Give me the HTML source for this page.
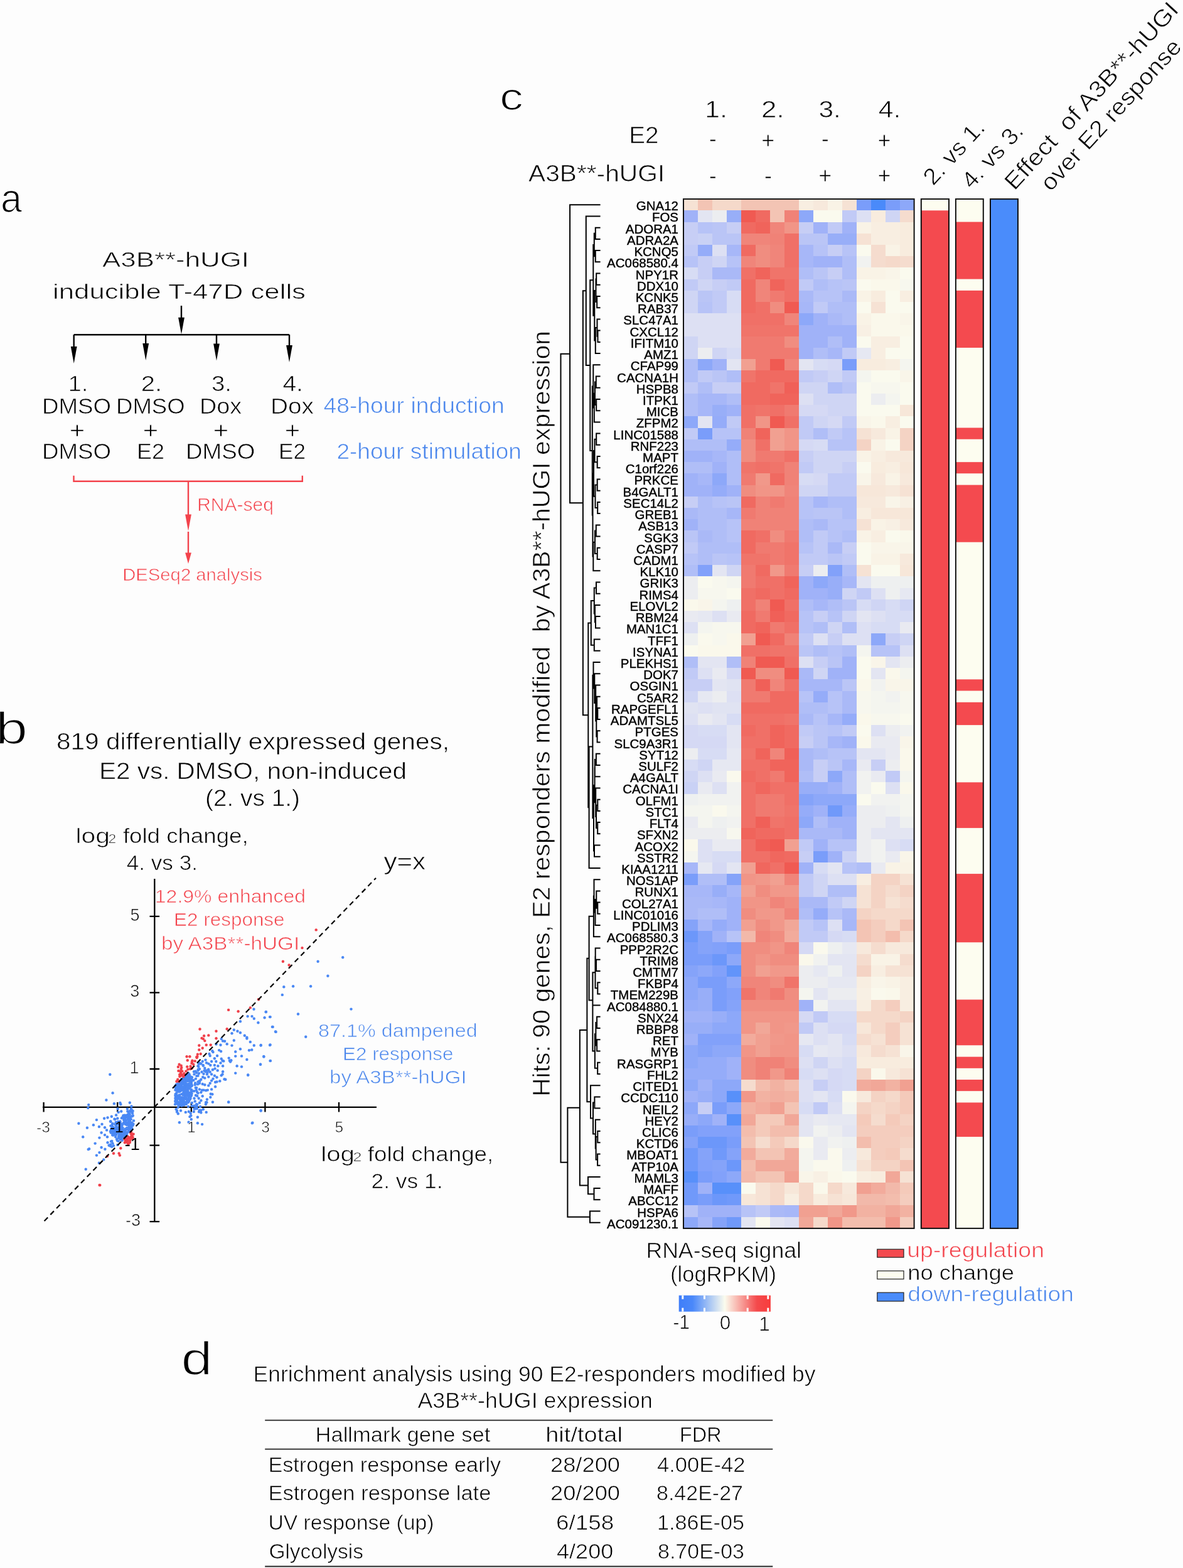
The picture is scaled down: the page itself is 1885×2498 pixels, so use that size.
<!DOCTYPE html><html><head><meta charset="utf-8"><title>Figure</title><style>html,body{margin:0;padding:0;background:#fdfdfd;}svg{display:block;}text{font-family:'Liberation Sans', Arial, sans-serif;} .th{stroke:#fdfdfd;stroke-width:0.7px;} .thp{stroke:#fdfdfd;stroke-width:1.6px;}</style></head><body>
<svg width="1885" height="2498" viewBox="0 0 1885 2498">
<rect width="1885" height="2498" fill="#fdfdfd"/>
<g stroke="#000" stroke-width="2.4" fill="none">
<path d="M289 487V510M117.7 533.3H461M117.7 533.3V555M232.2 533.3V550M345 533.3V550M461 533.3V552"/>
</g>
<path d="M284.1 505.8L293.9 505.8L289.0 532.5Z" fill="#000"/>
<path d="M112.8 551.9L122.6 551.9L117.7 578.9Z" fill="#000"/>
<path d="M227.3 547.1L237.1 547.1L232.2 574.1Z" fill="#000"/>
<path d="M340.1 547.5L349.9 547.5L345.0 574.5Z" fill="#000"/>
<path d="M456.1 550.0L465.9 550.0L461.0 577.0Z" fill="#000"/>
<path d="M117.5 757.7V766.8H481.8V757.7M300 766.8V825M300 847V882" stroke="#f3434c" stroke-width="2.4" fill="none"/>
<path d="M295.1 819.5L304.9 819.5L300.0 846.0Z" fill="#f3434c"/>
<path d="M295.1 880.6L304.9 880.6L300.0 898.0Z" fill="#f3434c"/>
<g stroke="#000" stroke-width="2.3" fill="none">
<path d="M246.3 1399.9V1946.2M68 1763.8H600"/>
<path d="M69.6 1756V1771.5M187.2 1756V1771.5M304.8 1756V1771.5M422.4 1756V1771.5M540.0 1756V1771.5M238.5 1459.8H254.1M238.5 1581.4H254.1M238.5 1703.0H254.1M238.5 1824.6H254.1M238.5 1946.2H254.1"/>
</g>
<g fill="#4a88f4"><circle cx="546.2" cy="1525.2" r="2.2"/><circle cx="506.6" cy="1531.7" r="2.2"/><circle cx="522.4" cy="1554.7" r="2.2"/><circle cx="452.3" cy="1572.3" r="2.2"/><circle cx="467.1" cy="1571.2" r="2.2"/><circle cx="495.1" cy="1571.2" r="2.2"/><circle cx="449.8" cy="1584.9" r="2.2"/><circle cx="559.5" cy="1607.6" r="2.2"/><circle cx="475.0" cy="1615.5" r="2.2"/><circle cx="487.2" cy="1651.8" r="2.2"/><circle cx="404.5" cy="1607.7" r="2.2"/><circle cx="423.7" cy="1612.2" r="2.2"/><circle cx="394.6" cy="1619.1" r="2.2"/><circle cx="401.5" cy="1619.1" r="2.2"/><circle cx="404.8" cy="1622.7" r="2.2"/><circle cx="421.6" cy="1621.3" r="2.2"/><circle cx="430.6" cy="1620.1" r="2.2"/><circle cx="411.4" cy="1629.3" r="2.2"/><circle cx="382.9" cy="1627.3" r="2.2"/><circle cx="433.9" cy="1635.9" r="2.2"/><circle cx="439.6" cy="1643.9" r="2.2"/><circle cx="372.8" cy="1640.7" r="2.2"/><circle cx="378.4" cy="1642.7" r="2.2"/><circle cx="382.9" cy="1645.3" r="2.2"/><circle cx="369.5" cy="1646.2" r="2.2"/><circle cx="389.8" cy="1649.7" r="2.2"/><circle cx="393.4" cy="1652.7" r="2.2"/><circle cx="393.4" cy="1654.5" r="2.2"/><circle cx="372.8" cy="1657.5" r="2.2"/><circle cx="352.7" cy="1655.1" r="2.2"/><circle cx="355.1" cy="1658.4" r="2.2"/><circle cx="358.1" cy="1658.7" r="2.2"/><circle cx="398.8" cy="1659.9" r="2.2"/><circle cx="361.7" cy="1663.2" r="2.2"/><circle cx="369.5" cy="1665.6" r="2.2"/><circle cx="351.5" cy="1664.7" r="2.2"/><circle cx="344.5" cy="1663.5" r="2.2"/><circle cx="404.8" cy="1665.5" r="2.2"/><circle cx="415.6" cy="1665.5" r="2.2"/><circle cx="430.6" cy="1664.4" r="2.2"/><circle cx="382.9" cy="1671.3" r="2.2"/><circle cx="397.0" cy="1673.3" r="2.2"/><circle cx="401.2" cy="1672.5" r="2.2"/><circle cx="375.2" cy="1675.5" r="2.2"/><circle cx="375.2" cy="1682.6" r="2.2"/><circle cx="349.1" cy="1673.1" r="2.2"/><circle cx="352.1" cy="1674.9" r="2.2"/><circle cx="338.3" cy="1674.3" r="2.2"/><circle cx="339.5" cy="1676.1" r="2.2"/><circle cx="346.1" cy="1682.0" r="2.2"/><circle cx="333.5" cy="1679.0" r="2.2"/><circle cx="334.7" cy="1682.0" r="2.2"/><circle cx="385.0" cy="1682.4" r="2.2"/><circle cx="420.4" cy="1683.6" r="2.2"/><circle cx="364.7" cy="1685.6" r="2.2"/><circle cx="365.9" cy="1689.8" r="2.2"/><circle cx="368.3" cy="1689.2" r="2.2"/><circle cx="367.1" cy="1691.6" r="2.2"/><circle cx="393.4" cy="1688.0" r="2.2"/><circle cx="430.6" cy="1690.1" r="2.2"/><circle cx="341.9" cy="1686.2" r="2.2"/><circle cx="352.7" cy="1686.8" r="2.2"/><circle cx="354.5" cy="1689.8" r="2.2"/><circle cx="356.3" cy="1690.4" r="2.2"/><circle cx="351.5" cy="1693.4" r="2.2"/><circle cx="347.3" cy="1698.2" r="2.2"/><circle cx="355.1" cy="1698.2" r="2.2"/><circle cx="415.0" cy="1695.8" r="2.2"/><circle cx="377.6" cy="1698.2" r="2.2"/><circle cx="385.0" cy="1699.4" r="2.2"/><circle cx="342.5" cy="1702.4" r="2.2"/><circle cx="346.7" cy="1705.4" r="2.2"/><circle cx="355.1" cy="1707.2" r="2.2"/><circle cx="352.7" cy="1713.2" r="2.2"/><circle cx="354.5" cy="1711.4" r="2.2"/><circle cx="375.2" cy="1709.6" r="2.2"/><circle cx="395.2" cy="1712.8" r="2.2"/><circle cx="345.5" cy="1716.2" r="2.2"/><circle cx="350.3" cy="1722.2" r="2.2"/><circle cx="357.5" cy="1719.2" r="2.2"/><circle cx="359.3" cy="1719.8" r="2.2"/><circle cx="337.1" cy="1721.6" r="2.2"/><circle cx="343.1" cy="1724.0" r="2.2"/><circle cx="345.5" cy="1723.4" r="2.2"/><circle cx="343.1" cy="1731.2" r="2.2"/><circle cx="337.1" cy="1735.4" r="2.2"/><circle cx="338.3" cy="1743.2" r="2.2"/><circle cx="335.3" cy="1748.0" r="2.2"/><circle cx="329.9" cy="1751.5" r="2.2"/><circle cx="322.7" cy="1746.2" r="2.2"/><circle cx="324.5" cy="1736.6" r="2.2"/><circle cx="328.1" cy="1737.2" r="2.2"/><circle cx="338.9" cy="1755.7" r="2.2"/><circle cx="364.1" cy="1755.7" r="2.2"/><circle cx="319.1" cy="1762.9" r="2.2"/><circle cx="320.3" cy="1768.9" r="2.2"/><circle cx="320.3" cy="1772.5" r="2.2"/><circle cx="328.7" cy="1771.9" r="2.2"/><circle cx="295.8" cy="1771.9" r="2.2"/><circle cx="282.0" cy="1771.3" r="2.2"/><circle cx="283.8" cy="1774.3" r="2.2"/><circle cx="304.2" cy="1777.3" r="2.2"/><circle cx="302.4" cy="1779.1" r="2.2"/><circle cx="314.9" cy="1779.7" r="2.2"/><circle cx="304.8" cy="1783.3" r="2.2"/><circle cx="314.9" cy="1789.3" r="2.2"/><circle cx="322.1" cy="1791.1" r="2.2"/><circle cx="415.6" cy="1769.5" r="2.2"/><circle cx="401.8" cy="1789.3" r="2.2"/><circle cx="309.5" cy="1766.5" r="2.2"/><circle cx="312.5" cy="1764.1" r="2.2"/><circle cx="309.5" cy="1761.7" r="2.2"/><circle cx="305.9" cy="1761.7" r="2.2"/><circle cx="300.0" cy="1762.9" r="2.2"/><circle cx="283.8" cy="1764.1" r="2.2"/><circle cx="282.0" cy="1769.5" r="2.2"/><circle cx="332.3" cy="1694.6" r="2.2"/><circle cx="335.3" cy="1697.0" r="2.2"/><circle cx="326.3" cy="1701.8" r="2.2"/><circle cx="328.7" cy="1705.4" r="2.2"/><circle cx="321.5" cy="1707.8" r="2.2"/><circle cx="324.5" cy="1710.8" r="2.2"/><circle cx="329.9" cy="1711.4" r="2.2"/><circle cx="332.3" cy="1715.6" r="2.2"/><circle cx="326.3" cy="1717.4" r="2.2"/><circle cx="320.3" cy="1719.8" r="2.2"/><circle cx="315.5" cy="1723.4" r="2.2"/><circle cx="317.9" cy="1725.8" r="2.2"/><circle cx="322.7" cy="1727.0" r="2.2"/><circle cx="326.3" cy="1728.2" r="2.2"/><circle cx="332.3" cy="1729.4" r="2.2"/><circle cx="334.7" cy="1725.8" r="2.2"/><circle cx="339.5" cy="1718.6" r="2.2"/><circle cx="341.9" cy="1713.8" r="2.2"/><circle cx="337.1" cy="1711.4" r="2.2"/><circle cx="334.7" cy="1707.8" r="2.2"/><circle cx="338.9" cy="1704.2" r="2.2"/><circle cx="341.9" cy="1697.0" r="2.2"/><circle cx="344.3" cy="1691.0" r="2.2"/><circle cx="337.1" cy="1691.0" r="2.2"/><circle cx="327.5" cy="1688.6" r="2.2"/><circle cx="322.7" cy="1691.0" r="2.2"/><circle cx="320.3" cy="1694.6" r="2.2"/><circle cx="315.5" cy="1698.2" r="2.2"/><circle cx="317.9" cy="1703.0" r="2.2"/><circle cx="313.1" cy="1709.0" r="2.2"/><circle cx="315.5" cy="1713.8" r="2.2"/><circle cx="311.9" cy="1718.6" r="2.2"/><circle cx="309.5" cy="1711.4" r="2.2"/><circle cx="305.9" cy="1716.2" r="2.2"/><circle cx="308.3" cy="1721.0" r="2.2"/><circle cx="310.7" cy="1728.2" r="2.2"/><circle cx="305.9" cy="1729.4" r="2.2"/><circle cx="313.1" cy="1733.0" r="2.2"/><circle cx="317.9" cy="1735.4" r="2.2"/><circle cx="320.3" cy="1740.2" r="2.2"/><circle cx="315.5" cy="1741.4" r="2.2"/><circle cx="311.9" cy="1745.0" r="2.2"/><circle cx="316.7" cy="1749.7" r="2.2"/><circle cx="320.3" cy="1753.3" r="2.2"/><circle cx="309.5" cy="1749.7" r="2.2"/><circle cx="310.7" cy="1754.5" r="2.2"/><circle cx="305.9" cy="1756.9" r="2.2"/><circle cx="313.1" cy="1759.3" r="2.2"/><circle cx="317.9" cy="1756.9" r="2.2"/><circle cx="175.3" cy="1711.8" r="2.2"/><circle cx="179.6" cy="1741.2" r="2.2"/><circle cx="169.4" cy="1752.5" r="2.2"/><circle cx="181.9" cy="1758.3" r="2.2"/><circle cx="141.2" cy="1760.1" r="2.2"/><circle cx="140.3" cy="1765.1" r="2.2"/><circle cx="191.4" cy="1757.0" r="2.2"/><circle cx="192.3" cy="1759.2" r="2.2"/><circle cx="206.8" cy="1756.8" r="2.2"/><circle cx="209.5" cy="1762.4" r="2.2"/><circle cx="187.6" cy="1766.5" r="2.2"/><circle cx="193.2" cy="1770.5" r="2.2"/><circle cx="188.7" cy="1771.9" r="2.2"/><circle cx="185.1" cy="1776.4" r="2.2"/><circle cx="177.8" cy="1778.7" r="2.2"/><circle cx="171.5" cy="1780.5" r="2.2"/><circle cx="166.1" cy="1781.8" r="2.2"/><circle cx="153.9" cy="1784.1" r="2.2"/><circle cx="125.4" cy="1789.7" r="2.2"/><circle cx="176.0" cy="1786.4" r="2.2"/><circle cx="182.4" cy="1782.8" r="2.2"/><circle cx="187.3" cy="1781.8" r="2.2"/><circle cx="162.5" cy="1790.9" r="2.2"/><circle cx="148.9" cy="1792.2" r="2.2"/><circle cx="157.9" cy="1795.0" r="2.2"/><circle cx="138.9" cy="1796.8" r="2.2"/><circle cx="167.0" cy="1796.3" r="2.2"/><circle cx="170.1" cy="1800.4" r="2.2"/><circle cx="161.6" cy="1804.5" r="2.2"/><circle cx="167.0" cy="1808.1" r="2.2"/><circle cx="171.0" cy="1811.2" r="2.2"/><circle cx="132.2" cy="1811.2" r="2.2"/><circle cx="158.4" cy="1812.6" r="2.2"/><circle cx="178.7" cy="1804.9" r="2.2"/><circle cx="181.4" cy="1803.1" r="2.2"/><circle cx="151.6" cy="1821.6" r="2.2"/><circle cx="171.5" cy="1820.3" r="2.2"/><circle cx="178.3" cy="1818.0" r="2.2"/><circle cx="179.6" cy="1821.6" r="2.2"/><circle cx="176.0" cy="1825.7" r="2.2"/><circle cx="187.3" cy="1823.9" r="2.2"/><circle cx="186.9" cy="1817.1" r="2.2"/><circle cx="161.6" cy="1828.0" r="2.2"/><circle cx="167.4" cy="1830.7" r="2.2"/><circle cx="140.7" cy="1831.1" r="2.2"/><circle cx="142.1" cy="1830.2" r="2.2"/><circle cx="158.4" cy="1836.1" r="2.2"/><circle cx="153.9" cy="1840.6" r="2.2"/><circle cx="165.2" cy="1847.4" r="2.2"/><circle cx="157.9" cy="1852.8" r="2.2"/><circle cx="136.7" cy="1862.8" r="2.2"/><circle cx="176.9" cy="1800.4" r="2.2"/><circle cx="178.7" cy="1792.2" r="2.2"/><circle cx="184.2" cy="1790.4" r="2.2"/><circle cx="176.5" cy="1786.8" r="2.2"/><circle cx="183.3" cy="1783.2" r="2.2"/><circle cx="178.7" cy="1799.5" r="2.2"/><circle cx="180.5" cy="1808.5" r="2.2"/><circle cx="184.2" cy="1811.2" r="2.2"/><circle cx="186.0" cy="1814.9" r="2.2"/><circle cx="188.7" cy="1813.1" r="2.2"/><circle cx="423.9" cy="1611.9" r="2.2"/><circle cx="430.0" cy="1620.1" r="2.2"/><circle cx="434.7" cy="1636.0" r="2.2"/><circle cx="439.0" cy="1643.5" r="2.2"/><circle cx="415.7" cy="1665.0" r="2.2"/><circle cx="430.0" cy="1665.0" r="2.2"/><circle cx="420.3" cy="1683.0" r="2.2"/><circle cx="430.8" cy="1689.9" r="2.2"/><circle cx="415.0" cy="1695.6" r="2.2"/><circle cx="364.3" cy="1755.7" r="2.2"/><circle cx="395.2" cy="1712.5" r="2.2"/><circle cx="402.4" cy="1788.7" r="2.2"/><circle cx="415.7" cy="1769.3" r="2.2"/><circle cx="293.2" cy="1725.8" r="2.2"/><circle cx="280.1" cy="1733.9" r="2.2"/><circle cx="279.5" cy="1729.7" r="2.2"/><circle cx="290.2" cy="1752.1" r="2.2"/><circle cx="295.8" cy="1759.0" r="2.2"/><circle cx="294.4" cy="1727.6" r="2.2"/><circle cx="302.1" cy="1721.5" r="2.2"/><circle cx="287.0" cy="1751.5" r="2.2"/><circle cx="283.5" cy="1738.2" r="2.2"/><circle cx="296.1" cy="1726.2" r="2.2"/><circle cx="297.2" cy="1729.4" r="2.2"/><circle cx="287.1" cy="1738.4" r="2.2"/><circle cx="291.0" cy="1722.1" r="2.2"/><circle cx="300.3" cy="1744.8" r="2.2"/><circle cx="285.2" cy="1737.7" r="2.2"/><circle cx="292.9" cy="1754.9" r="2.2"/><circle cx="298.6" cy="1721.4" r="2.2"/><circle cx="290.0" cy="1748.2" r="2.2"/><circle cx="282.7" cy="1732.9" r="2.2"/><circle cx="279.6" cy="1743.1" r="2.2"/><circle cx="299.5" cy="1737.7" r="2.2"/><circle cx="302.6" cy="1722.9" r="2.2"/><circle cx="297.6" cy="1738.9" r="2.2"/><circle cx="294.4" cy="1731.0" r="2.2"/><circle cx="291.5" cy="1742.9" r="2.2"/><circle cx="280.2" cy="1745.0" r="2.2"/><circle cx="301.1" cy="1721.2" r="2.2"/><circle cx="289.1" cy="1743.1" r="2.2"/><circle cx="279.1" cy="1731.3" r="2.2"/><circle cx="280.1" cy="1748.8" r="2.2"/><circle cx="289.3" cy="1754.7" r="2.2"/><circle cx="280.7" cy="1730.6" r="2.2"/><circle cx="293.6" cy="1755.4" r="2.2"/><circle cx="301.0" cy="1754.2" r="2.2"/><circle cx="286.2" cy="1728.7" r="2.2"/><circle cx="288.4" cy="1755.4" r="2.2"/><circle cx="284.9" cy="1732.6" r="2.2"/><circle cx="294.7" cy="1720.0" r="2.2"/><circle cx="288.7" cy="1737.3" r="2.2"/><circle cx="304.7" cy="1744.4" r="2.2"/><circle cx="292.7" cy="1740.2" r="2.2"/><circle cx="303.2" cy="1749.5" r="2.2"/><circle cx="302.5" cy="1750.5" r="2.2"/><circle cx="289.3" cy="1727.7" r="2.2"/><circle cx="281.3" cy="1741.2" r="2.2"/><circle cx="279.2" cy="1754.8" r="2.2"/><circle cx="295.4" cy="1713.5" r="2.2"/><circle cx="285.4" cy="1724.8" r="2.2"/><circle cx="291.3" cy="1732.6" r="2.2"/><circle cx="301.3" cy="1714.2" r="2.2"/><circle cx="279.1" cy="1759.2" r="2.2"/><circle cx="293.0" cy="1760.8" r="2.2"/><circle cx="302.2" cy="1744.7" r="2.2"/><circle cx="285.7" cy="1725.9" r="2.2"/><circle cx="283.1" cy="1749.0" r="2.2"/><circle cx="293.1" cy="1749.4" r="2.2"/><circle cx="301.9" cy="1750.9" r="2.2"/><circle cx="301.0" cy="1747.2" r="2.2"/><circle cx="284.7" cy="1734.5" r="2.2"/><circle cx="285.6" cy="1744.5" r="2.2"/><circle cx="304.8" cy="1730.5" r="2.2"/><circle cx="304.8" cy="1725.8" r="2.2"/><circle cx="295.7" cy="1756.3" r="2.2"/><circle cx="301.6" cy="1732.3" r="2.2"/><circle cx="296.5" cy="1750.6" r="2.2"/><circle cx="280.8" cy="1742.7" r="2.2"/><circle cx="303.5" cy="1749.6" r="2.2"/><circle cx="299.1" cy="1732.2" r="2.2"/><circle cx="283.4" cy="1750.0" r="2.2"/><circle cx="287.6" cy="1750.6" r="2.2"/><circle cx="305.2" cy="1727.6" r="2.2"/><circle cx="289.5" cy="1759.0" r="2.2"/><circle cx="298.4" cy="1714.7" r="2.2"/><circle cx="282.5" cy="1752.1" r="2.2"/><circle cx="305.5" cy="1742.5" r="2.2"/><circle cx="288.1" cy="1736.3" r="2.2"/><circle cx="305.2" cy="1742.0" r="2.2"/><circle cx="293.0" cy="1758.2" r="2.2"/><circle cx="290.4" cy="1754.7" r="2.2"/><circle cx="301.2" cy="1717.0" r="2.2"/><circle cx="285.1" cy="1738.4" r="2.2"/><circle cx="285.6" cy="1728.9" r="2.2"/><circle cx="282.1" cy="1756.9" r="2.2"/><circle cx="288.2" cy="1731.1" r="2.2"/><circle cx="294.5" cy="1756.5" r="2.2"/><circle cx="290.1" cy="1757.3" r="2.2"/><circle cx="292.3" cy="1735.3" r="2.2"/><circle cx="283.2" cy="1732.0" r="2.2"/><circle cx="298.4" cy="1736.7" r="2.2"/><circle cx="287.5" cy="1734.5" r="2.2"/><circle cx="293.8" cy="1749.7" r="2.2"/><circle cx="281.4" cy="1736.9" r="2.2"/><circle cx="299.7" cy="1733.9" r="2.2"/><circle cx="293.9" cy="1748.3" r="2.2"/><circle cx="303.6" cy="1730.3" r="2.2"/><circle cx="295.3" cy="1733.8" r="2.2"/><circle cx="292.6" cy="1744.5" r="2.2"/><circle cx="290.9" cy="1735.4" r="2.2"/><circle cx="291.6" cy="1758.7" r="2.2"/><circle cx="297.7" cy="1755.0" r="2.2"/><circle cx="304.4" cy="1719.8" r="2.2"/><circle cx="293.9" cy="1758.8" r="2.2"/><circle cx="301.6" cy="1712.8" r="2.2"/><circle cx="281.8" cy="1730.2" r="2.2"/><circle cx="280.5" cy="1743.2" r="2.2"/><circle cx="300.1" cy="1756.1" r="2.2"/><circle cx="282.7" cy="1745.8" r="2.2"/><circle cx="296.7" cy="1713.1" r="2.2"/><circle cx="284.5" cy="1759.3" r="2.2"/><circle cx="289.5" cy="1732.8" r="2.2"/><circle cx="282.9" cy="1729.6" r="2.2"/><circle cx="292.7" cy="1724.3" r="2.2"/><circle cx="293.7" cy="1730.1" r="2.2"/><circle cx="295.7" cy="1734.2" r="2.2"/><circle cx="279.6" cy="1749.4" r="2.2"/><circle cx="290.1" cy="1757.0" r="2.2"/><circle cx="301.0" cy="1719.7" r="2.2"/><circle cx="282.6" cy="1757.4" r="2.2"/><circle cx="294.2" cy="1744.9" r="2.2"/><circle cx="297.4" cy="1729.2" r="2.2"/><circle cx="280.5" cy="1758.5" r="2.2"/><circle cx="295.9" cy="1750.7" r="2.2"/><circle cx="280.8" cy="1753.8" r="2.2"/><circle cx="280.3" cy="1754.2" r="2.2"/><circle cx="291.0" cy="1724.3" r="2.2"/><circle cx="293.7" cy="1757.8" r="2.2"/><circle cx="293.0" cy="1718.6" r="2.2"/><circle cx="287.1" cy="1722.4" r="2.2"/><circle cx="299.4" cy="1721.5" r="2.2"/><circle cx="298.7" cy="1736.4" r="2.2"/><circle cx="283.7" cy="1732.1" r="2.2"/><circle cx="301.0" cy="1729.6" r="2.2"/><circle cx="292.1" cy="1752.6" r="2.2"/><circle cx="289.3" cy="1733.9" r="2.2"/><circle cx="287.9" cy="1752.4" r="2.2"/><circle cx="297.9" cy="1741.3" r="2.2"/><circle cx="289.6" cy="1724.8" r="2.2"/><circle cx="280.4" cy="1747.2" r="2.2"/><circle cx="280.8" cy="1753.0" r="2.2"/><circle cx="302.4" cy="1743.2" r="2.2"/><circle cx="286.6" cy="1731.2" r="2.2"/><circle cx="282.8" cy="1730.4" r="2.2"/><circle cx="285.7" cy="1759.8" r="2.2"/><circle cx="305.2" cy="1736.2" r="2.2"/><circle cx="285.2" cy="1760.0" r="2.2"/><circle cx="287.0" cy="1725.3" r="2.2"/><circle cx="291.6" cy="1733.7" r="2.2"/><circle cx="284.0" cy="1733.8" r="2.2"/><circle cx="281.0" cy="1727.8" r="2.2"/><circle cx="294.6" cy="1735.2" r="2.2"/><circle cx="299.1" cy="1742.5" r="2.2"/><circle cx="298.2" cy="1755.1" r="2.2"/><circle cx="289.2" cy="1723.6" r="2.2"/><circle cx="298.4" cy="1741.7" r="2.2"/><circle cx="279.7" cy="1752.6" r="2.2"/><circle cx="303.0" cy="1740.8" r="2.2"/><circle cx="298.7" cy="1751.3" r="2.2"/><circle cx="282.3" cy="1734.9" r="2.2"/><circle cx="292.4" cy="1752.6" r="2.2"/><circle cx="300.6" cy="1752.1" r="2.2"/><circle cx="294.6" cy="1755.9" r="2.2"/><circle cx="297.3" cy="1744.5" r="2.2"/><circle cx="281.4" cy="1752.6" r="2.2"/><circle cx="293.9" cy="1740.8" r="2.2"/><circle cx="295.7" cy="1743.8" r="2.2"/><circle cx="300.4" cy="1747.7" r="2.2"/><circle cx="292.3" cy="1735.5" r="2.2"/><circle cx="298.8" cy="1719.4" r="2.2"/><circle cx="298.6" cy="1716.7" r="2.2"/><circle cx="292.1" cy="1726.8" r="2.2"/><circle cx="291.7" cy="1744.0" r="2.2"/><circle cx="299.6" cy="1740.2" r="2.2"/><circle cx="298.9" cy="1722.4" r="2.2"/><circle cx="297.0" cy="1744.5" r="2.2"/><circle cx="297.1" cy="1721.6" r="2.2"/><circle cx="292.7" cy="1731.5" r="2.2"/><circle cx="303.1" cy="1716.4" r="2.2"/><circle cx="279.0" cy="1731.2" r="2.2"/><circle cx="290.9" cy="1720.3" r="2.2"/><circle cx="284.3" cy="1758.9" r="2.2"/><circle cx="284.3" cy="1738.1" r="2.2"/><circle cx="282.4" cy="1734.9" r="2.2"/><circle cx="301.1" cy="1734.0" r="2.2"/><circle cx="302.9" cy="1745.1" r="2.2"/><circle cx="284.9" cy="1756.2" r="2.2"/><circle cx="290.9" cy="1722.2" r="2.2"/><circle cx="287.2" cy="1752.9" r="2.2"/><circle cx="301.6" cy="1711.8" r="2.2"/><circle cx="304.0" cy="1745.6" r="2.2"/><circle cx="303.3" cy="1721.5" r="2.2"/><circle cx="288.7" cy="1727.4" r="2.2"/><circle cx="306.0" cy="1738.6" r="2.2"/><circle cx="288.4" cy="1729.4" r="2.2"/><circle cx="281.3" cy="1752.6" r="2.2"/><circle cx="286.4" cy="1758.3" r="2.2"/><circle cx="292.6" cy="1715.8" r="2.2"/><circle cx="288.8" cy="1759.5" r="2.2"/><circle cx="302.8" cy="1751.3" r="2.2"/><circle cx="295.8" cy="1757.1" r="2.2"/><circle cx="304.4" cy="1736.3" r="2.2"/><circle cx="298.6" cy="1730.7" r="2.2"/><circle cx="299.2" cy="1741.7" r="2.2"/><circle cx="291.5" cy="1724.6" r="2.2"/><circle cx="286.7" cy="1747.1" r="2.2"/><circle cx="305.3" cy="1719.8" r="2.2"/><circle cx="296.5" cy="1722.1" r="2.2"/><circle cx="293.8" cy="1727.5" r="2.2"/><circle cx="284.2" cy="1756.6" r="2.2"/><circle cx="292.2" cy="1717.5" r="2.2"/><circle cx="294.2" cy="1755.6" r="2.2"/><circle cx="299.1" cy="1728.5" r="2.2"/><circle cx="289.9" cy="1734.9" r="2.2"/><circle cx="288.9" cy="1724.3" r="2.2"/><circle cx="292.3" cy="1740.9" r="2.2"/><circle cx="302.2" cy="1717.3" r="2.2"/><circle cx="289.5" cy="1730.4" r="2.2"/><circle cx="279.4" cy="1745.4" r="2.2"/><circle cx="303.1" cy="1732.0" r="2.2"/><circle cx="289.3" cy="1757.8" r="2.2"/><circle cx="301.2" cy="1753.8" r="2.2"/><circle cx="305.2" cy="1719.2" r="2.2"/><circle cx="292.9" cy="1743.9" r="2.2"/><circle cx="304.4" cy="1746.1" r="2.2"/><circle cx="296.3" cy="1748.6" r="2.2"/><circle cx="291.1" cy="1736.4" r="2.2"/><circle cx="279.6" cy="1749.6" r="2.2"/><circle cx="284.9" cy="1757.4" r="2.2"/><circle cx="296.3" cy="1722.3" r="2.2"/><circle cx="296.0" cy="1744.8" r="2.2"/><circle cx="292.9" cy="1738.2" r="2.2"/><circle cx="286.8" cy="1731.3" r="2.2"/><circle cx="304.9" cy="1741.7" r="2.2"/><circle cx="302.8" cy="1732.1" r="2.2"/><circle cx="304.9" cy="1745.2" r="2.2"/><circle cx="292.2" cy="1743.4" r="2.2"/><circle cx="290.1" cy="1719.7" r="2.2"/><circle cx="296.9" cy="1757.7" r="2.2"/><circle cx="287.8" cy="1729.0" r="2.2"/><circle cx="297.3" cy="1716.3" r="2.2"/><circle cx="300.4" cy="1747.1" r="2.2"/><circle cx="292.4" cy="1716.7" r="2.2"/><circle cx="305.2" cy="1722.8" r="2.2"/><circle cx="301.1" cy="1718.2" r="2.2"/><circle cx="284.6" cy="1748.3" r="2.2"/><circle cx="286.6" cy="1759.3" r="2.2"/><circle cx="284.6" cy="1728.8" r="2.2"/><circle cx="296.8" cy="1759.1" r="2.2"/><circle cx="282.5" cy="1727.4" r="2.2"/><circle cx="284.4" cy="1760.5" r="2.2"/><circle cx="304.1" cy="1723.8" r="2.2"/><circle cx="283.6" cy="1758.3" r="2.2"/><circle cx="296.8" cy="1726.6" r="2.2"/><circle cx="288.8" cy="1723.9" r="2.2"/><circle cx="286.2" cy="1725.0" r="2.2"/><circle cx="288.3" cy="1751.8" r="2.2"/><circle cx="301.1" cy="1729.6" r="2.2"/><circle cx="279.9" cy="1732.0" r="2.2"/><circle cx="288.7" cy="1757.4" r="2.2"/><circle cx="283.8" cy="1725.8" r="2.2"/><circle cx="289.8" cy="1751.3" r="2.2"/><circle cx="303.8" cy="1719.6" r="2.2"/><circle cx="299.1" cy="1756.2" r="2.2"/><circle cx="304.8" cy="1740.2" r="2.2"/><circle cx="285.7" cy="1745.8" r="2.2"/><circle cx="303.7" cy="1741.1" r="2.2"/><circle cx="284.9" cy="1732.1" r="2.2"/><circle cx="289.1" cy="1719.3" r="2.2"/><circle cx="290.3" cy="1733.1" r="2.2"/><circle cx="304.0" cy="1715.4" r="2.2"/><circle cx="300.6" cy="1747.1" r="2.2"/><circle cx="301.1" cy="1749.1" r="2.2"/><circle cx="295.2" cy="1723.7" r="2.2"/><circle cx="287.3" cy="1725.6" r="2.2"/><circle cx="300.0" cy="1709.5" r="2.2"/><circle cx="283.9" cy="1747.9" r="2.2"/><circle cx="279.4" cy="1736.5" r="2.2"/><circle cx="287.5" cy="1760.9" r="2.2"/><circle cx="281.2" cy="1733.4" r="2.2"/><circle cx="298.0" cy="1730.5" r="2.2"/><circle cx="284.9" cy="1728.8" r="2.2"/><circle cx="295.6" cy="1743.4" r="2.2"/><circle cx="299.1" cy="1753.3" r="2.2"/><circle cx="296.8" cy="1711.9" r="2.2"/><circle cx="301.6" cy="1721.7" r="2.2"/><circle cx="294.1" cy="1726.3" r="2.2"/><circle cx="298.8" cy="1716.4" r="2.2"/><circle cx="282.7" cy="1755.4" r="2.2"/><circle cx="294.4" cy="1723.6" r="2.2"/><circle cx="289.4" cy="1761.6" r="2.2"/><circle cx="292.5" cy="1718.2" r="2.2"/><circle cx="300.7" cy="1742.2" r="2.2"/><circle cx="291.6" cy="1751.7" r="2.2"/><circle cx="305.3" cy="1738.2" r="2.2"/><circle cx="304.1" cy="1726.2" r="2.2"/><circle cx="302.3" cy="1730.6" r="2.2"/><circle cx="285.6" cy="1749.3" r="2.2"/><circle cx="294.9" cy="1740.3" r="2.2"/><circle cx="284.5" cy="1726.0" r="2.2"/><circle cx="285.5" cy="1739.2" r="2.2"/><circle cx="296.4" cy="1716.6" r="2.2"/><circle cx="295.5" cy="1717.8" r="2.2"/><circle cx="325.5" cy="1705.7" r="2.2"/><circle cx="309.0" cy="1707.3" r="2.2"/><circle cx="330.8" cy="1736.6" r="2.2"/><circle cx="312.8" cy="1736.8" r="2.2"/><circle cx="323.8" cy="1697.7" r="2.2"/><circle cx="302.4" cy="1749.1" r="2.2"/><circle cx="313.4" cy="1714.1" r="2.2"/><circle cx="308.8" cy="1771.0" r="2.2"/><circle cx="309.1" cy="1738.2" r="2.2"/><circle cx="311.1" cy="1725.4" r="2.2"/><circle cx="311.4" cy="1706.8" r="2.2"/><circle cx="327.8" cy="1707.3" r="2.2"/><circle cx="314.1" cy="1759.7" r="2.2"/><circle cx="313.3" cy="1765.0" r="2.2"/><circle cx="315.7" cy="1703.8" r="2.2"/><circle cx="295.7" cy="1736.9" r="2.2"/><circle cx="323.8" cy="1767.3" r="2.2"/><circle cx="299.0" cy="1742.9" r="2.2"/><circle cx="311.7" cy="1732.9" r="2.2"/><circle cx="301.6" cy="1714.1" r="2.2"/><circle cx="318.5" cy="1768.7" r="2.2"/><circle cx="299.9" cy="1731.7" r="2.2"/><circle cx="316.7" cy="1694.5" r="2.2"/><circle cx="335.7" cy="1742.7" r="2.2"/><circle cx="332.1" cy="1703.6" r="2.2"/><circle cx="330.4" cy="1708.9" r="2.2"/><circle cx="313.2" cy="1761.9" r="2.2"/><circle cx="332.3" cy="1705.6" r="2.2"/><circle cx="304.8" cy="1724.0" r="2.2"/><circle cx="318.3" cy="1722.6" r="2.2"/><circle cx="300.5" cy="1711.0" r="2.2"/><circle cx="296.8" cy="1737.8" r="2.2"/><circle cx="329.1" cy="1693.2" r="2.2"/><circle cx="322.0" cy="1736.8" r="2.2"/><circle cx="323.2" cy="1716.0" r="2.2"/><circle cx="313.9" cy="1739.5" r="2.2"/><circle cx="314.2" cy="1746.0" r="2.2"/><circle cx="315.1" cy="1727.3" r="2.2"/><circle cx="296.1" cy="1742.6" r="2.2"/><circle cx="317.0" cy="1710.0" r="2.2"/><circle cx="329.4" cy="1756.3" r="2.2"/><circle cx="315.6" cy="1705.3" r="2.2"/><circle cx="316.3" cy="1699.1" r="2.2"/><circle cx="300.8" cy="1726.6" r="2.2"/><circle cx="299.1" cy="1727.6" r="2.2"/><circle cx="318.0" cy="1693.5" r="2.2"/><circle cx="323.6" cy="1697.0" r="2.2"/><circle cx="328.0" cy="1756.1" r="2.2"/><circle cx="318.0" cy="1694.6" r="2.2"/><circle cx="317.7" cy="1722.1" r="2.2"/><circle cx="327.9" cy="1759.3" r="2.2"/><circle cx="303.7" cy="1773.4" r="2.2"/><circle cx="317.1" cy="1771.3" r="2.2"/><circle cx="297.9" cy="1719.8" r="2.2"/><circle cx="311.5" cy="1766.4" r="2.2"/><circle cx="317.6" cy="1769.7" r="2.2"/><circle cx="314.1" cy="1766.0" r="2.2"/><circle cx="300.6" cy="1787.8" r="2.2"/><circle cx="288.0" cy="1769.4" r="2.2"/><circle cx="300.8" cy="1770.9" r="2.2"/><circle cx="280.6" cy="1767.1" r="2.2"/><circle cx="285.9" cy="1788.2" r="2.2"/><circle cx="198.3" cy="1776.6" r="2.2"/><circle cx="199.5" cy="1790.7" r="2.2"/><circle cx="180.5" cy="1799.2" r="2.2"/><circle cx="177.4" cy="1799.5" r="2.2"/><circle cx="197.3" cy="1784.2" r="2.2"/><circle cx="200.3" cy="1789.1" r="2.2"/><circle cx="211.0" cy="1773.4" r="2.2"/><circle cx="184.2" cy="1797.6" r="2.2"/><circle cx="195.3" cy="1799.4" r="2.2"/><circle cx="206.4" cy="1775.1" r="2.2"/><circle cx="205.3" cy="1803.2" r="2.2"/><circle cx="203.9" cy="1790.2" r="2.2"/><circle cx="203.8" cy="1789.5" r="2.2"/><circle cx="189.1" cy="1805.0" r="2.2"/><circle cx="202.7" cy="1779.8" r="2.2"/><circle cx="197.0" cy="1788.7" r="2.2"/><circle cx="205.5" cy="1793.2" r="2.2"/><circle cx="186.6" cy="1799.4" r="2.2"/><circle cx="211.8" cy="1777.3" r="2.2"/><circle cx="208.8" cy="1766.8" r="2.2"/><circle cx="203.9" cy="1783.0" r="2.2"/><circle cx="208.8" cy="1783.1" r="2.2"/><circle cx="199.8" cy="1802.0" r="2.2"/><circle cx="193.9" cy="1809.7" r="2.2"/><circle cx="192.8" cy="1803.7" r="2.2"/><circle cx="197.6" cy="1782.0" r="2.2"/><circle cx="184.7" cy="1798.4" r="2.2"/><circle cx="202.0" cy="1799.0" r="2.2"/><circle cx="202.2" cy="1804.3" r="2.2"/><circle cx="179.4" cy="1796.7" r="2.2"/><circle cx="190.1" cy="1808.5" r="2.2"/><circle cx="199.9" cy="1808.9" r="2.2"/><circle cx="199.8" cy="1780.9" r="2.2"/><circle cx="204.3" cy="1776.7" r="2.2"/><circle cx="188.5" cy="1788.0" r="2.2"/><circle cx="187.2" cy="1803.2" r="2.2"/><circle cx="211.8" cy="1792.2" r="2.2"/><circle cx="207.7" cy="1798.2" r="2.2"/><circle cx="192.8" cy="1806.2" r="2.2"/><circle cx="189.5" cy="1802.6" r="2.2"/><circle cx="196.4" cy="1777.3" r="2.2"/><circle cx="208.1" cy="1770.7" r="2.2"/><circle cx="206.6" cy="1774.9" r="2.2"/><circle cx="194.7" cy="1807.4" r="2.2"/><circle cx="183.7" cy="1791.7" r="2.2"/><circle cx="189.5" cy="1809.3" r="2.2"/><circle cx="202.3" cy="1791.9" r="2.2"/><circle cx="181.0" cy="1799.1" r="2.2"/><circle cx="202.2" cy="1806.9" r="2.2"/><circle cx="199.7" cy="1784.5" r="2.2"/><circle cx="191.5" cy="1786.5" r="2.2"/><circle cx="209.1" cy="1770.5" r="2.2"/><circle cx="209.1" cy="1767.3" r="2.2"/><circle cx="209.5" cy="1792.1" r="2.2"/><circle cx="190.7" cy="1812.0" r="2.2"/><circle cx="185.4" cy="1790.0" r="2.2"/><circle cx="196.2" cy="1805.2" r="2.2"/><circle cx="204.2" cy="1799.6" r="2.2"/><circle cx="200.9" cy="1804.6" r="2.2"/><circle cx="204.9" cy="1796.1" r="2.2"/><circle cx="209.0" cy="1778.4" r="2.2"/><circle cx="203.5" cy="1788.6" r="2.2"/><circle cx="184.1" cy="1799.2" r="2.2"/><circle cx="191.4" cy="1807.1" r="2.2"/><circle cx="202.0" cy="1792.0" r="2.2"/><circle cx="199.8" cy="1790.1" r="2.2"/><circle cx="182.1" cy="1797.4" r="2.2"/><circle cx="191.6" cy="1804.5" r="2.2"/><circle cx="209.8" cy="1788.4" r="2.2"/><circle cx="197.7" cy="1805.0" r="2.2"/><circle cx="204.9" cy="1802.4" r="2.2"/><circle cx="207.8" cy="1801.3" r="2.2"/><circle cx="200.2" cy="1789.6" r="2.2"/><circle cx="188.3" cy="1798.7" r="2.2"/><circle cx="205.2" cy="1803.1" r="2.2"/><circle cx="199.7" cy="1779.0" r="2.2"/><circle cx="192.3" cy="1789.7" r="2.2"/><circle cx="199.4" cy="1787.3" r="2.2"/><circle cx="183.6" cy="1800.0" r="2.2"/><circle cx="205.1" cy="1786.2" r="2.2"/><circle cx="194.7" cy="1816.7" r="2.2"/><circle cx="182.8" cy="1806.7" r="2.2"/><circle cx="211.0" cy="1793.0" r="2.2"/><circle cx="180.6" cy="1795.9" r="2.2"/><circle cx="196.5" cy="1803.3" r="2.2"/><circle cx="195.5" cy="1799.2" r="2.2"/><circle cx="206.9" cy="1793.1" r="2.2"/><circle cx="191.8" cy="1815.3" r="2.2"/><circle cx="184.6" cy="1801.6" r="2.2"/><circle cx="191.2" cy="1805.7" r="2.2"/><circle cx="192.2" cy="1802.3" r="2.2"/><circle cx="185.1" cy="1804.6" r="2.2"/><circle cx="210.9" cy="1793.4" r="2.2"/><circle cx="184.9" cy="1807.7" r="2.2"/><circle cx="181.7" cy="1806.4" r="2.2"/><circle cx="206.2" cy="1799.0" r="2.2"/><circle cx="193.9" cy="1795.2" r="2.2"/><circle cx="189.7" cy="1799.2" r="2.2"/><circle cx="193.9" cy="1781.3" r="2.2"/><circle cx="207.1" cy="1784.4" r="2.2"/><circle cx="207.7" cy="1779.9" r="2.2"/><circle cx="187.9" cy="1790.9" r="2.2"/><circle cx="192.5" cy="1799.1" r="2.2"/><circle cx="200.8" cy="1784.8" r="2.2"/><circle cx="200.7" cy="1779.0" r="2.2"/><circle cx="185.4" cy="1806.4" r="2.2"/><circle cx="199.0" cy="1806.6" r="2.2"/><circle cx="184.1" cy="1802.0" r="2.2"/><circle cx="196.2" cy="1804.6" r="2.2"/><circle cx="192.8" cy="1811.9" r="2.2"/><circle cx="197.0" cy="1779.8" r="2.2"/><circle cx="194.7" cy="1791.9" r="2.2"/><circle cx="196.5" cy="1810.9" r="2.2"/><circle cx="193.9" cy="1795.3" r="2.2"/><circle cx="201.0" cy="1809.7" r="2.2"/><circle cx="190.5" cy="1787.8" r="2.2"/><circle cx="211.7" cy="1769.9" r="2.2"/><circle cx="200.0" cy="1799.1" r="2.2"/><circle cx="178.0" cy="1797.7" r="2.2"/><circle cx="195.4" cy="1791.2" r="2.2"/><circle cx="209.4" cy="1767.8" r="2.2"/><circle cx="202.9" cy="1798.5" r="2.2"/><circle cx="189.2" cy="1810.8" r="2.2"/><circle cx="190.2" cy="1790.7" r="2.2"/><circle cx="196.0" cy="1806.1" r="2.2"/><circle cx="192.2" cy="1794.8" r="2.2"/><circle cx="206.8" cy="1781.2" r="2.2"/><circle cx="206.9" cy="1787.0" r="2.2"/><circle cx="195.2" cy="1780.1" r="2.2"/><circle cx="200.6" cy="1807.2" r="2.2"/><circle cx="187.8" cy="1796.5" r="2.2"/><circle cx="199.9" cy="1806.8" r="2.2"/><circle cx="178.4" cy="1803.6" r="2.2"/><circle cx="209.0" cy="1794.4" r="2.2"/><circle cx="210.3" cy="1797.7" r="2.2"/><circle cx="200.8" cy="1807.0" r="2.2"/><circle cx="209.8" cy="1797.8" r="2.2"/><circle cx="199.3" cy="1798.6" r="2.2"/><circle cx="202.1" cy="1797.0" r="2.2"/><circle cx="201.6" cy="1777.1" r="2.2"/><circle cx="201.1" cy="1789.8" r="2.2"/><circle cx="204.5" cy="1771.3" r="2.2"/><circle cx="200.7" cy="1785.2" r="2.2"/><circle cx="197.3" cy="1779.4" r="2.2"/><circle cx="187.9" cy="1787.9" r="2.2"/><circle cx="188.5" cy="1788.4" r="2.2"/><circle cx="179.0" cy="1795.5" r="2.2"/><circle cx="206.3" cy="1795.9" r="2.2"/><circle cx="210.2" cy="1789.2" r="2.2"/><circle cx="212.4" cy="1790.7" r="2.2"/><circle cx="200.3" cy="1777.0" r="2.2"/><circle cx="177.2" cy="1801.6" r="2.2"/><circle cx="203.0" cy="1778.6" r="2.2"/><circle cx="203.5" cy="1775.7" r="2.2"/><circle cx="203.3" cy="1770.4" r="2.2"/><circle cx="199.7" cy="1802.9" r="2.2"/><circle cx="193.6" cy="1814.5" r="2.2"/><circle cx="202.9" cy="1766.6" r="2.2"/><circle cx="177.5" cy="1799.8" r="2.2"/><circle cx="206.5" cy="1770.1" r="2.2"/><circle cx="188.2" cy="1803.9" r="2.2"/><circle cx="190.3" cy="1795.9" r="2.2"/><circle cx="192.8" cy="1801.2" r="2.2"/><circle cx="182.2" cy="1807.5" r="2.2"/><circle cx="190.1" cy="1799.5" r="2.2"/><circle cx="199.7" cy="1787.7" r="2.2"/><circle cx="190.9" cy="1806.9" r="2.2"/><circle cx="197.5" cy="1781.2" r="2.2"/><circle cx="189.0" cy="1797.5" r="2.2"/><circle cx="198.7" cy="1782.0" r="2.2"/><circle cx="192.5" cy="1812.2" r="2.2"/><circle cx="190.6" cy="1801.6" r="2.2"/><circle cx="198.7" cy="1812.6" r="2.2"/><circle cx="206.2" cy="1780.7" r="2.2"/><circle cx="192.3" cy="1796.5" r="2.2"/><circle cx="197.6" cy="1780.2" r="2.2"/><circle cx="197.0" cy="1807.5" r="2.2"/><circle cx="184.2" cy="1805.0" r="2.2"/><circle cx="210.6" cy="1778.2" r="2.2"/><circle cx="198.9" cy="1801.2" r="2.2"/><circle cx="186.2" cy="1805.1" r="2.2"/><circle cx="205.6" cy="1789.9" r="2.2"/><circle cx="204.9" cy="1778.1" r="2.2"/><circle cx="197.9" cy="1812.6" r="2.2"/><circle cx="209.0" cy="1793.1" r="2.2"/><circle cx="194.2" cy="1796.6" r="2.2"/><circle cx="183.5" cy="1802.5" r="2.2"/><circle cx="190.1" cy="1795.4" r="2.2"/><circle cx="191.5" cy="1792.9" r="2.2"/><circle cx="213.0" cy="1785.5" r="2.2"/><circle cx="180.8" cy="1798.9" r="2.2"/><circle cx="205.4" cy="1774.1" r="2.2"/><circle cx="198.6" cy="1783.9" r="2.2"/><circle cx="208.3" cy="1791.3" r="2.2"/><circle cx="197.5" cy="1779.6" r="2.2"/><circle cx="205.1" cy="1788.1" r="2.2"/><circle cx="197.1" cy="1811.3" r="2.2"/><circle cx="193.5" cy="1815.3" r="2.2"/><circle cx="209.8" cy="1769.3" r="2.2"/><circle cx="198.6" cy="1786.7" r="2.2"/><circle cx="179.2" cy="1808.2" r="2.2"/><circle cx="190.8" cy="1799.7" r="2.2"/><circle cx="184.6" cy="1788.0" r="2.2"/><circle cx="179.2" cy="1797.6" r="2.2"/><circle cx="194.0" cy="1815.5" r="2.2"/><circle cx="191.0" cy="1794.9" r="2.2"/><circle cx="188.6" cy="1817.9" r="2.2"/><circle cx="185.5" cy="1788.4" r="2.2"/><circle cx="192.1" cy="1789.8" r="2.2"/><circle cx="178.2" cy="1826.7" r="2.2"/><circle cx="175.9" cy="1802.4" r="2.2"/><circle cx="195.6" cy="1811.4" r="2.2"/><circle cx="184.7" cy="1797.0" r="2.2"/><circle cx="195.0" cy="1803.9" r="2.2"/><circle cx="189.6" cy="1787.1" r="2.2"/><circle cx="192.0" cy="1807.7" r="2.2"/><circle cx="176.1" cy="1823.5" r="2.2"/><circle cx="179.5" cy="1800.6" r="2.2"/><circle cx="176.4" cy="1793.6" r="2.2"/><circle cx="195.5" cy="1796.7" r="2.2"/><circle cx="176.7" cy="1804.6" r="2.2"/><circle cx="180.9" cy="1825.2" r="2.2"/><circle cx="173.6" cy="1824.8" r="2.2"/><circle cx="190.7" cy="1790.6" r="2.2"/><circle cx="185.4" cy="1794.3" r="2.2"/><circle cx="179.2" cy="1790.1" r="2.2"/><circle cx="192.3" cy="1794.7" r="2.2"/><circle cx="194.6" cy="1797.0" r="2.2"/><circle cx="195.3" cy="1806.3" r="2.2"/><circle cx="177.2" cy="1801.8" r="2.2"/><circle cx="188.0" cy="1786.9" r="2.2"/><circle cx="177.0" cy="1818.5" r="2.2"/><circle cx="191.9" cy="1789.8" r="2.2"/><circle cx="189.0" cy="1804.8" r="2.2"/><circle cx="179.7" cy="1790.3" r="2.2"/></g>
<g fill="#f0404a"><circle cx="503.7" cy="1481.4" r="2.2"/><circle cx="481.5" cy="1510.1" r="2.2"/><circle cx="450.9" cy="1531.7" r="2.2"/><circle cx="460.6" cy="1537.5" r="2.2"/><circle cx="412.1" cy="1592.1" r="2.2"/><circle cx="158.6" cy="1888.0" r="2.2"/><circle cx="364.1" cy="1608.9" r="2.2"/><circle cx="379.6" cy="1611.3" r="2.2"/><circle cx="398.8" cy="1605.4" r="2.2"/><circle cx="412.0" cy="1592.2" r="2.2"/><circle cx="361.7" cy="1639.3" r="2.2"/><circle cx="344.5" cy="1642.7" r="2.2"/><circle cx="344.5" cy="1654.2" r="2.2"/><circle cx="332.3" cy="1649.4" r="2.2"/><circle cx="318.5" cy="1639.5" r="2.2"/><circle cx="325.1" cy="1650.3" r="2.2"/><circle cx="321.5" cy="1653.9" r="2.2"/><circle cx="323.9" cy="1655.1" r="2.2"/><circle cx="326.3" cy="1658.1" r="2.2"/><circle cx="317.3" cy="1665.5" r="2.2"/><circle cx="328.7" cy="1664.7" r="2.2"/><circle cx="335.7" cy="1664.7" r="2.2"/><circle cx="322.7" cy="1669.8" r="2.2"/><circle cx="317.3" cy="1672.5" r="2.2"/><circle cx="319.7" cy="1679.0" r="2.2"/><circle cx="314.9" cy="1679.6" r="2.2"/><circle cx="313.7" cy="1685.0" r="2.2"/><circle cx="297.6" cy="1683.2" r="2.2"/><circle cx="302.4" cy="1683.2" r="2.2"/><circle cx="298.8" cy="1689.2" r="2.2"/><circle cx="305.9" cy="1691.6" r="2.2"/><circle cx="310.7" cy="1690.4" r="2.2"/><circle cx="308.3" cy="1695.8" r="2.2"/><circle cx="303.6" cy="1698.8" r="2.2"/><circle cx="298.2" cy="1699.4" r="2.2"/><circle cx="285.6" cy="1695.8" r="2.2"/><circle cx="288.6" cy="1697.6" r="2.2"/><circle cx="289.2" cy="1700.6" r="2.2"/><circle cx="284.4" cy="1706.0" r="2.2"/><circle cx="287.4" cy="1706.6" r="2.2"/><circle cx="290.4" cy="1706.6" r="2.2"/><circle cx="288.0" cy="1709.0" r="2.2"/><circle cx="286.2" cy="1712.0" r="2.2"/><circle cx="289.8" cy="1712.0" r="2.2"/><circle cx="288.0" cy="1713.8" r="2.2"/><circle cx="293.4" cy="1710.2" r="2.2"/><circle cx="296.4" cy="1706.6" r="2.2"/><circle cx="299.4" cy="1703.6" r="2.2"/><circle cx="303.0" cy="1703.0" r="2.2"/><circle cx="305.9" cy="1701.8" r="2.2"/><circle cx="283.2" cy="1719.8" r="2.2"/><circle cx="281.4" cy="1722.8" r="2.2"/><circle cx="285.0" cy="1722.8" r="2.2"/><circle cx="292.2" cy="1715.0" r="2.2"/><circle cx="294.0" cy="1712.6" r="2.2"/><circle cx="192.3" cy="1829.3" r="2.2"/><circle cx="181.0" cy="1837.5" r="2.2"/><circle cx="189.6" cy="1837.5" r="2.2"/><circle cx="190.9" cy="1840.6" r="2.2"/><circle cx="171.0" cy="1842.0" r="2.2"/><circle cx="159.3" cy="1888.1" r="2.2"/><circle cx="286.3" cy="1715.1" r="2.2"/><circle cx="283.9" cy="1699.8" r="2.2"/><circle cx="306.4" cy="1689.6" r="2.2"/><circle cx="306.1" cy="1691.7" r="2.2"/><circle cx="313.3" cy="1683.9" r="2.2"/><circle cx="314.3" cy="1683.2" r="2.2"/><circle cx="305.5" cy="1693.9" r="2.2"/><circle cx="288.6" cy="1703.0" r="2.2"/><circle cx="207.2" cy="1816.9" r="2.2"/><circle cx="210.3" cy="1814.2" r="2.2"/><circle cx="209.1" cy="1810.6" r="2.2"/><circle cx="208.9" cy="1803.2" r="2.2"/><circle cx="210.2" cy="1809.0" r="2.2"/><circle cx="211.7" cy="1812.0" r="2.2"/><circle cx="211.2" cy="1807.6" r="2.2"/><circle cx="200.8" cy="1819.5" r="2.2"/><circle cx="203.6" cy="1814.5" r="2.2"/><circle cx="204.7" cy="1812.8" r="2.2"/><circle cx="199.8" cy="1817.0" r="2.2"/><circle cx="202.8" cy="1816.9" r="2.2"/><circle cx="203.8" cy="1817.8" r="2.2"/><circle cx="198.9" cy="1820.3" r="2.2"/><circle cx="205.8" cy="1813.1" r="2.2"/><circle cx="212.6" cy="1806.7" r="2.2"/><circle cx="201.8" cy="1819.2" r="2.2"/><circle cx="208.6" cy="1806.1" r="2.2"/><circle cx="198.3" cy="1814.6" r="2.2"/><circle cx="206.7" cy="1813.0" r="2.2"/><circle cx="208.6" cy="1804.2" r="2.2"/><circle cx="205.5" cy="1812.5" r="2.2"/><circle cx="206.9" cy="1820.1" r="2.2"/><circle cx="200.2" cy="1814.0" r="2.2"/><circle cx="209.3" cy="1805.5" r="2.2"/><circle cx="203.9" cy="1810.8" r="2.2"/><circle cx="210.7" cy="1813.0" r="2.2"/><circle cx="204.0" cy="1821.8" r="2.2"/><circle cx="209.7" cy="1809.1" r="2.2"/><circle cx="204.6" cy="1822.6" r="2.2"/></g>
<path d="M70.6 1945.2L599.0 1398.8" stroke="#000" stroke-width="2.2" stroke-dasharray="8 6" fill="none"/>
<g shape-rendering="crispEdges"><rect x="1089.00" y="317.10" width="23.57" height="18.82" fill="#f6e2d4"/><rect x="1111.97" y="317.10" width="23.57" height="18.82" fill="#f3c4b4"/><rect x="1134.95" y="317.10" width="23.57" height="18.82" fill="#f5d9ca"/><rect x="1157.92" y="317.10" width="23.57" height="18.82" fill="#f5d9ca"/><rect x="1180.90" y="317.10" width="23.57" height="18.82" fill="#f3c4b4"/><rect x="1203.88" y="317.10" width="23.57" height="18.82" fill="#f3c4b4"/><rect x="1226.85" y="317.10" width="23.57" height="18.82" fill="#f3c4b4"/><rect x="1249.83" y="317.10" width="23.57" height="18.82" fill="#f3c4b4"/><rect x="1272.80" y="317.10" width="23.57" height="18.82" fill="#f8eee1"/><rect x="1295.77" y="317.10" width="23.57" height="18.82" fill="#f7e9dc"/><rect x="1318.75" y="317.10" width="23.57" height="18.82" fill="#f9f3e6"/><rect x="1341.72" y="317.10" width="23.57" height="18.82" fill="#f6e2d4"/><rect x="1364.70" y="317.10" width="23.57" height="18.82" fill="#7a9dfa"/><rect x="1387.67" y="317.10" width="23.57" height="18.82" fill="#4a8afa"/><rect x="1410.65" y="317.10" width="23.57" height="18.82" fill="#7a9dfa"/><rect x="1433.62" y="317.10" width="23.57" height="18.82" fill="#8da8f9"/><rect x="1089.00" y="335.32" width="23.57" height="18.82" fill="#a0b2f8"/><rect x="1111.97" y="335.32" width="23.57" height="18.82" fill="#e3e5f2"/><rect x="1134.95" y="335.32" width="23.57" height="18.82" fill="#ecedf0"/><rect x="1157.92" y="335.32" width="23.57" height="18.82" fill="#98aef8"/><rect x="1180.90" y="335.32" width="23.57" height="18.82" fill="#f05a52"/><rect x="1203.88" y="335.32" width="23.57" height="18.82" fill="#f06a61"/><rect x="1226.85" y="335.32" width="23.57" height="18.82" fill="#f3c4b4"/><rect x="1249.83" y="335.32" width="23.57" height="18.82" fill="#f08277"/><rect x="1272.80" y="335.32" width="23.57" height="18.82" fill="#8da8f9"/><rect x="1295.77" y="335.32" width="23.57" height="18.82" fill="#fafaee"/><rect x="1318.75" y="335.32" width="23.57" height="18.82" fill="#fafaee"/><rect x="1341.72" y="335.32" width="23.57" height="18.82" fill="#c1caf6"/><rect x="1364.70" y="335.32" width="23.57" height="18.82" fill="#dde0f3"/><rect x="1387.67" y="335.32" width="23.57" height="18.82" fill="#f8ecde"/><rect x="1410.65" y="335.32" width="23.57" height="18.82" fill="#cfd5f4"/><rect x="1433.62" y="335.32" width="23.57" height="18.82" fill="#f5dcce"/><rect x="1089.00" y="353.54" width="23.57" height="18.82" fill="#c7cef5"/><rect x="1111.97" y="353.54" width="23.57" height="18.82" fill="#b7c3f7"/><rect x="1134.95" y="353.54" width="23.57" height="18.82" fill="#bac5f6"/><rect x="1157.92" y="353.54" width="23.57" height="18.82" fill="#c7cef5"/><rect x="1180.90" y="353.54" width="23.57" height="18.82" fill="#f06a61"/><rect x="1203.88" y="353.54" width="23.57" height="18.82" fill="#f0645b"/><rect x="1226.85" y="353.54" width="23.57" height="18.82" fill="#f0857a"/><rect x="1249.83" y="353.54" width="23.57" height="18.82" fill="#f19587"/><rect x="1272.80" y="353.54" width="23.57" height="18.82" fill="#c7cef5"/><rect x="1295.77" y="353.54" width="23.57" height="18.82" fill="#a0b2f8"/><rect x="1318.75" y="353.54" width="23.57" height="18.82" fill="#c1caf6"/><rect x="1341.72" y="353.54" width="23.57" height="18.82" fill="#a0b2f8"/><rect x="1364.70" y="353.54" width="23.57" height="18.82" fill="#f9f3e6"/><rect x="1387.67" y="353.54" width="23.57" height="18.82" fill="#f8eee1"/><rect x="1410.65" y="353.54" width="23.57" height="18.82" fill="#f8eee1"/><rect x="1433.62" y="353.54" width="23.57" height="18.82" fill="#f8ecde"/><rect x="1089.00" y="371.76" width="23.57" height="18.82" fill="#c7cef5"/><rect x="1111.97" y="371.76" width="23.57" height="18.82" fill="#c9d1f5"/><rect x="1134.95" y="371.76" width="23.57" height="18.82" fill="#bac5f6"/><rect x="1157.92" y="371.76" width="23.57" height="18.82" fill="#bac5f6"/><rect x="1180.90" y="371.76" width="23.57" height="18.82" fill="#f0857a"/><rect x="1203.88" y="371.76" width="23.57" height="18.82" fill="#f0857a"/><rect x="1226.85" y="371.76" width="23.57" height="18.82" fill="#f08277"/><rect x="1249.83" y="371.76" width="23.57" height="18.82" fill="#f07067"/><rect x="1272.80" y="371.76" width="23.57" height="18.82" fill="#bac5f6"/><rect x="1295.77" y="371.76" width="23.57" height="18.82" fill="#bac5f6"/><rect x="1318.75" y="371.76" width="23.57" height="18.82" fill="#98aef8"/><rect x="1341.72" y="371.76" width="23.57" height="18.82" fill="#98aef8"/><rect x="1364.70" y="371.76" width="23.57" height="18.82" fill="#f6e2d4"/><rect x="1387.67" y="371.76" width="23.57" height="18.82" fill="#f8eee1"/><rect x="1410.65" y="371.76" width="23.57" height="18.82" fill="#f8eee1"/><rect x="1433.62" y="371.76" width="23.57" height="18.82" fill="#f8ecde"/><rect x="1089.00" y="389.98" width="23.57" height="18.82" fill="#c1caf6"/><rect x="1111.97" y="389.98" width="23.57" height="18.82" fill="#95acf9"/><rect x="1134.95" y="389.98" width="23.57" height="18.82" fill="#dde0f3"/><rect x="1157.92" y="389.98" width="23.57" height="18.82" fill="#a7b7f8"/><rect x="1180.90" y="389.98" width="23.57" height="18.82" fill="#f06a61"/><rect x="1203.88" y="389.98" width="23.57" height="18.82" fill="#f08d80"/><rect x="1226.85" y="389.98" width="23.57" height="18.82" fill="#f0857a"/><rect x="1249.83" y="389.98" width="23.57" height="18.82" fill="#f07067"/><rect x="1272.80" y="389.98" width="23.57" height="18.82" fill="#a7b7f8"/><rect x="1295.77" y="389.98" width="23.57" height="18.82" fill="#b7c3f7"/><rect x="1318.75" y="389.98" width="23.57" height="18.82" fill="#c7cef5"/><rect x="1341.72" y="389.98" width="23.57" height="18.82" fill="#b7c3f7"/><rect x="1364.70" y="389.98" width="23.57" height="18.82" fill="#fafaee"/><rect x="1387.67" y="389.98" width="23.57" height="18.82" fill="#f5dcce"/><rect x="1410.65" y="389.98" width="23.57" height="18.82" fill="#f9f3e6"/><rect x="1433.62" y="389.98" width="23.57" height="18.82" fill="#f8ecde"/><rect x="1089.00" y="408.20" width="23.57" height="18.82" fill="#b7c3f7"/><rect x="1111.97" y="408.20" width="23.57" height="18.82" fill="#c7cef5"/><rect x="1134.95" y="408.20" width="23.57" height="18.82" fill="#cfd5f4"/><rect x="1157.92" y="408.20" width="23.57" height="18.82" fill="#b7c3f7"/><rect x="1180.90" y="408.20" width="23.57" height="18.82" fill="#f0857a"/><rect x="1203.88" y="408.20" width="23.57" height="18.82" fill="#f08d80"/><rect x="1226.85" y="408.20" width="23.57" height="18.82" fill="#f0857a"/><rect x="1249.83" y="408.20" width="23.57" height="18.82" fill="#f07067"/><rect x="1272.80" y="408.20" width="23.57" height="18.82" fill="#a7b7f8"/><rect x="1295.77" y="408.20" width="23.57" height="18.82" fill="#a0b2f8"/><rect x="1318.75" y="408.20" width="23.57" height="18.82" fill="#a0b2f8"/><rect x="1341.72" y="408.20" width="23.57" height="18.82" fill="#b0bef7"/><rect x="1364.70" y="408.20" width="23.57" height="18.82" fill="#f1f2f0"/><rect x="1387.67" y="408.20" width="23.57" height="18.82" fill="#f5dcce"/><rect x="1410.65" y="408.20" width="23.57" height="18.82" fill="#f5d9ca"/><rect x="1433.62" y="408.20" width="23.57" height="18.82" fill="#f5dcce"/><rect x="1089.00" y="426.42" width="23.57" height="18.82" fill="#d7dcf4"/><rect x="1111.97" y="426.42" width="23.57" height="18.82" fill="#c7cef5"/><rect x="1134.95" y="426.42" width="23.57" height="18.82" fill="#aab9f7"/><rect x="1157.92" y="426.42" width="23.57" height="18.82" fill="#aab9f7"/><rect x="1180.90" y="426.42" width="23.57" height="18.82" fill="#f07067"/><rect x="1203.88" y="426.42" width="23.57" height="18.82" fill="#f0645b"/><rect x="1226.85" y="426.42" width="23.57" height="18.82" fill="#f0746a"/><rect x="1249.83" y="426.42" width="23.57" height="18.82" fill="#f0746a"/><rect x="1272.80" y="426.42" width="23.57" height="18.82" fill="#b0bef7"/><rect x="1295.77" y="426.42" width="23.57" height="18.82" fill="#bac5f6"/><rect x="1318.75" y="426.42" width="23.57" height="18.82" fill="#c7cef5"/><rect x="1341.72" y="426.42" width="23.57" height="18.82" fill="#b0bef7"/><rect x="1364.70" y="426.42" width="23.57" height="18.82" fill="#f9f3e6"/><rect x="1387.67" y="426.42" width="23.57" height="18.82" fill="#f9f3e6"/><rect x="1410.65" y="426.42" width="23.57" height="18.82" fill="#f9f5e9"/><rect x="1433.62" y="426.42" width="23.57" height="18.82" fill="#fafaee"/><rect x="1089.00" y="444.64" width="23.57" height="18.82" fill="#c1caf6"/><rect x="1111.97" y="444.64" width="23.57" height="18.82" fill="#cfd5f4"/><rect x="1134.95" y="444.64" width="23.57" height="18.82" fill="#c7cef5"/><rect x="1157.92" y="444.64" width="23.57" height="18.82" fill="#c1caf6"/><rect x="1180.90" y="444.64" width="23.57" height="18.82" fill="#f06a61"/><rect x="1203.88" y="444.64" width="23.57" height="18.82" fill="#f0857a"/><rect x="1226.85" y="444.64" width="23.57" height="18.82" fill="#f0645b"/><rect x="1249.83" y="444.64" width="23.57" height="18.82" fill="#f07067"/><rect x="1272.80" y="444.64" width="23.57" height="18.82" fill="#c1caf6"/><rect x="1295.77" y="444.64" width="23.57" height="18.82" fill="#b0bef7"/><rect x="1318.75" y="444.64" width="23.57" height="18.82" fill="#b7c3f7"/><rect x="1341.72" y="444.64" width="23.57" height="18.82" fill="#bac5f6"/><rect x="1364.70" y="444.64" width="23.57" height="18.82" fill="#fafaee"/><rect x="1387.67" y="444.64" width="23.57" height="18.82" fill="#faf8eb"/><rect x="1410.65" y="444.64" width="23.57" height="18.82" fill="#faf8eb"/><rect x="1433.62" y="444.64" width="23.57" height="18.82" fill="#f7f7ee"/><rect x="1089.00" y="462.86" width="23.57" height="18.82" fill="#cfd5f4"/><rect x="1111.97" y="462.86" width="23.57" height="18.82" fill="#bac5f6"/><rect x="1134.95" y="462.86" width="23.57" height="18.82" fill="#c1caf6"/><rect x="1157.92" y="462.86" width="23.57" height="18.82" fill="#d7dcf4"/><rect x="1180.90" y="462.86" width="23.57" height="18.82" fill="#f06a61"/><rect x="1203.88" y="462.86" width="23.57" height="18.82" fill="#f0857a"/><rect x="1226.85" y="462.86" width="23.57" height="18.82" fill="#f07a70"/><rect x="1249.83" y="462.86" width="23.57" height="18.82" fill="#f07067"/><rect x="1272.80" y="462.86" width="23.57" height="18.82" fill="#aab9f7"/><rect x="1295.77" y="462.86" width="23.57" height="18.82" fill="#b7c3f7"/><rect x="1318.75" y="462.86" width="23.57" height="18.82" fill="#b7c3f7"/><rect x="1341.72" y="462.86" width="23.57" height="18.82" fill="#aab9f7"/><rect x="1364.70" y="462.86" width="23.57" height="18.82" fill="#f9f3e6"/><rect x="1387.67" y="462.86" width="23.57" height="18.82" fill="#f8ecde"/><rect x="1410.65" y="462.86" width="23.57" height="18.82" fill="#fafaee"/><rect x="1433.62" y="462.86" width="23.57" height="18.82" fill="#f8eee1"/><rect x="1089.00" y="481.08" width="23.57" height="18.82" fill="#cfd5f4"/><rect x="1111.97" y="481.08" width="23.57" height="18.82" fill="#b7c3f7"/><rect x="1134.95" y="481.08" width="23.57" height="18.82" fill="#c1caf6"/><rect x="1157.92" y="481.08" width="23.57" height="18.82" fill="#d7dcf4"/><rect x="1180.90" y="481.08" width="23.57" height="18.82" fill="#f06a61"/><rect x="1203.88" y="481.08" width="23.57" height="18.82" fill="#f07067"/><rect x="1226.85" y="481.08" width="23.57" height="18.82" fill="#f08d80"/><rect x="1249.83" y="481.08" width="23.57" height="18.82" fill="#f05a52"/><rect x="1272.80" y="481.08" width="23.57" height="18.82" fill="#a7b7f8"/><rect x="1295.77" y="481.08" width="23.57" height="18.82" fill="#c1caf6"/><rect x="1318.75" y="481.08" width="23.57" height="18.82" fill="#b0bef7"/><rect x="1341.72" y="481.08" width="23.57" height="18.82" fill="#b0bef7"/><rect x="1364.70" y="481.08" width="23.57" height="18.82" fill="#fafaee"/><rect x="1387.67" y="481.08" width="23.57" height="18.82" fill="#f6e2d4"/><rect x="1410.65" y="481.08" width="23.57" height="18.82" fill="#fafaee"/><rect x="1433.62" y="481.08" width="23.57" height="18.82" fill="#fafaee"/><rect x="1089.00" y="499.30" width="23.57" height="18.82" fill="#dde0f3"/><rect x="1111.97" y="499.30" width="23.57" height="18.82" fill="#dde0f3"/><rect x="1134.95" y="499.30" width="23.57" height="18.82" fill="#dde0f3"/><rect x="1157.92" y="499.30" width="23.57" height="18.82" fill="#dde0f3"/><rect x="1180.90" y="499.30" width="23.57" height="18.82" fill="#f07067"/><rect x="1203.88" y="499.30" width="23.57" height="18.82" fill="#f07067"/><rect x="1226.85" y="499.30" width="23.57" height="18.82" fill="#f07067"/><rect x="1249.83" y="499.30" width="23.57" height="18.82" fill="#f0857a"/><rect x="1272.80" y="499.30" width="23.57" height="18.82" fill="#8da8f9"/><rect x="1295.77" y="499.30" width="23.57" height="18.82" fill="#a0b2f8"/><rect x="1318.75" y="499.30" width="23.57" height="18.82" fill="#aab9f7"/><rect x="1341.72" y="499.30" width="23.57" height="18.82" fill="#b0bef7"/><rect x="1364.70" y="499.30" width="23.57" height="18.82" fill="#f9f3e6"/><rect x="1387.67" y="499.30" width="23.57" height="18.82" fill="#faf8eb"/><rect x="1410.65" y="499.30" width="23.57" height="18.82" fill="#faf8eb"/><rect x="1433.62" y="499.30" width="23.57" height="18.82" fill="#f9f5e9"/><rect x="1089.00" y="517.52" width="23.57" height="18.82" fill="#dde0f3"/><rect x="1111.97" y="517.52" width="23.57" height="18.82" fill="#dde0f3"/><rect x="1134.95" y="517.52" width="23.57" height="18.82" fill="#dde0f3"/><rect x="1157.92" y="517.52" width="23.57" height="18.82" fill="#dde0f3"/><rect x="1180.90" y="517.52" width="23.57" height="18.82" fill="#f0746a"/><rect x="1203.88" y="517.52" width="23.57" height="18.82" fill="#f0746a"/><rect x="1226.85" y="517.52" width="23.57" height="18.82" fill="#f0746a"/><rect x="1249.83" y="517.52" width="23.57" height="18.82" fill="#f0746a"/><rect x="1272.80" y="517.52" width="23.57" height="18.82" fill="#a0b2f8"/><rect x="1295.77" y="517.52" width="23.57" height="18.82" fill="#a0b2f8"/><rect x="1318.75" y="517.52" width="23.57" height="18.82" fill="#a0b2f8"/><rect x="1341.72" y="517.52" width="23.57" height="18.82" fill="#a0b2f8"/><rect x="1364.70" y="517.52" width="23.57" height="18.82" fill="#f8f0e4"/><rect x="1387.67" y="517.52" width="23.57" height="18.82" fill="#faf8eb"/><rect x="1410.65" y="517.52" width="23.57" height="18.82" fill="#faf8eb"/><rect x="1433.62" y="517.52" width="23.57" height="18.82" fill="#faf8eb"/><rect x="1089.00" y="535.74" width="23.57" height="18.82" fill="#cfd5f4"/><rect x="1111.97" y="535.74" width="23.57" height="18.82" fill="#dde0f3"/><rect x="1134.95" y="535.74" width="23.57" height="18.82" fill="#dde0f3"/><rect x="1157.92" y="535.74" width="23.57" height="18.82" fill="#dde0f3"/><rect x="1180.90" y="535.74" width="23.57" height="18.82" fill="#f07a70"/><rect x="1203.88" y="535.74" width="23.57" height="18.82" fill="#f07a70"/><rect x="1226.85" y="535.74" width="23.57" height="18.82" fill="#f07a70"/><rect x="1249.83" y="535.74" width="23.57" height="18.82" fill="#f08d80"/><rect x="1272.80" y="535.74" width="23.57" height="18.82" fill="#a0b2f8"/><rect x="1295.77" y="535.74" width="23.57" height="18.82" fill="#a0b2f8"/><rect x="1318.75" y="535.74" width="23.57" height="18.82" fill="#b0bef7"/><rect x="1341.72" y="535.74" width="23.57" height="18.82" fill="#a0b2f8"/><rect x="1364.70" y="535.74" width="23.57" height="18.82" fill="#fafaee"/><rect x="1387.67" y="535.74" width="23.57" height="18.82" fill="#f8eee1"/><rect x="1410.65" y="535.74" width="23.57" height="18.82" fill="#f8eee1"/><rect x="1433.62" y="535.74" width="23.57" height="18.82" fill="#fafaee"/><rect x="1089.00" y="553.96" width="23.57" height="18.82" fill="#cfd5f4"/><rect x="1111.97" y="553.96" width="23.57" height="18.82" fill="#ecedf0"/><rect x="1134.95" y="553.96" width="23.57" height="18.82" fill="#cfd5f4"/><rect x="1157.92" y="553.96" width="23.57" height="18.82" fill="#d7dcf4"/><rect x="1180.90" y="553.96" width="23.57" height="18.82" fill="#f07a70"/><rect x="1203.88" y="553.96" width="23.57" height="18.82" fill="#f07a70"/><rect x="1226.85" y="553.96" width="23.57" height="18.82" fill="#f07a70"/><rect x="1249.83" y="553.96" width="23.57" height="18.82" fill="#f07a70"/><rect x="1272.80" y="553.96" width="23.57" height="18.82" fill="#a0b2f8"/><rect x="1295.77" y="553.96" width="23.57" height="18.82" fill="#b0bef7"/><rect x="1318.75" y="553.96" width="23.57" height="18.82" fill="#a7b7f8"/><rect x="1341.72" y="553.96" width="23.57" height="18.82" fill="#c1caf6"/><rect x="1364.70" y="553.96" width="23.57" height="18.82" fill="#e6e8f2"/><rect x="1387.67" y="553.96" width="23.57" height="18.82" fill="#f8eee1"/><rect x="1410.65" y="553.96" width="23.57" height="18.82" fill="#fafaee"/><rect x="1433.62" y="553.96" width="23.57" height="18.82" fill="#fafaee"/><rect x="1089.00" y="572.18" width="23.57" height="18.82" fill="#b0bef7"/><rect x="1111.97" y="572.18" width="23.57" height="18.82" fill="#8da8f9"/><rect x="1134.95" y="572.18" width="23.57" height="18.82" fill="#a0b2f8"/><rect x="1157.92" y="572.18" width="23.57" height="18.82" fill="#e3e5f2"/><rect x="1180.90" y="572.18" width="23.57" height="18.82" fill="#f1a091"/><rect x="1203.88" y="572.18" width="23.57" height="18.82" fill="#f07a70"/><rect x="1226.85" y="572.18" width="23.57" height="18.82" fill="#f05a52"/><rect x="1249.83" y="572.18" width="23.57" height="18.82" fill="#f0857a"/><rect x="1272.80" y="572.18" width="23.57" height="18.82" fill="#e3e5f2"/><rect x="1295.77" y="572.18" width="23.57" height="18.82" fill="#d7dcf4"/><rect x="1318.75" y="572.18" width="23.57" height="18.82" fill="#d5d9f4"/><rect x="1341.72" y="572.18" width="23.57" height="18.82" fill="#7a9dfa"/><rect x="1364.70" y="572.18" width="23.57" height="18.82" fill="#f8ecde"/><rect x="1387.67" y="572.18" width="23.57" height="18.82" fill="#f8ecde"/><rect x="1410.65" y="572.18" width="23.57" height="18.82" fill="#f8eee1"/><rect x="1433.62" y="572.18" width="23.57" height="18.82" fill="#f4f5ef"/><rect x="1089.00" y="590.40" width="23.57" height="18.82" fill="#b0bef7"/><rect x="1111.97" y="590.40" width="23.57" height="18.82" fill="#c1caf6"/><rect x="1134.95" y="590.40" width="23.57" height="18.82" fill="#bac5f6"/><rect x="1157.92" y="590.40" width="23.57" height="18.82" fill="#b0bef7"/><rect x="1180.90" y="590.40" width="23.57" height="18.82" fill="#f0746a"/><rect x="1203.88" y="590.40" width="23.57" height="18.82" fill="#f06a61"/><rect x="1226.85" y="590.40" width="23.57" height="18.82" fill="#f06a61"/><rect x="1249.83" y="590.40" width="23.57" height="18.82" fill="#f06a61"/><rect x="1272.80" y="590.40" width="23.57" height="18.82" fill="#c1caf6"/><rect x="1295.77" y="590.40" width="23.57" height="18.82" fill="#c7cef5"/><rect x="1318.75" y="590.40" width="23.57" height="18.82" fill="#cfd5f4"/><rect x="1341.72" y="590.40" width="23.57" height="18.82" fill="#c1caf6"/><rect x="1364.70" y="590.40" width="23.57" height="18.82" fill="#f4f5ef"/><rect x="1387.67" y="590.40" width="23.57" height="18.82" fill="#fafaee"/><rect x="1410.65" y="590.40" width="23.57" height="18.82" fill="#fafaee"/><rect x="1433.62" y="590.40" width="23.57" height="18.82" fill="#f9f5e9"/><rect x="1089.00" y="608.62" width="23.57" height="18.82" fill="#c1caf6"/><rect x="1111.97" y="608.62" width="23.57" height="18.82" fill="#b0bef7"/><rect x="1134.95" y="608.62" width="23.57" height="18.82" fill="#c7cef5"/><rect x="1157.92" y="608.62" width="23.57" height="18.82" fill="#c7cef5"/><rect x="1180.90" y="608.62" width="23.57" height="18.82" fill="#f06a61"/><rect x="1203.88" y="608.62" width="23.57" height="18.82" fill="#f06a61"/><rect x="1226.85" y="608.62" width="23.57" height="18.82" fill="#f0746a"/><rect x="1249.83" y="608.62" width="23.57" height="18.82" fill="#f06058"/><rect x="1272.80" y="608.62" width="23.57" height="18.82" fill="#cfd5f4"/><rect x="1295.77" y="608.62" width="23.57" height="18.82" fill="#cfd5f4"/><rect x="1318.75" y="608.62" width="23.57" height="18.82" fill="#b0bef7"/><rect x="1341.72" y="608.62" width="23.57" height="18.82" fill="#bac5f6"/><rect x="1364.70" y="608.62" width="23.57" height="18.82" fill="#fafaee"/><rect x="1387.67" y="608.62" width="23.57" height="18.82" fill="#f7f7ee"/><rect x="1410.65" y="608.62" width="23.57" height="18.82" fill="#f7f7ee"/><rect x="1433.62" y="608.62" width="23.57" height="18.82" fill="#fafaee"/><rect x="1089.00" y="626.84" width="23.57" height="18.82" fill="#b0bef7"/><rect x="1111.97" y="626.84" width="23.57" height="18.82" fill="#a7b7f8"/><rect x="1134.95" y="626.84" width="23.57" height="18.82" fill="#a7b7f8"/><rect x="1157.92" y="626.84" width="23.57" height="18.82" fill="#b0bef7"/><rect x="1180.90" y="626.84" width="23.57" height="18.82" fill="#f06a61"/><rect x="1203.88" y="626.84" width="23.57" height="18.82" fill="#f06a61"/><rect x="1226.85" y="626.84" width="23.57" height="18.82" fill="#f0645b"/><rect x="1249.83" y="626.84" width="23.57" height="18.82" fill="#f0645b"/><rect x="1272.80" y="626.84" width="23.57" height="18.82" fill="#dde0f3"/><rect x="1295.77" y="626.84" width="23.57" height="18.82" fill="#cfd5f4"/><rect x="1318.75" y="626.84" width="23.57" height="18.82" fill="#cfd5f4"/><rect x="1341.72" y="626.84" width="23.57" height="18.82" fill="#cfd5f4"/><rect x="1364.70" y="626.84" width="23.57" height="18.82" fill="#fafaee"/><rect x="1387.67" y="626.84" width="23.57" height="18.82" fill="#ecedf0"/><rect x="1410.65" y="626.84" width="23.57" height="18.82" fill="#f4f5ef"/><rect x="1433.62" y="626.84" width="23.57" height="18.82" fill="#fafaee"/><rect x="1089.00" y="645.06" width="23.57" height="18.82" fill="#b0bef7"/><rect x="1111.97" y="645.06" width="23.57" height="18.82" fill="#a7b7f8"/><rect x="1134.95" y="645.06" width="23.57" height="18.82" fill="#98aef8"/><rect x="1157.92" y="645.06" width="23.57" height="18.82" fill="#a0b2f8"/><rect x="1180.90" y="645.06" width="23.57" height="18.82" fill="#f07067"/><rect x="1203.88" y="645.06" width="23.57" height="18.82" fill="#f0746a"/><rect x="1226.85" y="645.06" width="23.57" height="18.82" fill="#f07067"/><rect x="1249.83" y="645.06" width="23.57" height="18.82" fill="#f07a70"/><rect x="1272.80" y="645.06" width="23.57" height="18.82" fill="#d5d9f4"/><rect x="1295.77" y="645.06" width="23.57" height="18.82" fill="#d5d9f4"/><rect x="1318.75" y="645.06" width="23.57" height="18.82" fill="#cfd5f4"/><rect x="1341.72" y="645.06" width="23.57" height="18.82" fill="#cfd5f4"/><rect x="1364.70" y="645.06" width="23.57" height="18.82" fill="#fafaee"/><rect x="1387.67" y="645.06" width="23.57" height="18.82" fill="#fafaee"/><rect x="1410.65" y="645.06" width="23.57" height="18.82" fill="#fafaee"/><rect x="1433.62" y="645.06" width="23.57" height="18.82" fill="#f7e7d9"/><rect x="1089.00" y="663.28" width="23.57" height="18.82" fill="#8da8f9"/><rect x="1111.97" y="663.28" width="23.57" height="18.82" fill="#e3e5f2"/><rect x="1134.95" y="663.28" width="23.57" height="18.82" fill="#95acf9"/><rect x="1157.92" y="663.28" width="23.57" height="18.82" fill="#c1caf6"/><rect x="1180.90" y="663.28" width="23.57" height="18.82" fill="#f07067"/><rect x="1203.88" y="663.28" width="23.57" height="18.82" fill="#f19587"/><rect x="1226.85" y="663.28" width="23.57" height="18.82" fill="#f05a52"/><rect x="1249.83" y="663.28" width="23.57" height="18.82" fill="#f07067"/><rect x="1272.80" y="663.28" width="23.57" height="18.82" fill="#c1caf6"/><rect x="1295.77" y="663.28" width="23.57" height="18.82" fill="#cfd5f4"/><rect x="1318.75" y="663.28" width="23.57" height="18.82" fill="#d5d9f4"/><rect x="1341.72" y="663.28" width="23.57" height="18.82" fill="#c1caf6"/><rect x="1364.70" y="663.28" width="23.57" height="18.82" fill="#f9f5e9"/><rect x="1387.67" y="663.28" width="23.57" height="18.82" fill="#faf8eb"/><rect x="1410.65" y="663.28" width="23.57" height="18.82" fill="#f8eee1"/><rect x="1433.62" y="663.28" width="23.57" height="18.82" fill="#fafaee"/><rect x="1089.00" y="681.50" width="23.57" height="18.82" fill="#c1caf6"/><rect x="1111.97" y="681.50" width="23.57" height="18.82" fill="#7a9dfa"/><rect x="1134.95" y="681.50" width="23.57" height="18.82" fill="#b7c3f7"/><rect x="1157.92" y="681.50" width="23.57" height="18.82" fill="#b7c3f7"/><rect x="1180.90" y="681.50" width="23.57" height="18.82" fill="#f08277"/><rect x="1203.88" y="681.50" width="23.57" height="18.82" fill="#f0645b"/><rect x="1226.85" y="681.50" width="23.57" height="18.82" fill="#f1a091"/><rect x="1249.83" y="681.50" width="23.57" height="18.82" fill="#f19587"/><rect x="1272.80" y="681.50" width="23.57" height="18.82" fill="#c1caf6"/><rect x="1295.77" y="681.50" width="23.57" height="18.82" fill="#b0bef7"/><rect x="1318.75" y="681.50" width="23.57" height="18.82" fill="#c1caf6"/><rect x="1341.72" y="681.50" width="23.57" height="18.82" fill="#b7c3f7"/><rect x="1364.70" y="681.50" width="23.57" height="18.82" fill="#f6e2d4"/><rect x="1387.67" y="681.50" width="23.57" height="18.82" fill="#f7e9dc"/><rect x="1410.65" y="681.50" width="23.57" height="18.82" fill="#f9f3e6"/><rect x="1433.62" y="681.50" width="23.57" height="18.82" fill="#f4d3c4"/><rect x="1089.00" y="699.72" width="23.57" height="18.82" fill="#b0bef7"/><rect x="1111.97" y="699.72" width="23.57" height="18.82" fill="#b0bef7"/><rect x="1134.95" y="699.72" width="23.57" height="18.82" fill="#b0bef7"/><rect x="1157.92" y="699.72" width="23.57" height="18.82" fill="#95acf9"/><rect x="1180.90" y="699.72" width="23.57" height="18.82" fill="#f08d80"/><rect x="1203.88" y="699.72" width="23.57" height="18.82" fill="#f07067"/><rect x="1226.85" y="699.72" width="23.57" height="18.82" fill="#f1a091"/><rect x="1249.83" y="699.72" width="23.57" height="18.82" fill="#f19587"/><rect x="1272.80" y="699.72" width="23.57" height="18.82" fill="#d5d9f4"/><rect x="1295.77" y="699.72" width="23.57" height="18.82" fill="#d7dcf4"/><rect x="1318.75" y="699.72" width="23.57" height="18.82" fill="#b7c3f7"/><rect x="1341.72" y="699.72" width="23.57" height="18.82" fill="#b7c3f7"/><rect x="1364.70" y="699.72" width="23.57" height="18.82" fill="#f4d3c4"/><rect x="1387.67" y="699.72" width="23.57" height="18.82" fill="#f9f3e6"/><rect x="1410.65" y="699.72" width="23.57" height="18.82" fill="#fafaee"/><rect x="1433.62" y="699.72" width="23.57" height="18.82" fill="#f4d3c4"/><rect x="1089.00" y="717.94" width="23.57" height="18.82" fill="#a0b2f8"/><rect x="1111.97" y="717.94" width="23.57" height="18.82" fill="#a0b2f8"/><rect x="1134.95" y="717.94" width="23.57" height="18.82" fill="#a7b7f8"/><rect x="1157.92" y="717.94" width="23.57" height="18.82" fill="#b0bef7"/><rect x="1180.90" y="717.94" width="23.57" height="18.82" fill="#f08d80"/><rect x="1203.88" y="717.94" width="23.57" height="18.82" fill="#f07a70"/><rect x="1226.85" y="717.94" width="23.57" height="18.82" fill="#f07a70"/><rect x="1249.83" y="717.94" width="23.57" height="18.82" fill="#f07067"/><rect x="1272.80" y="717.94" width="23.57" height="18.82" fill="#c7cef5"/><rect x="1295.77" y="717.94" width="23.57" height="18.82" fill="#cfd5f4"/><rect x="1318.75" y="717.94" width="23.57" height="18.82" fill="#cfd5f4"/><rect x="1341.72" y="717.94" width="23.57" height="18.82" fill="#cfd5f4"/><rect x="1364.70" y="717.94" width="23.57" height="18.82" fill="#f9f3e6"/><rect x="1387.67" y="717.94" width="23.57" height="18.82" fill="#f8eee1"/><rect x="1410.65" y="717.94" width="23.57" height="18.82" fill="#f7e9dc"/><rect x="1433.62" y="717.94" width="23.57" height="18.82" fill="#f7e9dc"/><rect x="1089.00" y="736.16" width="23.57" height="18.82" fill="#b0bef7"/><rect x="1111.97" y="736.16" width="23.57" height="18.82" fill="#b0bef7"/><rect x="1134.95" y="736.16" width="23.57" height="18.82" fill="#a0b2f8"/><rect x="1157.92" y="736.16" width="23.57" height="18.82" fill="#b0bef7"/><rect x="1180.90" y="736.16" width="23.57" height="18.82" fill="#f0746a"/><rect x="1203.88" y="736.16" width="23.57" height="18.82" fill="#f07067"/><rect x="1226.85" y="736.16" width="23.57" height="18.82" fill="#f0746a"/><rect x="1249.83" y="736.16" width="23.57" height="18.82" fill="#f08277"/><rect x="1272.80" y="736.16" width="23.57" height="18.82" fill="#c1caf6"/><rect x="1295.77" y="736.16" width="23.57" height="18.82" fill="#cfd5f4"/><rect x="1318.75" y="736.16" width="23.57" height="18.82" fill="#cfd5f4"/><rect x="1341.72" y="736.16" width="23.57" height="18.82" fill="#c7cef5"/><rect x="1364.70" y="736.16" width="23.57" height="18.82" fill="#fafaee"/><rect x="1387.67" y="736.16" width="23.57" height="18.82" fill="#f8ecde"/><rect x="1410.65" y="736.16" width="23.57" height="18.82" fill="#f8eee1"/><rect x="1433.62" y="736.16" width="23.57" height="18.82" fill="#f7e7d9"/><rect x="1089.00" y="754.38" width="23.57" height="18.82" fill="#a0b2f8"/><rect x="1111.97" y="754.38" width="23.57" height="18.82" fill="#a7b7f8"/><rect x="1134.95" y="754.38" width="23.57" height="18.82" fill="#8da8f9"/><rect x="1157.92" y="754.38" width="23.57" height="18.82" fill="#b0bef7"/><rect x="1180.90" y="754.38" width="23.57" height="18.82" fill="#f07a70"/><rect x="1203.88" y="754.38" width="23.57" height="18.82" fill="#f1988a"/><rect x="1226.85" y="754.38" width="23.57" height="18.82" fill="#f06a61"/><rect x="1249.83" y="754.38" width="23.57" height="18.82" fill="#f08277"/><rect x="1272.80" y="754.38" width="23.57" height="18.82" fill="#d7dcf4"/><rect x="1295.77" y="754.38" width="23.57" height="18.82" fill="#d5d9f4"/><rect x="1318.75" y="754.38" width="23.57" height="18.82" fill="#c1caf6"/><rect x="1341.72" y="754.38" width="23.57" height="18.82" fill="#c1caf6"/><rect x="1364.70" y="754.38" width="23.57" height="18.82" fill="#f9f5e9"/><rect x="1387.67" y="754.38" width="23.57" height="18.82" fill="#f7e9dc"/><rect x="1410.65" y="754.38" width="23.57" height="18.82" fill="#f9f3e6"/><rect x="1433.62" y="754.38" width="23.57" height="18.82" fill="#f7e9dc"/><rect x="1089.00" y="772.60" width="23.57" height="18.82" fill="#a0b2f8"/><rect x="1111.97" y="772.60" width="23.57" height="18.82" fill="#a0b2f8"/><rect x="1134.95" y="772.60" width="23.57" height="18.82" fill="#95acf9"/><rect x="1157.92" y="772.60" width="23.57" height="18.82" fill="#a0b2f8"/><rect x="1180.90" y="772.60" width="23.57" height="18.82" fill="#f08d80"/><rect x="1203.88" y="772.60" width="23.57" height="18.82" fill="#f19587"/><rect x="1226.85" y="772.60" width="23.57" height="18.82" fill="#f19587"/><rect x="1249.83" y="772.60" width="23.57" height="18.82" fill="#f0857a"/><rect x="1272.80" y="772.60" width="23.57" height="18.82" fill="#cfd5f4"/><rect x="1295.77" y="772.60" width="23.57" height="18.82" fill="#cfd5f4"/><rect x="1318.75" y="772.60" width="23.57" height="18.82" fill="#c1caf6"/><rect x="1341.72" y="772.60" width="23.57" height="18.82" fill="#c1caf6"/><rect x="1364.70" y="772.60" width="23.57" height="18.82" fill="#f7e7d9"/><rect x="1387.67" y="772.60" width="23.57" height="18.82" fill="#f7e7d9"/><rect x="1410.65" y="772.60" width="23.57" height="18.82" fill="#f7e9dc"/><rect x="1433.62" y="772.60" width="23.57" height="18.82" fill="#f6e2d4"/><rect x="1089.00" y="790.82" width="23.57" height="18.82" fill="#c7cef5"/><rect x="1111.97" y="790.82" width="23.57" height="18.82" fill="#b0bef7"/><rect x="1134.95" y="790.82" width="23.57" height="18.82" fill="#b7c3f7"/><rect x="1157.92" y="790.82" width="23.57" height="18.82" fill="#bac5f6"/><rect x="1180.90" y="790.82" width="23.57" height="18.82" fill="#f06a61"/><rect x="1203.88" y="790.82" width="23.57" height="18.82" fill="#f08277"/><rect x="1226.85" y="790.82" width="23.57" height="18.82" fill="#f07a70"/><rect x="1249.83" y="790.82" width="23.57" height="18.82" fill="#f08277"/><rect x="1272.80" y="790.82" width="23.57" height="18.82" fill="#b7c3f7"/><rect x="1295.77" y="790.82" width="23.57" height="18.82" fill="#a7b7f8"/><rect x="1318.75" y="790.82" width="23.57" height="18.82" fill="#b0bef7"/><rect x="1341.72" y="790.82" width="23.57" height="18.82" fill="#b0bef7"/><rect x="1364.70" y="790.82" width="23.57" height="18.82" fill="#f7e9dc"/><rect x="1387.67" y="790.82" width="23.57" height="18.82" fill="#f7e9dc"/><rect x="1410.65" y="790.82" width="23.57" height="18.82" fill="#f9f5e9"/><rect x="1433.62" y="790.82" width="23.57" height="18.82" fill="#f8f0e4"/><rect x="1089.00" y="809.04" width="23.57" height="18.82" fill="#aab9f7"/><rect x="1111.97" y="809.04" width="23.57" height="18.82" fill="#b0bef7"/><rect x="1134.95" y="809.04" width="23.57" height="18.82" fill="#b0bef7"/><rect x="1157.92" y="809.04" width="23.57" height="18.82" fill="#a7b7f8"/><rect x="1180.90" y="809.04" width="23.57" height="18.82" fill="#f07a70"/><rect x="1203.88" y="809.04" width="23.57" height="18.82" fill="#f08277"/><rect x="1226.85" y="809.04" width="23.57" height="18.82" fill="#f08277"/><rect x="1249.83" y="809.04" width="23.57" height="18.82" fill="#f08277"/><rect x="1272.80" y="809.04" width="23.57" height="18.82" fill="#b7c3f7"/><rect x="1295.77" y="809.04" width="23.57" height="18.82" fill="#bac5f6"/><rect x="1318.75" y="809.04" width="23.57" height="18.82" fill="#bac5f6"/><rect x="1341.72" y="809.04" width="23.57" height="18.82" fill="#b0bef7"/><rect x="1364.70" y="809.04" width="23.57" height="18.82" fill="#f8eee1"/><rect x="1387.67" y="809.04" width="23.57" height="18.82" fill="#f7e7d9"/><rect x="1410.65" y="809.04" width="23.57" height="18.82" fill="#f7e7d9"/><rect x="1433.62" y="809.04" width="23.57" height="18.82" fill="#f7e7d9"/><rect x="1089.00" y="827.26" width="23.57" height="18.82" fill="#a0b2f8"/><rect x="1111.97" y="827.26" width="23.57" height="18.82" fill="#b0bef7"/><rect x="1134.95" y="827.26" width="23.57" height="18.82" fill="#b0bef7"/><rect x="1157.92" y="827.26" width="23.57" height="18.82" fill="#b7c3f7"/><rect x="1180.90" y="827.26" width="23.57" height="18.82" fill="#f08277"/><rect x="1203.88" y="827.26" width="23.57" height="18.82" fill="#f08277"/><rect x="1226.85" y="827.26" width="23.57" height="18.82" fill="#f08277"/><rect x="1249.83" y="827.26" width="23.57" height="18.82" fill="#f08277"/><rect x="1272.80" y="827.26" width="23.57" height="18.82" fill="#b0bef7"/><rect x="1295.77" y="827.26" width="23.57" height="18.82" fill="#aab9f7"/><rect x="1318.75" y="827.26" width="23.57" height="18.82" fill="#b7c3f7"/><rect x="1341.72" y="827.26" width="23.57" height="18.82" fill="#b7c3f7"/><rect x="1364.70" y="827.26" width="23.57" height="18.82" fill="#f6e2d4"/><rect x="1387.67" y="827.26" width="23.57" height="18.82" fill="#f9f3e6"/><rect x="1410.65" y="827.26" width="23.57" height="18.82" fill="#f8f0e4"/><rect x="1433.62" y="827.26" width="23.57" height="18.82" fill="#f7e9dc"/><rect x="1089.00" y="845.48" width="23.57" height="18.82" fill="#bac5f6"/><rect x="1111.97" y="845.48" width="23.57" height="18.82" fill="#aab9f7"/><rect x="1134.95" y="845.48" width="23.57" height="18.82" fill="#b0bef7"/><rect x="1157.92" y="845.48" width="23.57" height="18.82" fill="#b7c3f7"/><rect x="1180.90" y="845.48" width="23.57" height="18.82" fill="#f06a61"/><rect x="1203.88" y="845.48" width="23.57" height="18.82" fill="#f07067"/><rect x="1226.85" y="845.48" width="23.57" height="18.82" fill="#f08d80"/><rect x="1249.83" y="845.48" width="23.57" height="18.82" fill="#f07a70"/><rect x="1272.80" y="845.48" width="23.57" height="18.82" fill="#b0bef7"/><rect x="1295.77" y="845.48" width="23.57" height="18.82" fill="#c1caf6"/><rect x="1318.75" y="845.48" width="23.57" height="18.82" fill="#b7c3f7"/><rect x="1341.72" y="845.48" width="23.57" height="18.82" fill="#b0bef7"/><rect x="1364.70" y="845.48" width="23.57" height="18.82" fill="#f9f3e6"/><rect x="1387.67" y="845.48" width="23.57" height="18.82" fill="#f8eee1"/><rect x="1410.65" y="845.48" width="23.57" height="18.82" fill="#fafaee"/><rect x="1433.62" y="845.48" width="23.57" height="18.82" fill="#faf8eb"/><rect x="1089.00" y="863.70" width="23.57" height="18.82" fill="#c1caf6"/><rect x="1111.97" y="863.70" width="23.57" height="18.82" fill="#b0bef7"/><rect x="1134.95" y="863.70" width="23.57" height="18.82" fill="#b0bef7"/><rect x="1157.92" y="863.70" width="23.57" height="18.82" fill="#b0bef7"/><rect x="1180.90" y="863.70" width="23.57" height="18.82" fill="#f06a61"/><rect x="1203.88" y="863.70" width="23.57" height="18.82" fill="#f07a70"/><rect x="1226.85" y="863.70" width="23.57" height="18.82" fill="#f07a70"/><rect x="1249.83" y="863.70" width="23.57" height="18.82" fill="#f0746a"/><rect x="1272.80" y="863.70" width="23.57" height="18.82" fill="#b7c3f7"/><rect x="1295.77" y="863.70" width="23.57" height="18.82" fill="#c1caf6"/><rect x="1318.75" y="863.70" width="23.57" height="18.82" fill="#aab9f7"/><rect x="1341.72" y="863.70" width="23.57" height="18.82" fill="#c7cef5"/><rect x="1364.70" y="863.70" width="23.57" height="18.82" fill="#fafaee"/><rect x="1387.67" y="863.70" width="23.57" height="18.82" fill="#f9f5e9"/><rect x="1410.65" y="863.70" width="23.57" height="18.82" fill="#f9f5e9"/><rect x="1433.62" y="863.70" width="23.57" height="18.82" fill="#f9f5e9"/><rect x="1089.00" y="881.92" width="23.57" height="18.82" fill="#b7c3f7"/><rect x="1111.97" y="881.92" width="23.57" height="18.82" fill="#b0bef7"/><rect x="1134.95" y="881.92" width="23.57" height="18.82" fill="#bac5f6"/><rect x="1157.92" y="881.92" width="23.57" height="18.82" fill="#b7c3f7"/><rect x="1180.90" y="881.92" width="23.57" height="18.82" fill="#f0746a"/><rect x="1203.88" y="881.92" width="23.57" height="18.82" fill="#f0746a"/><rect x="1226.85" y="881.92" width="23.57" height="18.82" fill="#f07a70"/><rect x="1249.83" y="881.92" width="23.57" height="18.82" fill="#f0746a"/><rect x="1272.80" y="881.92" width="23.57" height="18.82" fill="#c1caf6"/><rect x="1295.77" y="881.92" width="23.57" height="18.82" fill="#c1caf6"/><rect x="1318.75" y="881.92" width="23.57" height="18.82" fill="#bac5f6"/><rect x="1341.72" y="881.92" width="23.57" height="18.82" fill="#c1caf6"/><rect x="1364.70" y="881.92" width="23.57" height="18.82" fill="#fafaee"/><rect x="1387.67" y="881.92" width="23.57" height="18.82" fill="#f9f3e6"/><rect x="1410.65" y="881.92" width="23.57" height="18.82" fill="#f9f3e6"/><rect x="1433.62" y="881.92" width="23.57" height="18.82" fill="#f7e9dc"/><rect x="1089.00" y="900.14" width="23.57" height="18.82" fill="#b0bef7"/><rect x="1111.97" y="900.14" width="23.57" height="18.82" fill="#82a1fa"/><rect x="1134.95" y="900.14" width="23.57" height="18.82" fill="#e3e5f2"/><rect x="1157.92" y="900.14" width="23.57" height="18.82" fill="#cfd5f4"/><rect x="1180.90" y="900.14" width="23.57" height="18.82" fill="#f07a70"/><rect x="1203.88" y="900.14" width="23.57" height="18.82" fill="#f06a61"/><rect x="1226.85" y="900.14" width="23.57" height="18.82" fill="#f1988a"/><rect x="1249.83" y="900.14" width="23.57" height="18.82" fill="#f07a70"/><rect x="1272.80" y="900.14" width="23.57" height="18.82" fill="#c7cef5"/><rect x="1295.77" y="900.14" width="23.57" height="18.82" fill="#ecedf0"/><rect x="1318.75" y="900.14" width="23.57" height="18.82" fill="#82a1fa"/><rect x="1341.72" y="900.14" width="23.57" height="18.82" fill="#b0bef7"/><rect x="1364.70" y="900.14" width="23.57" height="18.82" fill="#f6e2d4"/><rect x="1387.67" y="900.14" width="23.57" height="18.82" fill="#fafaee"/><rect x="1410.65" y="900.14" width="23.57" height="18.82" fill="#fafaee"/><rect x="1433.62" y="900.14" width="23.57" height="18.82" fill="#f7e7d9"/><rect x="1089.00" y="918.36" width="23.57" height="18.82" fill="#ecedf0"/><rect x="1111.97" y="918.36" width="23.57" height="18.82" fill="#fafaee"/><rect x="1134.95" y="918.36" width="23.57" height="18.82" fill="#f7f7ee"/><rect x="1157.92" y="918.36" width="23.57" height="18.82" fill="#f4f5ef"/><rect x="1180.90" y="918.36" width="23.57" height="18.82" fill="#f07a70"/><rect x="1203.88" y="918.36" width="23.57" height="18.82" fill="#f07067"/><rect x="1226.85" y="918.36" width="23.57" height="18.82" fill="#f07067"/><rect x="1249.83" y="918.36" width="23.57" height="18.82" fill="#f0645b"/><rect x="1272.80" y="918.36" width="23.57" height="18.82" fill="#a0b2f8"/><rect x="1295.77" y="918.36" width="23.57" height="18.82" fill="#8da8f9"/><rect x="1318.75" y="918.36" width="23.57" height="18.82" fill="#98aef8"/><rect x="1341.72" y="918.36" width="23.57" height="18.82" fill="#a7b7f8"/><rect x="1364.70" y="918.36" width="23.57" height="18.82" fill="#e3e5f2"/><rect x="1387.67" y="918.36" width="23.57" height="18.82" fill="#eef0f0"/><rect x="1410.65" y="918.36" width="23.57" height="18.82" fill="#eef0f0"/><rect x="1433.62" y="918.36" width="23.57" height="18.82" fill="#eef0f0"/><rect x="1089.00" y="936.58" width="23.57" height="18.82" fill="#ecedf0"/><rect x="1111.97" y="936.58" width="23.57" height="18.82" fill="#f7f7ee"/><rect x="1134.95" y="936.58" width="23.57" height="18.82" fill="#f7f7ee"/><rect x="1157.92" y="936.58" width="23.57" height="18.82" fill="#fafaee"/><rect x="1180.90" y="936.58" width="23.57" height="18.82" fill="#f07067"/><rect x="1203.88" y="936.58" width="23.57" height="18.82" fill="#f06a61"/><rect x="1226.85" y="936.58" width="23.57" height="18.82" fill="#f07067"/><rect x="1249.83" y="936.58" width="23.57" height="18.82" fill="#f06a61"/><rect x="1272.80" y="936.58" width="23.57" height="18.82" fill="#a0b2f8"/><rect x="1295.77" y="936.58" width="23.57" height="18.82" fill="#a0b2f8"/><rect x="1318.75" y="936.58" width="23.57" height="18.82" fill="#98aef8"/><rect x="1341.72" y="936.58" width="23.57" height="18.82" fill="#cfd5f4"/><rect x="1364.70" y="936.58" width="23.57" height="18.82" fill="#c1caf6"/><rect x="1387.67" y="936.58" width="23.57" height="18.82" fill="#dde0f3"/><rect x="1410.65" y="936.58" width="23.57" height="18.82" fill="#eef0f0"/><rect x="1433.62" y="936.58" width="23.57" height="18.82" fill="#e6e8f2"/><rect x="1089.00" y="954.80" width="23.57" height="18.82" fill="#faf8eb"/><rect x="1111.97" y="954.80" width="23.57" height="18.82" fill="#f9f5e9"/><rect x="1134.95" y="954.80" width="23.57" height="18.82" fill="#f4f5ef"/><rect x="1157.92" y="954.80" width="23.57" height="18.82" fill="#eef0f0"/><rect x="1180.90" y="954.80" width="23.57" height="18.82" fill="#f07067"/><rect x="1203.88" y="954.80" width="23.57" height="18.82" fill="#f08277"/><rect x="1226.85" y="954.80" width="23.57" height="18.82" fill="#f05a52"/><rect x="1249.83" y="954.80" width="23.57" height="18.82" fill="#f07067"/><rect x="1272.80" y="954.80" width="23.57" height="18.82" fill="#b0bef7"/><rect x="1295.77" y="954.80" width="23.57" height="18.82" fill="#a7b7f8"/><rect x="1318.75" y="954.80" width="23.57" height="18.82" fill="#b0bef7"/><rect x="1341.72" y="954.80" width="23.57" height="18.82" fill="#bac5f6"/><rect x="1364.70" y="954.80" width="23.57" height="18.82" fill="#d7dcf4"/><rect x="1387.67" y="954.80" width="23.57" height="18.82" fill="#cfd5f4"/><rect x="1410.65" y="954.80" width="23.57" height="18.82" fill="#d7dcf4"/><rect x="1433.62" y="954.80" width="23.57" height="18.82" fill="#cfd5f4"/><rect x="1089.00" y="973.02" width="23.57" height="18.82" fill="#e9eaf1"/><rect x="1111.97" y="973.02" width="23.57" height="18.82" fill="#e6e8f2"/><rect x="1134.95" y="973.02" width="23.57" height="18.82" fill="#dde0f3"/><rect x="1157.92" y="973.02" width="23.57" height="18.82" fill="#e9eaf1"/><rect x="1180.90" y="973.02" width="23.57" height="18.82" fill="#f06a61"/><rect x="1203.88" y="973.02" width="23.57" height="18.82" fill="#f07a70"/><rect x="1226.85" y="973.02" width="23.57" height="18.82" fill="#f06058"/><rect x="1249.83" y="973.02" width="23.57" height="18.82" fill="#f06a61"/><rect x="1272.80" y="973.02" width="23.57" height="18.82" fill="#b7c3f7"/><rect x="1295.77" y="973.02" width="23.57" height="18.82" fill="#c7cef5"/><rect x="1318.75" y="973.02" width="23.57" height="18.82" fill="#b7c3f7"/><rect x="1341.72" y="973.02" width="23.57" height="18.82" fill="#cfd5f4"/><rect x="1364.70" y="973.02" width="23.57" height="18.82" fill="#e3e5f2"/><rect x="1387.67" y="973.02" width="23.57" height="18.82" fill="#dde0f3"/><rect x="1410.65" y="973.02" width="23.57" height="18.82" fill="#d7dcf4"/><rect x="1433.62" y="973.02" width="23.57" height="18.82" fill="#d7dcf4"/><rect x="1089.00" y="991.24" width="23.57" height="18.82" fill="#dde0f3"/><rect x="1111.97" y="991.24" width="23.57" height="18.82" fill="#f4f5ef"/><rect x="1134.95" y="991.24" width="23.57" height="18.82" fill="#f7f7ee"/><rect x="1157.92" y="991.24" width="23.57" height="18.82" fill="#f7f7ee"/><rect x="1180.90" y="991.24" width="23.57" height="18.82" fill="#f06a61"/><rect x="1203.88" y="991.24" width="23.57" height="18.82" fill="#f0645b"/><rect x="1226.85" y="991.24" width="23.57" height="18.82" fill="#f07a70"/><rect x="1249.83" y="991.24" width="23.57" height="18.82" fill="#f07067"/><rect x="1272.80" y="991.24" width="23.57" height="18.82" fill="#b7c3f7"/><rect x="1295.77" y="991.24" width="23.57" height="18.82" fill="#b0bef7"/><rect x="1318.75" y="991.24" width="23.57" height="18.82" fill="#cfd5f4"/><rect x="1341.72" y="991.24" width="23.57" height="18.82" fill="#b0bef7"/><rect x="1364.70" y="991.24" width="23.57" height="18.82" fill="#dde0f3"/><rect x="1387.67" y="991.24" width="23.57" height="18.82" fill="#d7dcf4"/><rect x="1410.65" y="991.24" width="23.57" height="18.82" fill="#d7dcf4"/><rect x="1433.62" y="991.24" width="23.57" height="18.82" fill="#e9eaf1"/><rect x="1089.00" y="1009.46" width="23.57" height="18.82" fill="#eef0f0"/><rect x="1111.97" y="1009.46" width="23.57" height="18.82" fill="#faf9ed"/><rect x="1134.95" y="1009.46" width="23.57" height="18.82" fill="#f7f7ee"/><rect x="1157.92" y="1009.46" width="23.57" height="18.82" fill="#faf8eb"/><rect x="1180.90" y="1009.46" width="23.57" height="18.82" fill="#f1a091"/><rect x="1203.88" y="1009.46" width="23.57" height="18.82" fill="#f05a52"/><rect x="1226.85" y="1009.46" width="23.57" height="18.82" fill="#f06a61"/><rect x="1249.83" y="1009.46" width="23.57" height="18.82" fill="#f08277"/><rect x="1272.80" y="1009.46" width="23.57" height="18.82" fill="#c1caf6"/><rect x="1295.77" y="1009.46" width="23.57" height="18.82" fill="#dde0f3"/><rect x="1318.75" y="1009.46" width="23.57" height="18.82" fill="#c7cef5"/><rect x="1341.72" y="1009.46" width="23.57" height="18.82" fill="#dde0f3"/><rect x="1364.70" y="1009.46" width="23.57" height="18.82" fill="#dde0f3"/><rect x="1387.67" y="1009.46" width="23.57" height="18.82" fill="#8da8f9"/><rect x="1410.65" y="1009.46" width="23.57" height="18.82" fill="#c7cef5"/><rect x="1433.62" y="1009.46" width="23.57" height="18.82" fill="#cfd5f4"/><rect x="1089.00" y="1027.68" width="23.57" height="18.82" fill="#fafaee"/><rect x="1111.97" y="1027.68" width="23.57" height="18.82" fill="#faf8eb"/><rect x="1134.95" y="1027.68" width="23.57" height="18.82" fill="#faf8eb"/><rect x="1157.92" y="1027.68" width="23.57" height="18.82" fill="#faf8eb"/><rect x="1180.90" y="1027.68" width="23.57" height="18.82" fill="#f07067"/><rect x="1203.88" y="1027.68" width="23.57" height="18.82" fill="#f07067"/><rect x="1226.85" y="1027.68" width="23.57" height="18.82" fill="#f0746a"/><rect x="1249.83" y="1027.68" width="23.57" height="18.82" fill="#f0746a"/><rect x="1272.80" y="1027.68" width="23.57" height="18.82" fill="#bac5f6"/><rect x="1295.77" y="1027.68" width="23.57" height="18.82" fill="#b0bef7"/><rect x="1318.75" y="1027.68" width="23.57" height="18.82" fill="#b7c3f7"/><rect x="1341.72" y="1027.68" width="23.57" height="18.82" fill="#b0bef7"/><rect x="1364.70" y="1027.68" width="23.57" height="18.82" fill="#f4f5ef"/><rect x="1387.67" y="1027.68" width="23.57" height="18.82" fill="#b7c3f7"/><rect x="1410.65" y="1027.68" width="23.57" height="18.82" fill="#b7c3f7"/><rect x="1433.62" y="1027.68" width="23.57" height="18.82" fill="#dde0f3"/><rect x="1089.00" y="1045.90" width="23.57" height="18.82" fill="#b0bef7"/><rect x="1111.97" y="1045.90" width="23.57" height="18.82" fill="#e3e5f2"/><rect x="1134.95" y="1045.90" width="23.57" height="18.82" fill="#e3e5f2"/><rect x="1157.92" y="1045.90" width="23.57" height="18.82" fill="#b0bef7"/><rect x="1180.90" y="1045.90" width="23.57" height="18.82" fill="#f08277"/><rect x="1203.88" y="1045.90" width="23.57" height="18.82" fill="#f05a52"/><rect x="1226.85" y="1045.90" width="23.57" height="18.82" fill="#f05a52"/><rect x="1249.83" y="1045.90" width="23.57" height="18.82" fill="#f07067"/><rect x="1272.80" y="1045.90" width="23.57" height="18.82" fill="#dde0f3"/><rect x="1295.77" y="1045.90" width="23.57" height="18.82" fill="#c7cef5"/><rect x="1318.75" y="1045.90" width="23.57" height="18.82" fill="#bac5f6"/><rect x="1341.72" y="1045.90" width="23.57" height="18.82" fill="#a0b2f8"/><rect x="1364.70" y="1045.90" width="23.57" height="18.82" fill="#fafaee"/><rect x="1387.67" y="1045.90" width="23.57" height="18.82" fill="#f9f5e9"/><rect x="1410.65" y="1045.90" width="23.57" height="18.82" fill="#e3e5f2"/><rect x="1433.62" y="1045.90" width="23.57" height="18.82" fill="#ecedf0"/><rect x="1089.00" y="1064.12" width="23.57" height="18.82" fill="#c1caf6"/><rect x="1111.97" y="1064.12" width="23.57" height="18.82" fill="#dde0f3"/><rect x="1134.95" y="1064.12" width="23.57" height="18.82" fill="#e9eaf1"/><rect x="1157.92" y="1064.12" width="23.57" height="18.82" fill="#d5d9f4"/><rect x="1180.90" y="1064.12" width="23.57" height="18.82" fill="#f05a52"/><rect x="1203.88" y="1064.12" width="23.57" height="18.82" fill="#f08d80"/><rect x="1226.85" y="1064.12" width="23.57" height="18.82" fill="#f08d80"/><rect x="1249.83" y="1064.12" width="23.57" height="18.82" fill="#f05a52"/><rect x="1272.80" y="1064.12" width="23.57" height="18.82" fill="#aab9f7"/><rect x="1295.77" y="1064.12" width="23.57" height="18.82" fill="#cfd5f4"/><rect x="1318.75" y="1064.12" width="23.57" height="18.82" fill="#a0b2f8"/><rect x="1341.72" y="1064.12" width="23.57" height="18.82" fill="#a0b2f8"/><rect x="1364.70" y="1064.12" width="23.57" height="18.82" fill="#fafaee"/><rect x="1387.67" y="1064.12" width="23.57" height="18.82" fill="#e3e5f2"/><rect x="1410.65" y="1064.12" width="23.57" height="18.82" fill="#faf8eb"/><rect x="1433.62" y="1064.12" width="23.57" height="18.82" fill="#f4f5ef"/><rect x="1089.00" y="1082.34" width="23.57" height="18.82" fill="#c7cef5"/><rect x="1111.97" y="1082.34" width="23.57" height="18.82" fill="#c7cef5"/><rect x="1134.95" y="1082.34" width="23.57" height="18.82" fill="#e3e5f2"/><rect x="1157.92" y="1082.34" width="23.57" height="18.82" fill="#e0e3f2"/><rect x="1180.90" y="1082.34" width="23.57" height="18.82" fill="#f07a70"/><rect x="1203.88" y="1082.34" width="23.57" height="18.82" fill="#f06058"/><rect x="1226.85" y="1082.34" width="23.57" height="18.82" fill="#f0857a"/><rect x="1249.83" y="1082.34" width="23.57" height="18.82" fill="#f07067"/><rect x="1272.80" y="1082.34" width="23.57" height="18.82" fill="#a7b7f8"/><rect x="1295.77" y="1082.34" width="23.57" height="18.82" fill="#a7b7f8"/><rect x="1318.75" y="1082.34" width="23.57" height="18.82" fill="#a7b7f8"/><rect x="1341.72" y="1082.34" width="23.57" height="18.82" fill="#bac5f6"/><rect x="1364.70" y="1082.34" width="23.57" height="18.82" fill="#faf8eb"/><rect x="1387.67" y="1082.34" width="23.57" height="18.82" fill="#f1f2f0"/><rect x="1410.65" y="1082.34" width="23.57" height="18.82" fill="#f9f5e9"/><rect x="1433.62" y="1082.34" width="23.57" height="18.82" fill="#f9f5e9"/><rect x="1089.00" y="1100.56" width="23.57" height="18.82" fill="#cfd5f4"/><rect x="1111.97" y="1100.56" width="23.57" height="18.82" fill="#e6e8f2"/><rect x="1134.95" y="1100.56" width="23.57" height="18.82" fill="#ecedf0"/><rect x="1157.92" y="1100.56" width="23.57" height="18.82" fill="#dde0f3"/><rect x="1180.90" y="1100.56" width="23.57" height="18.82" fill="#f07a70"/><rect x="1203.88" y="1100.56" width="23.57" height="18.82" fill="#f07a70"/><rect x="1226.85" y="1100.56" width="23.57" height="18.82" fill="#f06a61"/><rect x="1249.83" y="1100.56" width="23.57" height="18.82" fill="#f06a61"/><rect x="1272.80" y="1100.56" width="23.57" height="18.82" fill="#b7c3f7"/><rect x="1295.77" y="1100.56" width="23.57" height="18.82" fill="#95acf9"/><rect x="1318.75" y="1100.56" width="23.57" height="18.82" fill="#b7c3f7"/><rect x="1341.72" y="1100.56" width="23.57" height="18.82" fill="#aab9f7"/><rect x="1364.70" y="1100.56" width="23.57" height="18.82" fill="#f7f7ee"/><rect x="1387.67" y="1100.56" width="23.57" height="18.82" fill="#f4f5ef"/><rect x="1410.65" y="1100.56" width="23.57" height="18.82" fill="#f1f2f0"/><rect x="1433.62" y="1100.56" width="23.57" height="18.82" fill="#f7f7ee"/><rect x="1089.00" y="1118.78" width="23.57" height="18.82" fill="#e0e3f2"/><rect x="1111.97" y="1118.78" width="23.57" height="18.82" fill="#dde0f3"/><rect x="1134.95" y="1118.78" width="23.57" height="18.82" fill="#e0e3f2"/><rect x="1157.92" y="1118.78" width="23.57" height="18.82" fill="#e0e3f2"/><rect x="1180.90" y="1118.78" width="23.57" height="18.82" fill="#f06a61"/><rect x="1203.88" y="1118.78" width="23.57" height="18.82" fill="#f06a61"/><rect x="1226.85" y="1118.78" width="23.57" height="18.82" fill="#f06a61"/><rect x="1249.83" y="1118.78" width="23.57" height="18.82" fill="#f06a61"/><rect x="1272.80" y="1118.78" width="23.57" height="18.82" fill="#b0bef7"/><rect x="1295.77" y="1118.78" width="23.57" height="18.82" fill="#b0bef7"/><rect x="1318.75" y="1118.78" width="23.57" height="18.82" fill="#b7c3f7"/><rect x="1341.72" y="1118.78" width="23.57" height="18.82" fill="#aab9f7"/><rect x="1364.70" y="1118.78" width="23.57" height="18.82" fill="#f7f7ee"/><rect x="1387.67" y="1118.78" width="23.57" height="18.82" fill="#f4f5ef"/><rect x="1410.65" y="1118.78" width="23.57" height="18.82" fill="#f4f5ef"/><rect x="1433.62" y="1118.78" width="23.57" height="18.82" fill="#f7f7ee"/><rect x="1089.00" y="1137.00" width="23.57" height="18.82" fill="#dde0f3"/><rect x="1111.97" y="1137.00" width="23.57" height="18.82" fill="#e9eaf1"/><rect x="1134.95" y="1137.00" width="23.57" height="18.82" fill="#e3e5f2"/><rect x="1157.92" y="1137.00" width="23.57" height="18.82" fill="#d7dcf4"/><rect x="1180.90" y="1137.00" width="23.57" height="18.82" fill="#f07067"/><rect x="1203.88" y="1137.00" width="23.57" height="18.82" fill="#f07067"/><rect x="1226.85" y="1137.00" width="23.57" height="18.82" fill="#f07067"/><rect x="1249.83" y="1137.00" width="23.57" height="18.82" fill="#f0746a"/><rect x="1272.80" y="1137.00" width="23.57" height="18.82" fill="#aab9f7"/><rect x="1295.77" y="1137.00" width="23.57" height="18.82" fill="#b7c3f7"/><rect x="1318.75" y="1137.00" width="23.57" height="18.82" fill="#a7b7f8"/><rect x="1341.72" y="1137.00" width="23.57" height="18.82" fill="#95acf9"/><rect x="1364.70" y="1137.00" width="23.57" height="18.82" fill="#faf8eb"/><rect x="1387.67" y="1137.00" width="23.57" height="18.82" fill="#f7f7ee"/><rect x="1410.65" y="1137.00" width="23.57" height="18.82" fill="#f7f7ee"/><rect x="1433.62" y="1137.00" width="23.57" height="18.82" fill="#fafaee"/><rect x="1089.00" y="1155.22" width="23.57" height="18.82" fill="#d5d9f4"/><rect x="1111.97" y="1155.22" width="23.57" height="18.82" fill="#d7dcf4"/><rect x="1134.95" y="1155.22" width="23.57" height="18.82" fill="#d7dcf4"/><rect x="1157.92" y="1155.22" width="23.57" height="18.82" fill="#e3e5f2"/><rect x="1180.90" y="1155.22" width="23.57" height="18.82" fill="#f06a61"/><rect x="1203.88" y="1155.22" width="23.57" height="18.82" fill="#f07067"/><rect x="1226.85" y="1155.22" width="23.57" height="18.82" fill="#f0645b"/><rect x="1249.83" y="1155.22" width="23.57" height="18.82" fill="#f06a61"/><rect x="1272.80" y="1155.22" width="23.57" height="18.82" fill="#c1caf6"/><rect x="1295.77" y="1155.22" width="23.57" height="18.82" fill="#bac5f6"/><rect x="1318.75" y="1155.22" width="23.57" height="18.82" fill="#b7c3f7"/><rect x="1341.72" y="1155.22" width="23.57" height="18.82" fill="#c1caf6"/><rect x="1364.70" y="1155.22" width="23.57" height="18.82" fill="#fafaee"/><rect x="1387.67" y="1155.22" width="23.57" height="18.82" fill="#dde0f3"/><rect x="1410.65" y="1155.22" width="23.57" height="18.82" fill="#ecedf0"/><rect x="1433.62" y="1155.22" width="23.57" height="18.82" fill="#f1f2f0"/><rect x="1089.00" y="1173.44" width="23.57" height="18.82" fill="#d5d9f4"/><rect x="1111.97" y="1173.44" width="23.57" height="18.82" fill="#d5d9f4"/><rect x="1134.95" y="1173.44" width="23.57" height="18.82" fill="#d5d9f4"/><rect x="1157.92" y="1173.44" width="23.57" height="18.82" fill="#e3e5f2"/><rect x="1180.90" y="1173.44" width="23.57" height="18.82" fill="#f07067"/><rect x="1203.88" y="1173.44" width="23.57" height="18.82" fill="#f07067"/><rect x="1226.85" y="1173.44" width="23.57" height="18.82" fill="#f0645b"/><rect x="1249.83" y="1173.44" width="23.57" height="18.82" fill="#f06a61"/><rect x="1272.80" y="1173.44" width="23.57" height="18.82" fill="#c7cef5"/><rect x="1295.77" y="1173.44" width="23.57" height="18.82" fill="#bac5f6"/><rect x="1318.75" y="1173.44" width="23.57" height="18.82" fill="#a7b7f8"/><rect x="1341.72" y="1173.44" width="23.57" height="18.82" fill="#a0b2f8"/><rect x="1364.70" y="1173.44" width="23.57" height="18.82" fill="#faf8eb"/><rect x="1387.67" y="1173.44" width="23.57" height="18.82" fill="#e9eaf1"/><rect x="1410.65" y="1173.44" width="23.57" height="18.82" fill="#e9eaf1"/><rect x="1433.62" y="1173.44" width="23.57" height="18.82" fill="#f9f5e9"/><rect x="1089.00" y="1191.66" width="23.57" height="18.82" fill="#ecedf0"/><rect x="1111.97" y="1191.66" width="23.57" height="18.82" fill="#d7dcf4"/><rect x="1134.95" y="1191.66" width="23.57" height="18.82" fill="#d7dcf4"/><rect x="1157.92" y="1191.66" width="23.57" height="18.82" fill="#e6e8f2"/><rect x="1180.90" y="1191.66" width="23.57" height="18.82" fill="#f0746a"/><rect x="1203.88" y="1191.66" width="23.57" height="18.82" fill="#f0645b"/><rect x="1226.85" y="1191.66" width="23.57" height="18.82" fill="#f0857a"/><rect x="1249.83" y="1191.66" width="23.57" height="18.82" fill="#f06058"/><rect x="1272.80" y="1191.66" width="23.57" height="18.82" fill="#aab9f7"/><rect x="1295.77" y="1191.66" width="23.57" height="18.82" fill="#b0bef7"/><rect x="1318.75" y="1191.66" width="23.57" height="18.82" fill="#b7c3f7"/><rect x="1341.72" y="1191.66" width="23.57" height="18.82" fill="#b7c3f7"/><rect x="1364.70" y="1191.66" width="23.57" height="18.82" fill="#e3e5f2"/><rect x="1387.67" y="1191.66" width="23.57" height="18.82" fill="#e3e5f2"/><rect x="1410.65" y="1191.66" width="23.57" height="18.82" fill="#e9eaf1"/><rect x="1433.62" y="1191.66" width="23.57" height="18.82" fill="#faf8eb"/><rect x="1089.00" y="1209.88" width="23.57" height="18.82" fill="#d7dcf4"/><rect x="1111.97" y="1209.88" width="23.57" height="18.82" fill="#cfd5f4"/><rect x="1134.95" y="1209.88" width="23.57" height="18.82" fill="#e6e8f2"/><rect x="1157.92" y="1209.88" width="23.57" height="18.82" fill="#e6e8f2"/><rect x="1180.90" y="1209.88" width="23.57" height="18.82" fill="#f07067"/><rect x="1203.88" y="1209.88" width="23.57" height="18.82" fill="#f07067"/><rect x="1226.85" y="1209.88" width="23.57" height="18.82" fill="#f0645b"/><rect x="1249.83" y="1209.88" width="23.57" height="18.82" fill="#f0645b"/><rect x="1272.80" y="1209.88" width="23.57" height="18.82" fill="#aab9f7"/><rect x="1295.77" y="1209.88" width="23.57" height="18.82" fill="#c7cef5"/><rect x="1318.75" y="1209.88" width="23.57" height="18.82" fill="#bac5f6"/><rect x="1341.72" y="1209.88" width="23.57" height="18.82" fill="#a7b7f8"/><rect x="1364.70" y="1209.88" width="23.57" height="18.82" fill="#e9eaf1"/><rect x="1387.67" y="1209.88" width="23.57" height="18.82" fill="#c7cef5"/><rect x="1410.65" y="1209.88" width="23.57" height="18.82" fill="#ecedf0"/><rect x="1433.62" y="1209.88" width="23.57" height="18.82" fill="#faf8eb"/><rect x="1089.00" y="1228.10" width="23.57" height="18.82" fill="#cfd5f4"/><rect x="1111.97" y="1228.10" width="23.57" height="18.82" fill="#dde0f3"/><rect x="1134.95" y="1228.10" width="23.57" height="18.82" fill="#e9eaf1"/><rect x="1157.92" y="1228.10" width="23.57" height="18.82" fill="#faf9ed"/><rect x="1180.90" y="1228.10" width="23.57" height="18.82" fill="#f06a61"/><rect x="1203.88" y="1228.10" width="23.57" height="18.82" fill="#f07067"/><rect x="1226.85" y="1228.10" width="23.57" height="18.82" fill="#f07a70"/><rect x="1249.83" y="1228.10" width="23.57" height="18.82" fill="#f0645b"/><rect x="1272.80" y="1228.10" width="23.57" height="18.82" fill="#b0bef7"/><rect x="1295.77" y="1228.10" width="23.57" height="18.82" fill="#c7cef5"/><rect x="1318.75" y="1228.10" width="23.57" height="18.82" fill="#8da8f9"/><rect x="1341.72" y="1228.10" width="23.57" height="18.82" fill="#b0bef7"/><rect x="1364.70" y="1228.10" width="23.57" height="18.82" fill="#f1f2f0"/><rect x="1387.67" y="1228.10" width="23.57" height="18.82" fill="#e9eaf1"/><rect x="1410.65" y="1228.10" width="23.57" height="18.82" fill="#c1caf6"/><rect x="1433.62" y="1228.10" width="23.57" height="18.82" fill="#f4f5ef"/><rect x="1089.00" y="1246.32" width="23.57" height="18.82" fill="#c9d1f5"/><rect x="1111.97" y="1246.32" width="23.57" height="18.82" fill="#e9eaf1"/><rect x="1134.95" y="1246.32" width="23.57" height="18.82" fill="#dde0f3"/><rect x="1157.92" y="1246.32" width="23.57" height="18.82" fill="#f1f2f0"/><rect x="1180.90" y="1246.32" width="23.57" height="18.82" fill="#f07067"/><rect x="1203.88" y="1246.32" width="23.57" height="18.82" fill="#f0675e"/><rect x="1226.85" y="1246.32" width="23.57" height="18.82" fill="#f07067"/><rect x="1249.83" y="1246.32" width="23.57" height="18.82" fill="#f07067"/><rect x="1272.80" y="1246.32" width="23.57" height="18.82" fill="#98aef8"/><rect x="1295.77" y="1246.32" width="23.57" height="18.82" fill="#98aef8"/><rect x="1318.75" y="1246.32" width="23.57" height="18.82" fill="#a0b2f8"/><rect x="1341.72" y="1246.32" width="23.57" height="18.82" fill="#b0bef7"/><rect x="1364.70" y="1246.32" width="23.57" height="18.82" fill="#f1f2f0"/><rect x="1387.67" y="1246.32" width="23.57" height="18.82" fill="#fafaee"/><rect x="1410.65" y="1246.32" width="23.57" height="18.82" fill="#dde0f3"/><rect x="1433.62" y="1246.32" width="23.57" height="18.82" fill="#faf8eb"/><rect x="1089.00" y="1264.54" width="23.57" height="18.82" fill="#eef0f0"/><rect x="1111.97" y="1264.54" width="23.57" height="18.82" fill="#f1f2f0"/><rect x="1134.95" y="1264.54" width="23.57" height="18.82" fill="#f1f2f0"/><rect x="1157.92" y="1264.54" width="23.57" height="18.82" fill="#f1f2f0"/><rect x="1180.90" y="1264.54" width="23.57" height="18.82" fill="#f07067"/><rect x="1203.88" y="1264.54" width="23.57" height="18.82" fill="#f07a70"/><rect x="1226.85" y="1264.54" width="23.57" height="18.82" fill="#f07a70"/><rect x="1249.83" y="1264.54" width="23.57" height="18.82" fill="#f07067"/><rect x="1272.80" y="1264.54" width="23.57" height="18.82" fill="#85a3f9"/><rect x="1295.77" y="1264.54" width="23.57" height="18.82" fill="#8da8f9"/><rect x="1318.75" y="1264.54" width="23.57" height="18.82" fill="#8da8f9"/><rect x="1341.72" y="1264.54" width="23.57" height="18.82" fill="#8da8f9"/><rect x="1364.70" y="1264.54" width="23.57" height="18.82" fill="#fafaee"/><rect x="1387.67" y="1264.54" width="23.57" height="18.82" fill="#f1f2f0"/><rect x="1410.65" y="1264.54" width="23.57" height="18.82" fill="#f1f2f0"/><rect x="1433.62" y="1264.54" width="23.57" height="18.82" fill="#f4f5ef"/><rect x="1089.00" y="1282.76" width="23.57" height="18.82" fill="#f4f5ef"/><rect x="1111.97" y="1282.76" width="23.57" height="18.82" fill="#f4f5ef"/><rect x="1134.95" y="1282.76" width="23.57" height="18.82" fill="#faf9ed"/><rect x="1157.92" y="1282.76" width="23.57" height="18.82" fill="#f4f5ef"/><rect x="1180.90" y="1282.76" width="23.57" height="18.82" fill="#f07067"/><rect x="1203.88" y="1282.76" width="23.57" height="18.82" fill="#f07a70"/><rect x="1226.85" y="1282.76" width="23.57" height="18.82" fill="#f07a70"/><rect x="1249.83" y="1282.76" width="23.57" height="18.82" fill="#f0746a"/><rect x="1272.80" y="1282.76" width="23.57" height="18.82" fill="#95acf9"/><rect x="1295.77" y="1282.76" width="23.57" height="18.82" fill="#a0b2f8"/><rect x="1318.75" y="1282.76" width="23.57" height="18.82" fill="#7099fa"/><rect x="1341.72" y="1282.76" width="23.57" height="18.82" fill="#95acf9"/><rect x="1364.70" y="1282.76" width="23.57" height="18.82" fill="#ecedf0"/><rect x="1387.67" y="1282.76" width="23.57" height="18.82" fill="#ecedf0"/><rect x="1410.65" y="1282.76" width="23.57" height="18.82" fill="#eef0f0"/><rect x="1433.62" y="1282.76" width="23.57" height="18.82" fill="#f4f5ef"/><rect x="1089.00" y="1300.98" width="23.57" height="18.82" fill="#e9eaf1"/><rect x="1111.97" y="1300.98" width="23.57" height="18.82" fill="#f4f5ef"/><rect x="1134.95" y="1300.98" width="23.57" height="18.82" fill="#eef0f0"/><rect x="1157.92" y="1300.98" width="23.57" height="18.82" fill="#f1f2f0"/><rect x="1180.90" y="1300.98" width="23.57" height="18.82" fill="#f07067"/><rect x="1203.88" y="1300.98" width="23.57" height="18.82" fill="#f06058"/><rect x="1226.85" y="1300.98" width="23.57" height="18.82" fill="#f0746a"/><rect x="1249.83" y="1300.98" width="23.57" height="18.82" fill="#f07067"/><rect x="1272.80" y="1300.98" width="23.57" height="18.82" fill="#8da8f9"/><rect x="1295.77" y="1300.98" width="23.57" height="18.82" fill="#b0bef7"/><rect x="1318.75" y="1300.98" width="23.57" height="18.82" fill="#a0b2f8"/><rect x="1341.72" y="1300.98" width="23.57" height="18.82" fill="#a0b2f8"/><rect x="1364.70" y="1300.98" width="23.57" height="18.82" fill="#ecedf0"/><rect x="1387.67" y="1300.98" width="23.57" height="18.82" fill="#ecedf0"/><rect x="1410.65" y="1300.98" width="23.57" height="18.82" fill="#e3e5f2"/><rect x="1433.62" y="1300.98" width="23.57" height="18.82" fill="#eef0f0"/><rect x="1089.00" y="1319.20" width="23.57" height="18.82" fill="#ecedf0"/><rect x="1111.97" y="1319.20" width="23.57" height="18.82" fill="#ecedf0"/><rect x="1134.95" y="1319.20" width="23.57" height="18.82" fill="#ecedf0"/><rect x="1157.92" y="1319.20" width="23.57" height="18.82" fill="#f7f7ee"/><rect x="1180.90" y="1319.20" width="23.57" height="18.82" fill="#f0645b"/><rect x="1203.88" y="1319.20" width="23.57" height="18.82" fill="#f06a61"/><rect x="1226.85" y="1319.20" width="23.57" height="18.82" fill="#f06a61"/><rect x="1249.83" y="1319.20" width="23.57" height="18.82" fill="#f07067"/><rect x="1272.80" y="1319.20" width="23.57" height="18.82" fill="#aab9f7"/><rect x="1295.77" y="1319.20" width="23.57" height="18.82" fill="#aab9f7"/><rect x="1318.75" y="1319.20" width="23.57" height="18.82" fill="#aab9f7"/><rect x="1341.72" y="1319.20" width="23.57" height="18.82" fill="#a0b2f8"/><rect x="1364.70" y="1319.20" width="23.57" height="18.82" fill="#ecedf0"/><rect x="1387.67" y="1319.20" width="23.57" height="18.82" fill="#e3e5f2"/><rect x="1410.65" y="1319.20" width="23.57" height="18.82" fill="#e3e5f2"/><rect x="1433.62" y="1319.20" width="23.57" height="18.82" fill="#e3e5f2"/><rect x="1089.00" y="1337.42" width="23.57" height="18.82" fill="#faf8eb"/><rect x="1111.97" y="1337.42" width="23.57" height="18.82" fill="#dde0f3"/><rect x="1134.95" y="1337.42" width="23.57" height="18.82" fill="#e9eaf1"/><rect x="1157.92" y="1337.42" width="23.57" height="18.82" fill="#e9eaf1"/><rect x="1180.90" y="1337.42" width="23.57" height="18.82" fill="#f07067"/><rect x="1203.88" y="1337.42" width="23.57" height="18.82" fill="#f06058"/><rect x="1226.85" y="1337.42" width="23.57" height="18.82" fill="#f05a52"/><rect x="1249.83" y="1337.42" width="23.57" height="18.82" fill="#f1a091"/><rect x="1272.80" y="1337.42" width="23.57" height="18.82" fill="#c1caf6"/><rect x="1295.77" y="1337.42" width="23.57" height="18.82" fill="#a0b2f8"/><rect x="1318.75" y="1337.42" width="23.57" height="18.82" fill="#b7c3f7"/><rect x="1341.72" y="1337.42" width="23.57" height="18.82" fill="#b7c3f7"/><rect x="1364.70" y="1337.42" width="23.57" height="18.82" fill="#ecedf0"/><rect x="1387.67" y="1337.42" width="23.57" height="18.82" fill="#f1f2f0"/><rect x="1410.65" y="1337.42" width="23.57" height="18.82" fill="#dde0f3"/><rect x="1433.62" y="1337.42" width="23.57" height="18.82" fill="#d7dcf4"/><rect x="1089.00" y="1355.64" width="23.57" height="18.82" fill="#f4f5ef"/><rect x="1111.97" y="1355.64" width="23.57" height="18.82" fill="#dde0f3"/><rect x="1134.95" y="1355.64" width="23.57" height="18.82" fill="#d7dcf4"/><rect x="1157.92" y="1355.64" width="23.57" height="18.82" fill="#d7dcf4"/><rect x="1180.90" y="1355.64" width="23.57" height="18.82" fill="#f07067"/><rect x="1203.88" y="1355.64" width="23.57" height="18.82" fill="#f07067"/><rect x="1226.85" y="1355.64" width="23.57" height="18.82" fill="#f0675e"/><rect x="1249.83" y="1355.64" width="23.57" height="18.82" fill="#f06a61"/><rect x="1272.80" y="1355.64" width="23.57" height="18.82" fill="#c7cef5"/><rect x="1295.77" y="1355.64" width="23.57" height="18.82" fill="#7a9dfa"/><rect x="1318.75" y="1355.64" width="23.57" height="18.82" fill="#a0b2f8"/><rect x="1341.72" y="1355.64" width="23.57" height="18.82" fill="#ccd3f5"/><rect x="1364.70" y="1355.64" width="23.57" height="18.82" fill="#ecedf0"/><rect x="1387.67" y="1355.64" width="23.57" height="18.82" fill="#f1f2f0"/><rect x="1410.65" y="1355.64" width="23.57" height="18.82" fill="#e9eaf1"/><rect x="1433.62" y="1355.64" width="23.57" height="18.82" fill="#f9f5e9"/><rect x="1089.00" y="1373.86" width="23.57" height="18.82" fill="#a7b7f8"/><rect x="1111.97" y="1373.86" width="23.57" height="18.82" fill="#e6e8f2"/><rect x="1134.95" y="1373.86" width="23.57" height="18.82" fill="#d5d9f4"/><rect x="1157.92" y="1373.86" width="23.57" height="18.82" fill="#e3e5f2"/><rect x="1180.90" y="1373.86" width="23.57" height="18.82" fill="#f1a091"/><rect x="1203.88" y="1373.86" width="23.57" height="18.82" fill="#f0675e"/><rect x="1226.85" y="1373.86" width="23.57" height="18.82" fill="#f07067"/><rect x="1249.83" y="1373.86" width="23.57" height="18.82" fill="#f05a52"/><rect x="1272.80" y="1373.86" width="23.57" height="18.82" fill="#a0b2f8"/><rect x="1295.77" y="1373.86" width="23.57" height="18.82" fill="#d7dcf4"/><rect x="1318.75" y="1373.86" width="23.57" height="18.82" fill="#e3e5f2"/><rect x="1341.72" y="1373.86" width="23.57" height="18.82" fill="#b7c3f7"/><rect x="1364.70" y="1373.86" width="23.57" height="18.82" fill="#b0bef7"/><rect x="1387.67" y="1373.86" width="23.57" height="18.82" fill="#e9eaf1"/><rect x="1410.65" y="1373.86" width="23.57" height="18.82" fill="#f9f3e6"/><rect x="1433.62" y="1373.86" width="23.57" height="18.82" fill="#f9f3e6"/><rect x="1089.00" y="1392.08" width="23.57" height="18.82" fill="#7a9dfa"/><rect x="1111.97" y="1392.08" width="23.57" height="18.82" fill="#b0bef7"/><rect x="1134.95" y="1392.08" width="23.57" height="18.82" fill="#b0bef7"/><rect x="1157.92" y="1392.08" width="23.57" height="18.82" fill="#85a3f9"/><rect x="1180.90" y="1392.08" width="23.57" height="18.82" fill="#f19587"/><rect x="1203.88" y="1392.08" width="23.57" height="18.82" fill="#f1988a"/><rect x="1226.85" y="1392.08" width="23.57" height="18.82" fill="#f1a091"/><rect x="1249.83" y="1392.08" width="23.57" height="18.82" fill="#f0857a"/><rect x="1272.80" y="1392.08" width="23.57" height="18.82" fill="#c1caf6"/><rect x="1295.77" y="1392.08" width="23.57" height="18.82" fill="#cfd5f4"/><rect x="1318.75" y="1392.08" width="23.57" height="18.82" fill="#dde0f3"/><rect x="1341.72" y="1392.08" width="23.57" height="18.82" fill="#dde0f3"/><rect x="1364.70" y="1392.08" width="23.57" height="18.82" fill="#f8eee1"/><rect x="1387.67" y="1392.08" width="23.57" height="18.82" fill="#f4d3c4"/><rect x="1410.65" y="1392.08" width="23.57" height="18.82" fill="#f4d3c4"/><rect x="1433.62" y="1392.08" width="23.57" height="18.82" fill="#f6e2d4"/><rect x="1089.00" y="1410.30" width="23.57" height="18.82" fill="#a7b7f8"/><rect x="1111.97" y="1410.30" width="23.57" height="18.82" fill="#a7b7f8"/><rect x="1134.95" y="1410.30" width="23.57" height="18.82" fill="#98aef8"/><rect x="1157.92" y="1410.30" width="23.57" height="18.82" fill="#a7b7f8"/><rect x="1180.90" y="1410.30" width="23.57" height="18.82" fill="#f1a091"/><rect x="1203.88" y="1410.30" width="23.57" height="18.82" fill="#f08d80"/><rect x="1226.85" y="1410.30" width="23.57" height="18.82" fill="#f1988a"/><rect x="1249.83" y="1410.30" width="23.57" height="18.82" fill="#f1988a"/><rect x="1272.80" y="1410.30" width="23.57" height="18.82" fill="#c1caf6"/><rect x="1295.77" y="1410.30" width="23.57" height="18.82" fill="#cfd5f4"/><rect x="1318.75" y="1410.30" width="23.57" height="18.82" fill="#b0bef7"/><rect x="1341.72" y="1410.30" width="23.57" height="18.82" fill="#b0bef7"/><rect x="1364.70" y="1410.30" width="23.57" height="18.82" fill="#f6e2d4"/><rect x="1387.67" y="1410.30" width="23.57" height="18.82" fill="#f4d3c4"/><rect x="1410.65" y="1410.30" width="23.57" height="18.82" fill="#f5dcce"/><rect x="1433.62" y="1410.30" width="23.57" height="18.82" fill="#f4d3c4"/><rect x="1089.00" y="1428.52" width="23.57" height="18.82" fill="#aab9f7"/><rect x="1111.97" y="1428.52" width="23.57" height="18.82" fill="#aab9f7"/><rect x="1134.95" y="1428.52" width="23.57" height="18.82" fill="#a7b7f8"/><rect x="1157.92" y="1428.52" width="23.57" height="18.82" fill="#a0b2f8"/><rect x="1180.90" y="1428.52" width="23.57" height="18.82" fill="#f19587"/><rect x="1203.88" y="1428.52" width="23.57" height="18.82" fill="#f19587"/><rect x="1226.85" y="1428.52" width="23.57" height="18.82" fill="#f0857a"/><rect x="1249.83" y="1428.52" width="23.57" height="18.82" fill="#f08d80"/><rect x="1272.80" y="1428.52" width="23.57" height="18.82" fill="#aab9f7"/><rect x="1295.77" y="1428.52" width="23.57" height="18.82" fill="#aab9f7"/><rect x="1318.75" y="1428.52" width="23.57" height="18.82" fill="#c1caf6"/><rect x="1341.72" y="1428.52" width="23.57" height="18.82" fill="#cfd5f4"/><rect x="1364.70" y="1428.52" width="23.57" height="18.82" fill="#f6e2d4"/><rect x="1387.67" y="1428.52" width="23.57" height="18.82" fill="#f4d3c4"/><rect x="1410.65" y="1428.52" width="23.57" height="18.82" fill="#f6e2d4"/><rect x="1433.62" y="1428.52" width="23.57" height="18.82" fill="#f5dcce"/><rect x="1089.00" y="1446.74" width="23.57" height="18.82" fill="#aab9f7"/><rect x="1111.97" y="1446.74" width="23.57" height="18.82" fill="#b0bef7"/><rect x="1134.95" y="1446.74" width="23.57" height="18.82" fill="#b0bef7"/><rect x="1157.92" y="1446.74" width="23.57" height="18.82" fill="#a0b2f8"/><rect x="1180.90" y="1446.74" width="23.57" height="18.82" fill="#f08d80"/><rect x="1203.88" y="1446.74" width="23.57" height="18.82" fill="#f1988a"/><rect x="1226.85" y="1446.74" width="23.57" height="18.82" fill="#f1988a"/><rect x="1249.83" y="1446.74" width="23.57" height="18.82" fill="#f0857a"/><rect x="1272.80" y="1446.74" width="23.57" height="18.82" fill="#b0bef7"/><rect x="1295.77" y="1446.74" width="23.57" height="18.82" fill="#95acf9"/><rect x="1318.75" y="1446.74" width="23.57" height="18.82" fill="#b7c3f7"/><rect x="1341.72" y="1446.74" width="23.57" height="18.82" fill="#aab9f7"/><rect x="1364.70" y="1446.74" width="23.57" height="18.82" fill="#f4d3c4"/><rect x="1387.67" y="1446.74" width="23.57" height="18.82" fill="#f5d9ca"/><rect x="1410.65" y="1446.74" width="23.57" height="18.82" fill="#f5d9ca"/><rect x="1433.62" y="1446.74" width="23.57" height="18.82" fill="#f5d9ca"/><rect x="1089.00" y="1464.96" width="23.57" height="18.82" fill="#85a3f9"/><rect x="1111.97" y="1464.96" width="23.57" height="18.82" fill="#a7b7f8"/><rect x="1134.95" y="1464.96" width="23.57" height="18.82" fill="#95acf9"/><rect x="1157.92" y="1464.96" width="23.57" height="18.82" fill="#a0b2f8"/><rect x="1180.90" y="1464.96" width="23.57" height="18.82" fill="#f1a091"/><rect x="1203.88" y="1464.96" width="23.57" height="18.82" fill="#f08d80"/><rect x="1226.85" y="1464.96" width="23.57" height="18.82" fill="#f1988a"/><rect x="1249.83" y="1464.96" width="23.57" height="18.82" fill="#f1a798"/><rect x="1272.80" y="1464.96" width="23.57" height="18.82" fill="#c1caf6"/><rect x="1295.77" y="1464.96" width="23.57" height="18.82" fill="#b7c3f7"/><rect x="1318.75" y="1464.96" width="23.57" height="18.82" fill="#dde0f3"/><rect x="1341.72" y="1464.96" width="23.57" height="18.82" fill="#a7b7f8"/><rect x="1364.70" y="1464.96" width="23.57" height="18.82" fill="#f3c4b4"/><rect x="1387.67" y="1464.96" width="23.57" height="18.82" fill="#f4cdbe"/><rect x="1410.65" y="1464.96" width="23.57" height="18.82" fill="#f5d9ca"/><rect x="1433.62" y="1464.96" width="23.57" height="18.82" fill="#f3c4b4"/><rect x="1089.00" y="1483.18" width="23.57" height="18.82" fill="#6c97fa"/><rect x="1111.97" y="1483.18" width="23.57" height="18.82" fill="#85a3f9"/><rect x="1134.95" y="1483.18" width="23.57" height="18.82" fill="#a0b2f8"/><rect x="1157.92" y="1483.18" width="23.57" height="18.82" fill="#b7c3f7"/><rect x="1180.90" y="1483.18" width="23.57" height="18.82" fill="#f2b9aa"/><rect x="1203.88" y="1483.18" width="23.57" height="18.82" fill="#f0857a"/><rect x="1226.85" y="1483.18" width="23.57" height="18.82" fill="#f08d80"/><rect x="1249.83" y="1483.18" width="23.57" height="18.82" fill="#f2ab9c"/><rect x="1272.80" y="1483.18" width="23.57" height="18.82" fill="#c1caf6"/><rect x="1295.77" y="1483.18" width="23.57" height="18.82" fill="#c1caf6"/><rect x="1318.75" y="1483.18" width="23.57" height="18.82" fill="#d5d9f4"/><rect x="1341.72" y="1483.18" width="23.57" height="18.82" fill="#d7dcf4"/><rect x="1364.70" y="1483.18" width="23.57" height="18.82" fill="#f3c4b4"/><rect x="1387.67" y="1483.18" width="23.57" height="18.82" fill="#f4cdbe"/><rect x="1410.65" y="1483.18" width="23.57" height="18.82" fill="#f3bdad"/><rect x="1433.62" y="1483.18" width="23.57" height="18.82" fill="#f5d9ca"/><rect x="1089.00" y="1501.40" width="23.57" height="18.82" fill="#7a9dfa"/><rect x="1111.97" y="1501.40" width="23.57" height="18.82" fill="#85a3f9"/><rect x="1134.95" y="1501.40" width="23.57" height="18.82" fill="#82a1fa"/><rect x="1157.92" y="1501.40" width="23.57" height="18.82" fill="#7a9dfa"/><rect x="1180.90" y="1501.40" width="23.57" height="18.82" fill="#f08d80"/><rect x="1203.88" y="1501.40" width="23.57" height="18.82" fill="#f08d80"/><rect x="1226.85" y="1501.40" width="23.57" height="18.82" fill="#f19587"/><rect x="1249.83" y="1501.40" width="23.57" height="18.82" fill="#f0857a"/><rect x="1272.80" y="1501.40" width="23.57" height="18.82" fill="#d5d9f4"/><rect x="1295.77" y="1501.40" width="23.57" height="18.82" fill="#faf9ed"/><rect x="1318.75" y="1501.40" width="23.57" height="18.82" fill="#eef0f0"/><rect x="1341.72" y="1501.40" width="23.57" height="18.82" fill="#e6e8f2"/><rect x="1364.70" y="1501.40" width="23.57" height="18.82" fill="#f7e9dc"/><rect x="1387.67" y="1501.40" width="23.57" height="18.82" fill="#f5dcce"/><rect x="1410.65" y="1501.40" width="23.57" height="18.82" fill="#f7e9dc"/><rect x="1433.62" y="1501.40" width="23.57" height="18.82" fill="#f7e9dc"/><rect x="1089.00" y="1519.62" width="23.57" height="18.82" fill="#7a9dfa"/><rect x="1111.97" y="1519.62" width="23.57" height="18.82" fill="#7a9dfa"/><rect x="1134.95" y="1519.62" width="23.57" height="18.82" fill="#6c97fa"/><rect x="1157.92" y="1519.62" width="23.57" height="18.82" fill="#8da8f9"/><rect x="1180.90" y="1519.62" width="23.57" height="18.82" fill="#f08d80"/><rect x="1203.88" y="1519.62" width="23.57" height="18.82" fill="#f19587"/><rect x="1226.85" y="1519.62" width="23.57" height="18.82" fill="#f08d80"/><rect x="1249.83" y="1519.62" width="23.57" height="18.82" fill="#f08d80"/><rect x="1272.80" y="1519.62" width="23.57" height="18.82" fill="#faf8eb"/><rect x="1295.77" y="1519.62" width="23.57" height="18.82" fill="#f1f2f0"/><rect x="1318.75" y="1519.62" width="23.57" height="18.82" fill="#e3e5f2"/><rect x="1341.72" y="1519.62" width="23.57" height="18.82" fill="#e3e5f2"/><rect x="1364.70" y="1519.62" width="23.57" height="18.82" fill="#f5dcce"/><rect x="1387.67" y="1519.62" width="23.57" height="18.82" fill="#f9f3e6"/><rect x="1410.65" y="1519.62" width="23.57" height="18.82" fill="#f9f3e6"/><rect x="1433.62" y="1519.62" width="23.57" height="18.82" fill="#f5dcce"/><rect x="1089.00" y="1537.84" width="23.57" height="18.82" fill="#85a3f9"/><rect x="1111.97" y="1537.84" width="23.57" height="18.82" fill="#8da8f9"/><rect x="1134.95" y="1537.84" width="23.57" height="18.82" fill="#82a1fa"/><rect x="1157.92" y="1537.84" width="23.57" height="18.82" fill="#6294fa"/><rect x="1180.90" y="1537.84" width="23.57" height="18.82" fill="#f08d80"/><rect x="1203.88" y="1537.84" width="23.57" height="18.82" fill="#f1a091"/><rect x="1226.85" y="1537.84" width="23.57" height="18.82" fill="#f1988a"/><rect x="1249.83" y="1537.84" width="23.57" height="18.82" fill="#f1988a"/><rect x="1272.80" y="1537.84" width="23.57" height="18.82" fill="#ecedf0"/><rect x="1295.77" y="1537.84" width="23.57" height="18.82" fill="#e6e8f2"/><rect x="1318.75" y="1537.84" width="23.57" height="18.82" fill="#eef0f0"/><rect x="1341.72" y="1537.84" width="23.57" height="18.82" fill="#e3e5f2"/><rect x="1364.70" y="1537.84" width="23.57" height="18.82" fill="#f4d3c4"/><rect x="1387.67" y="1537.84" width="23.57" height="18.82" fill="#f8eee1"/><rect x="1410.65" y="1537.84" width="23.57" height="18.82" fill="#f6e2d4"/><rect x="1433.62" y="1537.84" width="23.57" height="18.82" fill="#f6e2d4"/><rect x="1089.00" y="1556.06" width="23.57" height="18.82" fill="#8da8f9"/><rect x="1111.97" y="1556.06" width="23.57" height="18.82" fill="#7a9dfa"/><rect x="1134.95" y="1556.06" width="23.57" height="18.82" fill="#7a9dfa"/><rect x="1157.92" y="1556.06" width="23.57" height="18.82" fill="#8da8f9"/><rect x="1180.90" y="1556.06" width="23.57" height="18.82" fill="#f0857a"/><rect x="1203.88" y="1556.06" width="23.57" height="18.82" fill="#f0857a"/><rect x="1226.85" y="1556.06" width="23.57" height="18.82" fill="#f08d80"/><rect x="1249.83" y="1556.06" width="23.57" height="18.82" fill="#f0746a"/><rect x="1272.80" y="1556.06" width="23.57" height="18.82" fill="#ecedf0"/><rect x="1295.77" y="1556.06" width="23.57" height="18.82" fill="#ecedf0"/><rect x="1318.75" y="1556.06" width="23.57" height="18.82" fill="#e6e8f2"/><rect x="1341.72" y="1556.06" width="23.57" height="18.82" fill="#e6e8f2"/><rect x="1364.70" y="1556.06" width="23.57" height="18.82" fill="#f8eee1"/><rect x="1387.67" y="1556.06" width="23.57" height="18.82" fill="#f9f5e9"/><rect x="1410.65" y="1556.06" width="23.57" height="18.82" fill="#f9f3e6"/><rect x="1433.62" y="1556.06" width="23.57" height="18.82" fill="#f8eee1"/><rect x="1089.00" y="1574.28" width="23.57" height="18.82" fill="#8da8f9"/><rect x="1111.97" y="1574.28" width="23.57" height="18.82" fill="#98aef8"/><rect x="1134.95" y="1574.28" width="23.57" height="18.82" fill="#7a9dfa"/><rect x="1157.92" y="1574.28" width="23.57" height="18.82" fill="#82a1fa"/><rect x="1180.90" y="1574.28" width="23.57" height="18.82" fill="#f0746a"/><rect x="1203.88" y="1574.28" width="23.57" height="18.82" fill="#f0857a"/><rect x="1226.85" y="1574.28" width="23.57" height="18.82" fill="#f07a70"/><rect x="1249.83" y="1574.28" width="23.57" height="18.82" fill="#f08d80"/><rect x="1272.80" y="1574.28" width="23.57" height="18.82" fill="#f4f5ef"/><rect x="1295.77" y="1574.28" width="23.57" height="18.82" fill="#e3e5f2"/><rect x="1318.75" y="1574.28" width="23.57" height="18.82" fill="#ecedf0"/><rect x="1341.72" y="1574.28" width="23.57" height="18.82" fill="#ecedf0"/><rect x="1364.70" y="1574.28" width="23.57" height="18.82" fill="#f8f0e4"/><rect x="1387.67" y="1574.28" width="23.57" height="18.82" fill="#faf9ed"/><rect x="1410.65" y="1574.28" width="23.57" height="18.82" fill="#faf8eb"/><rect x="1433.62" y="1574.28" width="23.57" height="18.82" fill="#f8eee1"/><rect x="1089.00" y="1592.50" width="23.57" height="18.82" fill="#95acf9"/><rect x="1111.97" y="1592.50" width="23.57" height="18.82" fill="#98aef8"/><rect x="1134.95" y="1592.50" width="23.57" height="18.82" fill="#7a9dfa"/><rect x="1157.92" y="1592.50" width="23.57" height="18.82" fill="#85a3f9"/><rect x="1180.90" y="1592.50" width="23.57" height="18.82" fill="#f08d80"/><rect x="1203.88" y="1592.50" width="23.57" height="18.82" fill="#f08d80"/><rect x="1226.85" y="1592.50" width="23.57" height="18.82" fill="#f08d80"/><rect x="1249.83" y="1592.50" width="23.57" height="18.82" fill="#f08d80"/><rect x="1272.80" y="1592.50" width="23.57" height="18.82" fill="#a0b2f8"/><rect x="1295.77" y="1592.50" width="23.57" height="18.82" fill="#f1f2f0"/><rect x="1318.75" y="1592.50" width="23.57" height="18.82" fill="#e3e5f2"/><rect x="1341.72" y="1592.50" width="23.57" height="18.82" fill="#e3e5f2"/><rect x="1364.70" y="1592.50" width="23.57" height="18.82" fill="#f8eee1"/><rect x="1387.67" y="1592.50" width="23.57" height="18.82" fill="#f5d9ca"/><rect x="1410.65" y="1592.50" width="23.57" height="18.82" fill="#f4cdbe"/><rect x="1433.62" y="1592.50" width="23.57" height="18.82" fill="#f8eee1"/><rect x="1089.00" y="1610.72" width="23.57" height="18.82" fill="#a0b2f8"/><rect x="1111.97" y="1610.72" width="23.57" height="18.82" fill="#a0b2f8"/><rect x="1134.95" y="1610.72" width="23.57" height="18.82" fill="#98aef8"/><rect x="1157.92" y="1610.72" width="23.57" height="18.82" fill="#8da8f9"/><rect x="1180.90" y="1610.72" width="23.57" height="18.82" fill="#f19587"/><rect x="1203.88" y="1610.72" width="23.57" height="18.82" fill="#f19587"/><rect x="1226.85" y="1610.72" width="23.57" height="18.82" fill="#f19587"/><rect x="1249.83" y="1610.72" width="23.57" height="18.82" fill="#f19587"/><rect x="1272.80" y="1610.72" width="23.57" height="18.82" fill="#d5d9f4"/><rect x="1295.77" y="1610.72" width="23.57" height="18.82" fill="#c1caf6"/><rect x="1318.75" y="1610.72" width="23.57" height="18.82" fill="#d7dcf4"/><rect x="1341.72" y="1610.72" width="23.57" height="18.82" fill="#d7dcf4"/><rect x="1364.70" y="1610.72" width="23.57" height="18.82" fill="#f5d9ca"/><rect x="1387.67" y="1610.72" width="23.57" height="18.82" fill="#f5d9ca"/><rect x="1410.65" y="1610.72" width="23.57" height="18.82" fill="#f5d9ca"/><rect x="1433.62" y="1610.72" width="23.57" height="18.82" fill="#f4d3c4"/><rect x="1089.00" y="1628.94" width="23.57" height="18.82" fill="#98aef8"/><rect x="1111.97" y="1628.94" width="23.57" height="18.82" fill="#98aef8"/><rect x="1134.95" y="1628.94" width="23.57" height="18.82" fill="#8da8f9"/><rect x="1157.92" y="1628.94" width="23.57" height="18.82" fill="#8da8f9"/><rect x="1180.90" y="1628.94" width="23.57" height="18.82" fill="#f19587"/><rect x="1203.88" y="1628.94" width="23.57" height="18.82" fill="#f1a798"/><rect x="1226.85" y="1628.94" width="23.57" height="18.82" fill="#f19587"/><rect x="1249.83" y="1628.94" width="23.57" height="18.82" fill="#f1988a"/><rect x="1272.80" y="1628.94" width="23.57" height="18.82" fill="#c1caf6"/><rect x="1295.77" y="1628.94" width="23.57" height="18.82" fill="#dde0f3"/><rect x="1318.75" y="1628.94" width="23.57" height="18.82" fill="#d5d9f4"/><rect x="1341.72" y="1628.94" width="23.57" height="18.82" fill="#d5d9f4"/><rect x="1364.70" y="1628.94" width="23.57" height="18.82" fill="#f7e7d9"/><rect x="1387.67" y="1628.94" width="23.57" height="18.82" fill="#f5d9ca"/><rect x="1410.65" y="1628.94" width="23.57" height="18.82" fill="#f4cdbe"/><rect x="1433.62" y="1628.94" width="23.57" height="18.82" fill="#f6e2d4"/><rect x="1089.00" y="1647.16" width="23.57" height="18.82" fill="#a0b2f8"/><rect x="1111.97" y="1647.16" width="23.57" height="18.82" fill="#82a1fa"/><rect x="1134.95" y="1647.16" width="23.57" height="18.82" fill="#82a1fa"/><rect x="1157.92" y="1647.16" width="23.57" height="18.82" fill="#82a1fa"/><rect x="1180.90" y="1647.16" width="23.57" height="18.82" fill="#f2ab9c"/><rect x="1203.88" y="1647.16" width="23.57" height="18.82" fill="#f1a091"/><rect x="1226.85" y="1647.16" width="23.57" height="18.82" fill="#f1988a"/><rect x="1249.83" y="1647.16" width="23.57" height="18.82" fill="#f19587"/><rect x="1272.80" y="1647.16" width="23.57" height="18.82" fill="#e6e8f2"/><rect x="1295.77" y="1647.16" width="23.57" height="18.82" fill="#dde0f3"/><rect x="1318.75" y="1647.16" width="23.57" height="18.82" fill="#e3e5f2"/><rect x="1341.72" y="1647.16" width="23.57" height="18.82" fill="#d7dcf4"/><rect x="1364.70" y="1647.16" width="23.57" height="18.82" fill="#f5dcce"/><rect x="1387.67" y="1647.16" width="23.57" height="18.82" fill="#f6e2d4"/><rect x="1410.65" y="1647.16" width="23.57" height="18.82" fill="#f4cdbe"/><rect x="1433.62" y="1647.16" width="23.57" height="18.82" fill="#f6e2d4"/><rect x="1089.00" y="1665.38" width="23.57" height="18.82" fill="#8da8f9"/><rect x="1111.97" y="1665.38" width="23.57" height="18.82" fill="#85a3f9"/><rect x="1134.95" y="1665.38" width="23.57" height="18.82" fill="#8da8f9"/><rect x="1157.92" y="1665.38" width="23.57" height="18.82" fill="#8da8f9"/><rect x="1180.90" y="1665.38" width="23.57" height="18.82" fill="#f19587"/><rect x="1203.88" y="1665.38" width="23.57" height="18.82" fill="#f1a091"/><rect x="1226.85" y="1665.38" width="23.57" height="18.82" fill="#f19587"/><rect x="1249.83" y="1665.38" width="23.57" height="18.82" fill="#f19587"/><rect x="1272.80" y="1665.38" width="23.57" height="18.82" fill="#d7dcf4"/><rect x="1295.77" y="1665.38" width="23.57" height="18.82" fill="#e6e8f2"/><rect x="1318.75" y="1665.38" width="23.57" height="18.82" fill="#e3e5f2"/><rect x="1341.72" y="1665.38" width="23.57" height="18.82" fill="#dde0f3"/><rect x="1364.70" y="1665.38" width="23.57" height="18.82" fill="#f7e9dc"/><rect x="1387.67" y="1665.38" width="23.57" height="18.82" fill="#f5dcce"/><rect x="1410.65" y="1665.38" width="23.57" height="18.82" fill="#f6e2d4"/><rect x="1433.62" y="1665.38" width="23.57" height="18.82" fill="#f9f5e9"/><rect x="1089.00" y="1683.60" width="23.57" height="18.82" fill="#8da8f9"/><rect x="1111.97" y="1683.60" width="23.57" height="18.82" fill="#95acf9"/><rect x="1134.95" y="1683.60" width="23.57" height="18.82" fill="#95acf9"/><rect x="1157.92" y="1683.60" width="23.57" height="18.82" fill="#a0b2f8"/><rect x="1180.90" y="1683.60" width="23.57" height="18.82" fill="#f08d80"/><rect x="1203.88" y="1683.60" width="23.57" height="18.82" fill="#f08277"/><rect x="1226.85" y="1683.60" width="23.57" height="18.82" fill="#f08277"/><rect x="1249.83" y="1683.60" width="23.57" height="18.82" fill="#f08d80"/><rect x="1272.80" y="1683.60" width="23.57" height="18.82" fill="#dde0f3"/><rect x="1295.77" y="1683.60" width="23.57" height="18.82" fill="#cfd5f4"/><rect x="1318.75" y="1683.60" width="23.57" height="18.82" fill="#dde0f3"/><rect x="1341.72" y="1683.60" width="23.57" height="18.82" fill="#d7dcf4"/><rect x="1364.70" y="1683.60" width="23.57" height="18.82" fill="#f8ecde"/><rect x="1387.67" y="1683.60" width="23.57" height="18.82" fill="#f8ecde"/><rect x="1410.65" y="1683.60" width="23.57" height="18.82" fill="#f8ecde"/><rect x="1433.62" y="1683.60" width="23.57" height="18.82" fill="#f8ecde"/><rect x="1089.00" y="1701.82" width="23.57" height="18.82" fill="#95acf9"/><rect x="1111.97" y="1701.82" width="23.57" height="18.82" fill="#95acf9"/><rect x="1134.95" y="1701.82" width="23.57" height="18.82" fill="#95acf9"/><rect x="1157.92" y="1701.82" width="23.57" height="18.82" fill="#a0b2f8"/><rect x="1180.90" y="1701.82" width="23.57" height="18.82" fill="#f08d80"/><rect x="1203.88" y="1701.82" width="23.57" height="18.82" fill="#f08277"/><rect x="1226.85" y="1701.82" width="23.57" height="18.82" fill="#f1988a"/><rect x="1249.83" y="1701.82" width="23.57" height="18.82" fill="#f08277"/><rect x="1272.80" y="1701.82" width="23.57" height="18.82" fill="#d7dcf4"/><rect x="1295.77" y="1701.82" width="23.57" height="18.82" fill="#dde0f3"/><rect x="1318.75" y="1701.82" width="23.57" height="18.82" fill="#d5d9f4"/><rect x="1341.72" y="1701.82" width="23.57" height="18.82" fill="#d7dcf4"/><rect x="1364.70" y="1701.82" width="23.57" height="18.82" fill="#f4d3c4"/><rect x="1387.67" y="1701.82" width="23.57" height="18.82" fill="#faf8eb"/><rect x="1410.65" y="1701.82" width="23.57" height="18.82" fill="#f7e9dc"/><rect x="1433.62" y="1701.82" width="23.57" height="18.82" fill="#f6e2d4"/><rect x="1089.00" y="1720.04" width="23.57" height="18.82" fill="#8da8f9"/><rect x="1111.97" y="1720.04" width="23.57" height="18.82" fill="#a0b2f8"/><rect x="1134.95" y="1720.04" width="23.57" height="18.82" fill="#8da8f9"/><rect x="1157.92" y="1720.04" width="23.57" height="18.82" fill="#8da8f9"/><rect x="1180.90" y="1720.04" width="23.57" height="18.82" fill="#f5dcce"/><rect x="1203.88" y="1720.04" width="23.57" height="18.82" fill="#f3bdad"/><rect x="1226.85" y="1720.04" width="23.57" height="18.82" fill="#f2b2a2"/><rect x="1249.83" y="1720.04" width="23.57" height="18.82" fill="#f3bdad"/><rect x="1272.80" y="1720.04" width="23.57" height="18.82" fill="#dde0f3"/><rect x="1295.77" y="1720.04" width="23.57" height="18.82" fill="#c7cef5"/><rect x="1318.75" y="1720.04" width="23.57" height="18.82" fill="#d5d9f4"/><rect x="1341.72" y="1720.04" width="23.57" height="18.82" fill="#d7dcf4"/><rect x="1364.70" y="1720.04" width="23.57" height="18.82" fill="#f2ab9c"/><rect x="1387.67" y="1720.04" width="23.57" height="18.82" fill="#f1a798"/><rect x="1410.65" y="1720.04" width="23.57" height="18.82" fill="#f2b2a2"/><rect x="1433.62" y="1720.04" width="23.57" height="18.82" fill="#f1a091"/><rect x="1089.00" y="1738.26" width="23.57" height="18.82" fill="#a0b2f8"/><rect x="1111.97" y="1738.26" width="23.57" height="18.82" fill="#98aef8"/><rect x="1134.95" y="1738.26" width="23.57" height="18.82" fill="#8da8f9"/><rect x="1157.92" y="1738.26" width="23.57" height="18.82" fill="#5890fa"/><rect x="1180.90" y="1738.26" width="23.57" height="18.82" fill="#f1988a"/><rect x="1203.88" y="1738.26" width="23.57" height="18.82" fill="#f2b2a2"/><rect x="1226.85" y="1738.26" width="23.57" height="18.82" fill="#f2ae9f"/><rect x="1249.83" y="1738.26" width="23.57" height="18.82" fill="#f2b2a2"/><rect x="1272.80" y="1738.26" width="23.57" height="18.82" fill="#dde0f3"/><rect x="1295.77" y="1738.26" width="23.57" height="18.82" fill="#e3e5f2"/><rect x="1318.75" y="1738.26" width="23.57" height="18.82" fill="#d7dcf4"/><rect x="1341.72" y="1738.26" width="23.57" height="18.82" fill="#faf9ed"/><rect x="1364.70" y="1738.26" width="23.57" height="18.82" fill="#f7e9dc"/><rect x="1387.67" y="1738.26" width="23.57" height="18.82" fill="#f4d3c4"/><rect x="1410.65" y="1738.26" width="23.57" height="18.82" fill="#f5d9ca"/><rect x="1433.62" y="1738.26" width="23.57" height="18.82" fill="#f4caba"/><rect x="1089.00" y="1756.48" width="23.57" height="18.82" fill="#8da8f9"/><rect x="1111.97" y="1756.48" width="23.57" height="18.82" fill="#c7cef5"/><rect x="1134.95" y="1756.48" width="23.57" height="18.82" fill="#7a9dfa"/><rect x="1157.92" y="1756.48" width="23.57" height="18.82" fill="#8da8f9"/><rect x="1180.90" y="1756.48" width="23.57" height="18.82" fill="#f2b2a2"/><rect x="1203.88" y="1756.48" width="23.57" height="18.82" fill="#f2ab9c"/><rect x="1226.85" y="1756.48" width="23.57" height="18.82" fill="#f1a091"/><rect x="1249.83" y="1756.48" width="23.57" height="18.82" fill="#f3c4b4"/><rect x="1272.80" y="1756.48" width="23.57" height="18.82" fill="#d7dcf4"/><rect x="1295.77" y="1756.48" width="23.57" height="18.82" fill="#c1caf6"/><rect x="1318.75" y="1756.48" width="23.57" height="18.82" fill="#dde0f3"/><rect x="1341.72" y="1756.48" width="23.57" height="18.82" fill="#f4f5ef"/><rect x="1364.70" y="1756.48" width="23.57" height="18.82" fill="#f4d3c4"/><rect x="1387.67" y="1756.48" width="23.57" height="18.82" fill="#f5d9ca"/><rect x="1410.65" y="1756.48" width="23.57" height="18.82" fill="#f4d3c4"/><rect x="1433.62" y="1756.48" width="23.57" height="18.82" fill="#f4caba"/><rect x="1089.00" y="1774.70" width="23.57" height="18.82" fill="#98aef8"/><rect x="1111.97" y="1774.70" width="23.57" height="18.82" fill="#8da8f9"/><rect x="1134.95" y="1774.70" width="23.57" height="18.82" fill="#a0b2f8"/><rect x="1157.92" y="1774.70" width="23.57" height="18.82" fill="#5890fa"/><rect x="1180.90" y="1774.70" width="23.57" height="18.82" fill="#f1a798"/><rect x="1203.88" y="1774.70" width="23.57" height="18.82" fill="#f4caba"/><rect x="1226.85" y="1774.70" width="23.57" height="18.82" fill="#f4caba"/><rect x="1249.83" y="1774.70" width="23.57" height="18.82" fill="#f1a798"/><rect x="1272.80" y="1774.70" width="23.57" height="18.82" fill="#e3e5f2"/><rect x="1295.77" y="1774.70" width="23.57" height="18.82" fill="#e9eaf1"/><rect x="1318.75" y="1774.70" width="23.57" height="18.82" fill="#e6e8f2"/><rect x="1341.72" y="1774.70" width="23.57" height="18.82" fill="#e6e8f2"/><rect x="1364.70" y="1774.70" width="23.57" height="18.82" fill="#f4caba"/><rect x="1387.67" y="1774.70" width="23.57" height="18.82" fill="#f5dcce"/><rect x="1410.65" y="1774.70" width="23.57" height="18.82" fill="#f4caba"/><rect x="1433.62" y="1774.70" width="23.57" height="18.82" fill="#f4d3c4"/><rect x="1089.00" y="1792.92" width="23.57" height="18.82" fill="#7a9dfa"/><rect x="1111.97" y="1792.92" width="23.57" height="18.82" fill="#82a1fa"/><rect x="1134.95" y="1792.92" width="23.57" height="18.82" fill="#82a1fa"/><rect x="1157.92" y="1792.92" width="23.57" height="18.82" fill="#82a1fa"/><rect x="1180.90" y="1792.92" width="23.57" height="18.82" fill="#f3bdad"/><rect x="1203.88" y="1792.92" width="23.57" height="18.82" fill="#f4caba"/><rect x="1226.85" y="1792.92" width="23.57" height="18.82" fill="#f3bdad"/><rect x="1249.83" y="1792.92" width="23.57" height="18.82" fill="#f3bdad"/><rect x="1272.80" y="1792.92" width="23.57" height="18.82" fill="#e3e5f2"/><rect x="1295.77" y="1792.92" width="23.57" height="18.82" fill="#f1f2f0"/><rect x="1318.75" y="1792.92" width="23.57" height="18.82" fill="#ecedf0"/><rect x="1341.72" y="1792.92" width="23.57" height="18.82" fill="#e3e5f2"/><rect x="1364.70" y="1792.92" width="23.57" height="18.82" fill="#f4cdbe"/><rect x="1387.67" y="1792.92" width="23.57" height="18.82" fill="#f4cdbe"/><rect x="1410.65" y="1792.92" width="23.57" height="18.82" fill="#f4cdbe"/><rect x="1433.62" y="1792.92" width="23.57" height="18.82" fill="#f4cdbe"/><rect x="1089.00" y="1811.14" width="23.57" height="18.82" fill="#85a3f9"/><rect x="1111.97" y="1811.14" width="23.57" height="18.82" fill="#6c97fa"/><rect x="1134.95" y="1811.14" width="23.57" height="18.82" fill="#6c97fa"/><rect x="1157.92" y="1811.14" width="23.57" height="18.82" fill="#7a9dfa"/><rect x="1180.90" y="1811.14" width="23.57" height="18.82" fill="#f3c4b4"/><rect x="1203.88" y="1811.14" width="23.57" height="18.82" fill="#f5dcce"/><rect x="1226.85" y="1811.14" width="23.57" height="18.82" fill="#f4caba"/><rect x="1249.83" y="1811.14" width="23.57" height="18.82" fill="#f5d9ca"/><rect x="1272.80" y="1811.14" width="23.57" height="18.82" fill="#faf9ed"/><rect x="1295.77" y="1811.14" width="23.57" height="18.82" fill="#e9eaf1"/><rect x="1318.75" y="1811.14" width="23.57" height="18.82" fill="#f1f2f0"/><rect x="1341.72" y="1811.14" width="23.57" height="18.82" fill="#eef0f0"/><rect x="1364.70" y="1811.14" width="23.57" height="18.82" fill="#f3bdad"/><rect x="1387.67" y="1811.14" width="23.57" height="18.82" fill="#f4cdbe"/><rect x="1410.65" y="1811.14" width="23.57" height="18.82" fill="#f4cdbe"/><rect x="1433.62" y="1811.14" width="23.57" height="18.82" fill="#f4d3c4"/><rect x="1089.00" y="1829.36" width="23.57" height="18.82" fill="#7099fa"/><rect x="1111.97" y="1829.36" width="23.57" height="18.82" fill="#85a3f9"/><rect x="1134.95" y="1829.36" width="23.57" height="18.82" fill="#7099fa"/><rect x="1157.92" y="1829.36" width="23.57" height="18.82" fill="#85a3f9"/><rect x="1180.90" y="1829.36" width="23.57" height="18.82" fill="#f2ab9c"/><rect x="1203.88" y="1829.36" width="23.57" height="18.82" fill="#f3c4b4"/><rect x="1226.85" y="1829.36" width="23.57" height="18.82" fill="#f3c4b4"/><rect x="1249.83" y="1829.36" width="23.57" height="18.82" fill="#f2ab9c"/><rect x="1272.80" y="1829.36" width="23.57" height="18.82" fill="#f4f5ef"/><rect x="1295.77" y="1829.36" width="23.57" height="18.82" fill="#e9eaf1"/><rect x="1318.75" y="1829.36" width="23.57" height="18.82" fill="#faf9ed"/><rect x="1341.72" y="1829.36" width="23.57" height="18.82" fill="#ecedf0"/><rect x="1364.70" y="1829.36" width="23.57" height="18.82" fill="#f7e9dc"/><rect x="1387.67" y="1829.36" width="23.57" height="18.82" fill="#f4cdbe"/><rect x="1410.65" y="1829.36" width="23.57" height="18.82" fill="#f4caba"/><rect x="1433.62" y="1829.36" width="23.57" height="18.82" fill="#f5dcce"/><rect x="1089.00" y="1847.58" width="23.57" height="18.82" fill="#7099fa"/><rect x="1111.97" y="1847.58" width="23.57" height="18.82" fill="#82a1fa"/><rect x="1134.95" y="1847.58" width="23.57" height="18.82" fill="#85a3f9"/><rect x="1157.92" y="1847.58" width="23.57" height="18.82" fill="#6c97fa"/><rect x="1180.90" y="1847.58" width="23.57" height="18.82" fill="#f3bdad"/><rect x="1203.88" y="1847.58" width="23.57" height="18.82" fill="#f1a798"/><rect x="1226.85" y="1847.58" width="23.57" height="18.82" fill="#f1a798"/><rect x="1249.83" y="1847.58" width="23.57" height="18.82" fill="#f1a798"/><rect x="1272.80" y="1847.58" width="23.57" height="18.82" fill="#f4f5ef"/><rect x="1295.77" y="1847.58" width="23.57" height="18.82" fill="#faf9ed"/><rect x="1318.75" y="1847.58" width="23.57" height="18.82" fill="#faf9ed"/><rect x="1341.72" y="1847.58" width="23.57" height="18.82" fill="#eef0f0"/><rect x="1364.70" y="1847.58" width="23.57" height="18.82" fill="#f6e2d4"/><rect x="1387.67" y="1847.58" width="23.57" height="18.82" fill="#f4d3c4"/><rect x="1410.65" y="1847.58" width="23.57" height="18.82" fill="#f4d3c4"/><rect x="1433.62" y="1847.58" width="23.57" height="18.82" fill="#f3c4b4"/><rect x="1089.00" y="1865.80" width="23.57" height="18.82" fill="#5890fa"/><rect x="1111.97" y="1865.80" width="23.57" height="18.82" fill="#7a9dfa"/><rect x="1134.95" y="1865.80" width="23.57" height="18.82" fill="#82a1fa"/><rect x="1157.92" y="1865.80" width="23.57" height="18.82" fill="#8da8f9"/><rect x="1180.90" y="1865.80" width="23.57" height="18.82" fill="#f2b9aa"/><rect x="1203.88" y="1865.80" width="23.57" height="18.82" fill="#f3c4b4"/><rect x="1226.85" y="1865.80" width="23.57" height="18.82" fill="#f3c4b4"/><rect x="1249.83" y="1865.80" width="23.57" height="18.82" fill="#f1a091"/><rect x="1272.80" y="1865.80" width="23.57" height="18.82" fill="#f9f5e9"/><rect x="1295.77" y="1865.80" width="23.57" height="18.82" fill="#f8f0e4"/><rect x="1318.75" y="1865.80" width="23.57" height="18.82" fill="#faf8eb"/><rect x="1341.72" y="1865.80" width="23.57" height="18.82" fill="#fafaee"/><rect x="1364.70" y="1865.80" width="23.57" height="18.82" fill="#f8eee1"/><rect x="1387.67" y="1865.80" width="23.57" height="18.82" fill="#f8ecde"/><rect x="1410.65" y="1865.80" width="23.57" height="18.82" fill="#f1a798"/><rect x="1433.62" y="1865.80" width="23.57" height="18.82" fill="#f6e2d4"/><rect x="1089.00" y="1884.02" width="23.57" height="18.82" fill="#7099fa"/><rect x="1111.97" y="1884.02" width="23.57" height="18.82" fill="#a0b2f8"/><rect x="1134.95" y="1884.02" width="23.57" height="18.82" fill="#5890fa"/><rect x="1157.92" y="1884.02" width="23.57" height="18.82" fill="#5890fa"/><rect x="1180.90" y="1884.02" width="23.57" height="18.82" fill="#fafaee"/><rect x="1203.88" y="1884.02" width="23.57" height="18.82" fill="#f6e2d4"/><rect x="1226.85" y="1884.02" width="23.57" height="18.82" fill="#f5d9ca"/><rect x="1249.83" y="1884.02" width="23.57" height="18.82" fill="#f7e7d9"/><rect x="1272.80" y="1884.02" width="23.57" height="18.82" fill="#f5d9ca"/><rect x="1295.77" y="1884.02" width="23.57" height="18.82" fill="#faf8eb"/><rect x="1318.75" y="1884.02" width="23.57" height="18.82" fill="#f5d9ca"/><rect x="1341.72" y="1884.02" width="23.57" height="18.82" fill="#f7e9dc"/><rect x="1364.70" y="1884.02" width="23.57" height="18.82" fill="#f1a091"/><rect x="1387.67" y="1884.02" width="23.57" height="18.82" fill="#f2ab9c"/><rect x="1410.65" y="1884.02" width="23.57" height="18.82" fill="#f2b9aa"/><rect x="1433.62" y="1884.02" width="23.57" height="18.82" fill="#f4caba"/><rect x="1089.00" y="1902.24" width="23.57" height="18.82" fill="#7099fa"/><rect x="1111.97" y="1902.24" width="23.57" height="18.82" fill="#7a9dfa"/><rect x="1134.95" y="1902.24" width="23.57" height="18.82" fill="#6c97fa"/><rect x="1157.92" y="1902.24" width="23.57" height="18.82" fill="#7099fa"/><rect x="1180.90" y="1902.24" width="23.57" height="18.82" fill="#f7e7d9"/><rect x="1203.88" y="1902.24" width="23.57" height="18.82" fill="#f6e2d4"/><rect x="1226.85" y="1902.24" width="23.57" height="18.82" fill="#f5d9ca"/><rect x="1249.83" y="1902.24" width="23.57" height="18.82" fill="#f8eee1"/><rect x="1272.80" y="1902.24" width="23.57" height="18.82" fill="#f5d9ca"/><rect x="1295.77" y="1902.24" width="23.57" height="18.82" fill="#f8ecde"/><rect x="1318.75" y="1902.24" width="23.57" height="18.82" fill="#f6e2d4"/><rect x="1341.72" y="1902.24" width="23.57" height="18.82" fill="#f7e7d9"/><rect x="1364.70" y="1902.24" width="23.57" height="18.82" fill="#f2b9aa"/><rect x="1387.67" y="1902.24" width="23.57" height="18.82" fill="#f2b9aa"/><rect x="1410.65" y="1902.24" width="23.57" height="18.82" fill="#f3bdad"/><rect x="1433.62" y="1902.24" width="23.57" height="18.82" fill="#f4cdbe"/><rect x="1089.00" y="1920.46" width="23.57" height="18.82" fill="#b7c3f7"/><rect x="1111.97" y="1920.46" width="23.57" height="18.82" fill="#a0b2f8"/><rect x="1134.95" y="1920.46" width="23.57" height="18.82" fill="#a0b2f8"/><rect x="1157.92" y="1920.46" width="23.57" height="18.82" fill="#a0b2f8"/><rect x="1180.90" y="1920.46" width="23.57" height="18.82" fill="#b7c3f7"/><rect x="1203.88" y="1920.46" width="23.57" height="18.82" fill="#c1caf6"/><rect x="1226.85" y="1920.46" width="23.57" height="18.82" fill="#aab9f7"/><rect x="1249.83" y="1920.46" width="23.57" height="18.82" fill="#a7b7f8"/><rect x="1272.80" y="1920.46" width="23.57" height="18.82" fill="#f1a091"/><rect x="1295.77" y="1920.46" width="23.57" height="18.82" fill="#f1a091"/><rect x="1318.75" y="1920.46" width="23.57" height="18.82" fill="#f1a798"/><rect x="1341.72" y="1920.46" width="23.57" height="18.82" fill="#f1988a"/><rect x="1364.70" y="1920.46" width="23.57" height="18.82" fill="#f2b2a2"/><rect x="1387.67" y="1920.46" width="23.57" height="18.82" fill="#f2b2a2"/><rect x="1410.65" y="1920.46" width="23.57" height="18.82" fill="#f1a798"/><rect x="1433.62" y="1920.46" width="23.57" height="18.82" fill="#f2b2a2"/><rect x="1089.00" y="1938.68" width="23.57" height="18.82" fill="#8da8f9"/><rect x="1111.97" y="1938.68" width="23.57" height="18.82" fill="#a7b7f8"/><rect x="1134.95" y="1938.68" width="23.57" height="18.82" fill="#85a3f9"/><rect x="1157.92" y="1938.68" width="23.57" height="18.82" fill="#7099fa"/><rect x="1180.90" y="1938.68" width="23.57" height="18.82" fill="#e3e5f2"/><rect x="1203.88" y="1938.68" width="23.57" height="18.82" fill="#faf9ed"/><rect x="1226.85" y="1938.68" width="23.57" height="18.82" fill="#e3e5f2"/><rect x="1249.83" y="1938.68" width="23.57" height="18.82" fill="#dde0f3"/><rect x="1272.80" y="1938.68" width="23.57" height="18.82" fill="#f1a798"/><rect x="1295.77" y="1938.68" width="23.57" height="18.82" fill="#f5d9ca"/><rect x="1318.75" y="1938.68" width="23.57" height="18.82" fill="#f19587"/><rect x="1341.72" y="1938.68" width="23.57" height="18.82" fill="#f3bdad"/><rect x="1364.70" y="1938.68" width="23.57" height="18.82" fill="#f3bdad"/><rect x="1387.67" y="1938.68" width="23.57" height="18.82" fill="#f3bdad"/><rect x="1410.65" y="1938.68" width="23.57" height="18.82" fill="#f1988a"/><rect x="1433.62" y="1938.68" width="23.57" height="18.82" fill="#f4cdbe"/></g>
<rect x="1089.0" y="317.1" width="367.6" height="1639.8" fill="none" stroke="#111" stroke-width="2"/>
<rect x="1467.8" y="317.10" width="44.2" height="18.52" fill="#fdfdf0"/><rect x="1467.8" y="335.32" width="44.2" height="1621.88" fill="#f44a4f"/><rect x="1467.8" y="317.1" width="44.2" height="1639.8" fill="none" stroke="#111" stroke-width="2"/>
<rect x="1522.9" y="317.10" width="43.9" height="36.74" fill="#fdfdf0"/><rect x="1522.9" y="353.54" width="43.9" height="91.40" fill="#f44a4f"/><rect x="1522.9" y="444.64" width="43.9" height="18.52" fill="#fdfdf0"/><rect x="1522.9" y="462.86" width="43.9" height="91.40" fill="#f44a4f"/><rect x="1522.9" y="553.96" width="43.9" height="127.84" fill="#fdfdf0"/><rect x="1522.9" y="681.50" width="43.9" height="18.52" fill="#f44a4f"/><rect x="1522.9" y="699.72" width="43.9" height="36.74" fill="#fdfdf0"/><rect x="1522.9" y="736.16" width="43.9" height="18.52" fill="#f44a4f"/><rect x="1522.9" y="754.38" width="43.9" height="18.52" fill="#fdfdf0"/><rect x="1522.9" y="772.60" width="43.9" height="91.40" fill="#f44a4f"/><rect x="1522.9" y="863.70" width="43.9" height="218.94" fill="#fdfdf0"/><rect x="1522.9" y="1082.34" width="43.9" height="18.52" fill="#f44a4f"/><rect x="1522.9" y="1100.56" width="43.9" height="18.52" fill="#fdfdf0"/><rect x="1522.9" y="1118.78" width="43.9" height="36.74" fill="#f44a4f"/><rect x="1522.9" y="1155.22" width="43.9" height="91.40" fill="#fdfdf0"/><rect x="1522.9" y="1246.32" width="43.9" height="73.18" fill="#f44a4f"/><rect x="1522.9" y="1319.20" width="43.9" height="73.18" fill="#fdfdf0"/><rect x="1522.9" y="1392.08" width="43.9" height="109.62" fill="#f44a4f"/><rect x="1522.9" y="1501.40" width="43.9" height="91.40" fill="#fdfdf0"/><rect x="1522.9" y="1592.50" width="43.9" height="73.18" fill="#f44a4f"/><rect x="1522.9" y="1665.38" width="43.9" height="18.52" fill="#fdfdf0"/><rect x="1522.9" y="1683.60" width="43.9" height="18.52" fill="#f44a4f"/><rect x="1522.9" y="1701.82" width="43.9" height="18.52" fill="#fdfdf0"/><rect x="1522.9" y="1720.04" width="43.9" height="18.52" fill="#f44a4f"/><rect x="1522.9" y="1738.26" width="43.9" height="18.52" fill="#fdfdf0"/><rect x="1522.9" y="1756.48" width="43.9" height="54.96" fill="#f44a4f"/><rect x="1522.9" y="1811.14" width="43.9" height="146.06" fill="#fdfdf0"/><rect x="1522.9" y="317.1" width="43.9" height="1639.8" fill="none" stroke="#111" stroke-width="2"/>
<rect x="1578.0" y="317.10" width="44.0" height="1640.10" fill="#4a8cfb"/><rect x="1578.0" y="317.1" width="44.0" height="1639.8" fill="none" stroke="#111" stroke-width="2"/>
<g font-size="21" fill="#000" stroke="#000" stroke-width="0.4" transform="translate(1081 0) scale(0.976 1) translate(-1081 0)"><text x="1081" y="335.22" text-anchor="end">GNA12</text><text x="1081" y="353.44" text-anchor="end">FOS</text><text x="1081" y="371.66" text-anchor="end">ADORA1</text><text x="1081" y="389.88" text-anchor="end">ADRA2A</text><text x="1081" y="408.10" text-anchor="end">KCNQ5</text><text x="1081" y="426.32" text-anchor="end">AC068580.4</text><text x="1081" y="444.54" text-anchor="end">NPY1R</text><text x="1081" y="462.76" text-anchor="end">DDX10</text><text x="1081" y="480.98" text-anchor="end">KCNK5</text><text x="1081" y="499.20" text-anchor="end">RAB37</text><text x="1081" y="517.42" text-anchor="end">SLC47A1</text><text x="1081" y="535.64" text-anchor="end">CXCL12</text><text x="1081" y="553.86" text-anchor="end">IFITM10</text><text x="1081" y="572.08" text-anchor="end">AMZ1</text><text x="1081" y="590.30" text-anchor="end">CFAP99</text><text x="1081" y="608.52" text-anchor="end">CACNA1H</text><text x="1081" y="626.74" text-anchor="end">HSPB8</text><text x="1081" y="644.96" text-anchor="end">ITPK1</text><text x="1081" y="663.18" text-anchor="end">MICB</text><text x="1081" y="681.40" text-anchor="end">ZFPM2</text><text x="1081" y="699.62" text-anchor="end">LINC01588</text><text x="1081" y="717.84" text-anchor="end">RNF223</text><text x="1081" y="736.06" text-anchor="end">MAPT</text><text x="1081" y="754.28" text-anchor="end">C1orf226</text><text x="1081" y="772.50" text-anchor="end">PRKCE</text><text x="1081" y="790.72" text-anchor="end">B4GALT1</text><text x="1081" y="808.94" text-anchor="end">SEC14L2</text><text x="1081" y="827.16" text-anchor="end">GREB1</text><text x="1081" y="845.38" text-anchor="end">ASB13</text><text x="1081" y="863.60" text-anchor="end">SGK3</text><text x="1081" y="881.82" text-anchor="end">CASP7</text><text x="1081" y="900.04" text-anchor="end">CADM1</text><text x="1081" y="918.26" text-anchor="end">KLK10</text><text x="1081" y="936.48" text-anchor="end">GRIK3</text><text x="1081" y="954.70" text-anchor="end">RIMS4</text><text x="1081" y="972.92" text-anchor="end">ELOVL2</text><text x="1081" y="991.14" text-anchor="end">RBM24</text><text x="1081" y="1009.36" text-anchor="end">MAN1C1</text><text x="1081" y="1027.58" text-anchor="end">TFF1</text><text x="1081" y="1045.80" text-anchor="end">ISYNA1</text><text x="1081" y="1064.02" text-anchor="end">PLEKHS1</text><text x="1081" y="1082.24" text-anchor="end">DOK7</text><text x="1081" y="1100.46" text-anchor="end">OSGIN1</text><text x="1081" y="1118.68" text-anchor="end">C5AR2</text><text x="1081" y="1136.90" text-anchor="end">RAPGEFL1</text><text x="1081" y="1155.12" text-anchor="end">ADAMTSL5</text><text x="1081" y="1173.34" text-anchor="end">PTGES</text><text x="1081" y="1191.56" text-anchor="end">SLC9A3R1</text><text x="1081" y="1209.78" text-anchor="end">SYT12</text><text x="1081" y="1228.00" text-anchor="end">SULF2</text><text x="1081" y="1246.22" text-anchor="end">A4GALT</text><text x="1081" y="1264.44" text-anchor="end">CACNA1I</text><text x="1081" y="1282.66" text-anchor="end">OLFM1</text><text x="1081" y="1300.88" text-anchor="end">STC1</text><text x="1081" y="1319.10" text-anchor="end">FLT4</text><text x="1081" y="1337.32" text-anchor="end">SFXN2</text><text x="1081" y="1355.54" text-anchor="end">ACOX2</text><text x="1081" y="1373.76" text-anchor="end">SSTR2</text><text x="1081" y="1391.98" text-anchor="end">KIAA1211</text><text x="1081" y="1410.20" text-anchor="end">NOS1AP</text><text x="1081" y="1428.42" text-anchor="end">RUNX1</text><text x="1081" y="1446.64" text-anchor="end">COL27A1</text><text x="1081" y="1464.86" text-anchor="end">LINC01016</text><text x="1081" y="1483.08" text-anchor="end">PDLIM3</text><text x="1081" y="1501.30" text-anchor="end">AC068580.3</text><text x="1081" y="1519.52" text-anchor="end">PPP2R2C</text><text x="1081" y="1537.74" text-anchor="end">TRIM8</text><text x="1081" y="1555.96" text-anchor="end">CMTM7</text><text x="1081" y="1574.18" text-anchor="end">FKBP4</text><text x="1081" y="1592.40" text-anchor="end">TMEM229B</text><text x="1081" y="1610.62" text-anchor="end">AC084880.1</text><text x="1081" y="1628.84" text-anchor="end">SNX24</text><text x="1081" y="1647.06" text-anchor="end">RBBP8</text><text x="1081" y="1665.28" text-anchor="end">RET</text><text x="1081" y="1683.50" text-anchor="end">MYB</text><text x="1081" y="1701.72" text-anchor="end">RASGRP1</text><text x="1081" y="1719.94" text-anchor="end">FHL2</text><text x="1081" y="1738.16" text-anchor="end">CITED1</text><text x="1081" y="1756.38" text-anchor="end">CCDC110</text><text x="1081" y="1774.60" text-anchor="end">NEIL2</text><text x="1081" y="1792.82" text-anchor="end">HEY2</text><text x="1081" y="1811.04" text-anchor="end">CLIC6</text><text x="1081" y="1829.26" text-anchor="end">KCTD6</text><text x="1081" y="1847.48" text-anchor="end">MBOAT1</text><text x="1081" y="1865.70" text-anchor="end">ATP10A</text><text x="1081" y="1883.92" text-anchor="end">MAML3</text><text x="1081" y="1902.14" text-anchor="end">MAFF</text><text x="1081" y="1920.36" text-anchor="end">ABCC12</text><text x="1081" y="1938.58" text-anchor="end">HSPA6</text><text x="1081" y="1956.80" text-anchor="end">AC091230.1</text></g>
<path d="M948.8 362.7L955.6 362.7M948.8 380.9L955.6 380.9M948.8 362.7L948.8 380.9M948.8 399.1L955.6 399.1M948.8 417.3L955.6 417.3M948.8 399.1L948.8 417.3M946.8 371.8L948.8 371.8M946.8 408.2L948.8 408.2M946.8 371.8L946.8 408.2M950.2 435.5L955.6 435.5M950.2 453.8L955.6 453.8M950.2 435.5L950.2 453.8M951.2 472.0L955.6 472.0M951.2 490.2L955.6 490.2M951.2 472.0L951.2 490.2M949.5 444.6L950.2 444.6M949.5 481.1L951.2 481.1M949.5 444.6L949.5 481.1M952.5 526.6L955.6 526.6M952.5 544.9L955.6 544.9M952.5 526.6L952.5 544.9M951.5 508.4L955.6 508.4M951.5 535.7L952.5 535.7M951.5 508.4L951.5 535.7M948.8 522.1L951.5 522.1M948.8 563.1L955.6 563.1M948.8 522.1L948.8 563.1M947.3 462.9L949.5 462.9M947.3 542.6L948.8 542.6M947.3 462.9L947.3 542.6M945.3 390.0L946.8 390.0M945.3 502.7L947.3 502.7M945.3 390.0L945.3 502.7M949.8 599.5L955.6 599.5M949.8 617.7L955.6 617.7M949.8 599.5L949.8 617.7M950.2 636.0L955.6 636.0M950.2 654.2L955.6 654.2M950.2 636.0L950.2 654.2M948.0 608.6L949.8 608.6M948.0 645.1L950.2 645.1M948.0 608.6L948.0 645.1M946.8 626.8L948.0 626.8M946.8 672.4L955.6 672.4M946.8 626.8L946.8 672.4M945.3 581.3L955.6 581.3M945.3 649.6L946.8 649.6M945.3 581.3L945.3 649.6M950.2 690.6L955.6 690.6M950.2 708.8L955.6 708.8M950.2 690.6L950.2 708.8M951.7 727.0L955.6 727.0M951.7 745.3L955.6 745.3M951.7 727.0L951.7 745.3M947.5 699.7L950.2 699.7M947.5 736.2L951.7 736.2M947.5 699.7L947.5 736.2M951.7 763.5L955.6 763.5M951.7 781.7L955.6 781.7M951.7 763.5L951.7 781.7M952.2 799.9L955.6 799.9M952.2 818.1L955.6 818.1M952.2 799.9L952.2 818.1M948.5 772.6L951.7 772.6M948.5 809.0L952.2 809.0M948.5 772.6L948.5 809.0M946.0 717.9L947.5 717.9M946.0 790.8L948.5 790.8M946.0 717.9L946.0 790.8M949.8 836.4L955.6 836.4M949.8 854.6L955.6 854.6M949.8 836.4L949.8 854.6M951.7 872.8L955.6 872.8M951.7 891.0L955.6 891.0M951.7 872.8L951.7 891.0M948.0 845.5L949.8 845.5M948.0 881.9L951.7 881.9M948.0 845.5L948.0 881.9M945.3 863.7L948.0 863.7M945.3 909.2L955.6 909.2M945.3 863.7L945.3 909.2M944.5 754.4L946.0 754.4M944.5 886.5L945.3 886.5M944.5 754.4L944.5 886.5M943.8 615.5L945.3 615.5M943.8 820.4L944.5 820.4M943.8 615.5L943.8 820.4M940.3 446.3L945.3 446.3M940.3 717.9L943.8 717.9M940.3 446.3L940.3 717.9M933.8 344.4L955.6 344.4M933.8 582.1L940.3 582.1M933.8 344.4L933.8 582.1M950.0 927.5L955.6 927.5M950.0 945.7L955.6 945.7M950.0 927.5L950.0 945.7M949.0 982.1L955.6 982.1M949.0 1000.4L955.6 1000.4M949.0 982.1L949.0 1000.4M948.0 963.9L955.6 963.9M948.0 991.2L949.0 991.2M948.0 963.9L948.0 991.2M946.8 936.6L950.0 936.6M946.8 977.6L948.0 977.6M946.8 936.6L946.8 977.6M946.8 1018.6L955.6 1018.6M946.8 1036.8L955.6 1036.8M946.8 1018.6L946.8 1036.8M941.8 957.1L946.8 957.1M941.8 1027.7L946.8 1027.7M941.8 957.1L941.8 1027.7M952.3 1127.9L955.6 1127.9M952.3 1146.1L955.6 1146.1M952.3 1127.9L952.3 1146.1M951.1 1109.7L955.6 1109.7M951.1 1137.0L952.3 1137.0M951.1 1109.7L951.1 1137.0M951.6 1164.3L955.6 1164.3M951.6 1182.5L955.6 1182.5M951.6 1164.3L951.6 1182.5M950.3 1123.3L951.1 1123.3M950.3 1173.4L951.6 1173.4M950.3 1123.3L950.3 1173.4M949.2 1091.4L955.6 1091.4M949.2 1148.4L950.3 1148.4M949.2 1091.4L949.2 1148.4M947.3 1073.2L955.6 1073.2M947.3 1119.9L949.2 1119.9M947.3 1073.2L947.3 1119.9M945.5 1055.0L955.6 1055.0M945.5 1096.6L947.3 1096.6M945.5 1055.0L945.5 1096.6M949.9 1200.8L955.6 1200.8M949.9 1219.0L955.6 1219.0M949.9 1200.8L949.9 1219.0M947.8 1209.9L949.9 1209.9M947.8 1237.2L955.6 1237.2M947.8 1209.9L947.8 1237.2M952.3 1273.7L955.6 1273.7M952.3 1291.9L955.6 1291.9M952.3 1273.7L952.3 1291.9M952.2 1310.1L955.6 1310.1M952.2 1328.3L955.6 1328.3M952.2 1310.1L952.2 1328.3M950.0 1282.8L952.3 1282.8M950.0 1319.2L952.2 1319.2M950.0 1282.8L950.0 1319.2M949.2 1255.4L955.6 1255.4M949.2 1301.0L950.0 1301.0M949.2 1255.4L949.2 1301.0M947.6 1223.5L947.8 1223.5M947.6 1278.2L949.2 1278.2M947.6 1223.5L947.6 1278.2M947.0 1346.5L955.6 1346.5M947.0 1364.8L955.6 1364.8M947.0 1346.5L947.0 1364.8M946.0 1250.9L947.6 1250.9M946.0 1355.6L947.0 1355.6M946.0 1250.9L946.0 1355.6M944.4 1075.8L945.5 1075.8M944.4 1303.3L946.0 1303.3M944.4 1075.8L944.4 1303.3M938.6 1189.5L944.4 1189.5M938.6 1383.0L955.6 1383.0M938.6 1189.5L938.6 1383.0M937.3 992.4L941.8 992.4M937.3 1286.2L938.6 1286.2M937.3 992.4L937.3 1286.2M928.9 463.3L933.8 463.3M928.9 1139.3L937.3 1139.3M928.9 463.3L928.9 1139.3M908.1 326.2L955.6 326.2M908.1 801.3L928.9 801.3M908.1 326.2L908.1 801.3M952.3 1437.6L955.6 1437.6M952.3 1455.8L955.6 1455.8M952.3 1437.6L952.3 1455.8M950.3 1419.4L955.6 1419.4M950.3 1446.7L952.3 1446.7M950.3 1419.4L950.3 1446.7M948.5 1433.1L950.3 1433.1M948.5 1474.1L955.6 1474.1M948.5 1433.1L948.5 1474.1M946.5 1401.2L955.6 1401.2M946.5 1453.6L948.5 1453.6M946.5 1401.2L946.5 1453.6M945.9 1427.4L946.5 1427.4M945.9 1492.3L955.6 1492.3M945.9 1427.4L945.9 1492.3M950.0 1528.7L955.6 1528.7M950.0 1546.9L955.6 1546.9M950.0 1528.7L950.0 1546.9M948.7 1510.5L955.6 1510.5M948.7 1537.8L950.0 1537.8M948.7 1510.5L948.7 1537.8M952.3 1565.2L955.6 1565.2M952.3 1583.4L955.6 1583.4M952.3 1565.2L952.3 1583.4M948.5 1524.2L948.7 1524.2M948.5 1574.3L952.3 1574.3M948.5 1524.2L948.5 1574.3M951.1 1619.8L955.6 1619.8M951.1 1638.0L955.6 1638.0M951.1 1619.8L951.1 1638.0M951.1 1656.3L955.6 1656.3M951.1 1674.5L955.6 1674.5M951.1 1656.3L951.1 1674.5M949.4 1628.9L951.1 1628.9M949.4 1665.4L951.1 1665.4M949.4 1628.9L949.4 1665.4M952.2 1692.7L955.6 1692.7M952.2 1710.9L955.6 1710.9M952.2 1692.7L952.2 1710.9M947.9 1647.2L949.4 1647.2M947.9 1701.8L952.2 1701.8M947.9 1647.2L947.9 1701.8M944.4 1601.6L955.6 1601.6M944.4 1674.5L947.9 1674.5M944.4 1601.6L944.4 1674.5M944.4 1549.2L948.5 1549.2M944.4 1638.0L944.4 1638.0M944.4 1549.2L944.4 1638.0M938.6 1459.8L945.9 1459.8M938.6 1593.6L944.4 1593.6M938.6 1459.8L938.6 1593.6M947.4 1747.4L955.6 1747.4M947.4 1765.6L955.6 1765.6M947.4 1747.4L947.4 1765.6M952.3 1802.0L955.6 1802.0M952.3 1820.2L955.6 1820.2M952.3 1802.0L952.3 1820.2M952.1 1838.5L955.6 1838.5M952.1 1856.7L955.6 1856.7M952.1 1838.5L952.1 1856.7M949.6 1811.1L952.3 1811.1M949.6 1847.6L952.1 1847.6M949.6 1811.1L949.6 1847.6M948.8 1783.8L955.6 1783.8M948.8 1829.4L949.6 1829.4M948.8 1783.8L948.8 1829.4M945.0 1756.5L947.4 1756.5M945.0 1806.6L948.8 1806.6M945.0 1756.5L945.0 1806.6M941.0 1729.2L955.6 1729.2M941.0 1781.5L945.0 1781.5M941.0 1729.2L941.0 1781.5M935.4 1526.7L938.6 1526.7M935.4 1755.3L941.0 1755.3M935.4 1526.7L935.4 1755.3M946.5 1893.1L955.6 1893.1M946.5 1911.3L955.6 1911.3M946.5 1893.1L946.5 1911.3M937.0 1874.9L955.6 1874.9M937.0 1902.2L946.5 1902.2M937.0 1874.9L937.0 1902.2M923.9 1641.0L935.4 1641.0M923.9 1888.6L937.0 1888.6M923.9 1641.0L923.9 1888.6M940.0 1929.6L955.6 1929.6M940.0 1947.8L955.6 1947.8M940.0 1929.6L940.0 1947.8M904.4 1764.8L923.9 1764.8M904.4 1938.7L940.0 1938.7M904.4 1764.8L904.4 1938.7M893.5 563.8L908.1 563.8M893.5 1851.7L904.4 1851.7M893.5 563.8L893.5 1851.7" stroke="#000" stroke-width="2" fill="none" stroke-linecap="square"/>
<text class="th" x="1135.7" y="232.9" text-anchor="middle" font-size="36">-</text><text class="th" x="1223.8" y="235.5" text-anchor="middle" font-size="36">+</text><text class="th" x="1314.8" y="232.9" text-anchor="middle" font-size="36">-</text><text class="th" x="1409" y="235.5" text-anchor="middle" font-size="36">+</text><text class="th" x="1135.7" y="292.0" text-anchor="middle" font-size="36">-</text><text class="th" x="1224" y="292.0" text-anchor="middle" font-size="36">-</text><text class="th" x="1314.8" y="292.0" text-anchor="middle" font-size="36">+</text><text class="th" x="1409" y="292.0" text-anchor="middle" font-size="36">+</text>
<g font-size="37" class="th">
<text transform="translate(1487 297.1) rotate(-47.5)" textLength="125" lengthAdjust="spacingAndGlyphs">2. vs 1.</text>
<text transform="translate(1548.3 302.4) rotate(-47.5)" textLength="125" lengthAdjust="spacingAndGlyphs">4. vs 3.</text>
<text transform="translate(1616.6 304.7) rotate(-47.5)" xml:space="preserve" textLength="390" lengthAdjust="spacingAndGlyphs">Effect  of A3B**-hUGI</text>
<text transform="translate(1674 306.2) rotate(-47.5)" textLength="312" lengthAdjust="spacingAndGlyphs">over E2 response</text>
</g>
<text class="th" xml:space="preserve" transform="translate(876.4 1747) rotate(-90)" font-size="38" textLength="1220" lengthAdjust="spacingAndGlyphs">Hits: 90 genes, E2 responders modified  by A3B**-hUGI expression</text>
<defs><linearGradient id="cb" x1="0" x2="1" y1="0" y2="0"><stop offset="0" stop-color="#3f7ef9"/><stop offset="0.15" stop-color="#4a88fa"/><stop offset="0.5" stop-color="#fbfcee"/><stop offset="0.85" stop-color="#f44a4c"/><stop offset="1" stop-color="#f83c3c"/></linearGradient></defs>
<rect x="1081.7" y="2063.7" width="146.2" height="25.9" fill="url(#cb)"/>
<rect x="1086.3" y="2063.7" width="3" height="6" fill="#fdfdfd"/><rect x="1086.3" y="2083.6" width="3" height="6" fill="#fdfdfd"/><rect x="1121.0" y="2063.7" width="3" height="6" fill="#fdfdfd"/><rect x="1121.0" y="2083.6" width="3" height="6" fill="#fdfdfd"/><rect x="1189.7" y="2063.7" width="3" height="6" fill="#fdfdfd"/><rect x="1189.7" y="2083.6" width="3" height="6" fill="#fdfdfd"/><rect x="1222.3" y="2063.7" width="3" height="6" fill="#fdfdfd"/><rect x="1222.3" y="2083.6" width="3" height="6" fill="#fdfdfd"/>
<rect x="1397.8" y="1990.2" width="42.2" height="12.9" fill="#f44a4f" stroke="#222" stroke-width="1.2"/>
<rect x="1397.8" y="2024.7" width="42.2" height="13" fill="#fdfdf0" stroke="#222" stroke-width="1.2"/>
<rect x="1397.8" y="2059.2" width="42.2" height="13.8" fill="#4a8cfb" stroke="#222" stroke-width="1.2"/>
<path d="M422.2 2262.7H1231.3M422.2 2308.6H1231.3M422.2 2495.5H1231.3" stroke="#222" stroke-width="1.8" fill="none"/>
<text class="thp" id="pa" x="1.00" y="338.00" font-size="64" fill="#000" textLength="34.00" lengthAdjust="spacingAndGlyphs">a</text>
<text class="th" id="a1" x="163.00" y="425.00" font-size="33.5" fill="#000" textLength="234.00" lengthAdjust="spacingAndGlyphs">A3B**-hUGI</text>
<text class="th" id="a2" x="84.00" y="476.00" font-size="33.5" fill="#000" textLength="403.00" lengthAdjust="spacingAndGlyphs">inducible T-47D cells</text>
<text class="th" id="an0" x="108.40" y="623.40" font-size="34.6" fill="#000" textLength="32.00" lengthAdjust="spacingAndGlyphs">1.</text>
<text class="th" id="an1" x="224.80" y="623.40" font-size="34.6" fill="#000" textLength="33.40" lengthAdjust="spacingAndGlyphs">2.</text>
<text class="th" id="an2" x="337.00" y="623.40" font-size="34.6" fill="#000" textLength="32.00" lengthAdjust="spacingAndGlyphs">3.</text>
<text class="th" id="an3" x="450.40" y="623.40" font-size="34.6" fill="#000" textLength="32.60" lengthAdjust="spacingAndGlyphs">4.</text>
<text class="th" id="ad0" x="67.00" y="659.40" font-size="35" fill="#000" textLength="110.00" lengthAdjust="spacingAndGlyphs">DMSO</text>
<text class="th" id="ad1" x="185.00" y="659.40" font-size="35" fill="#000" textLength="109.60" lengthAdjust="spacingAndGlyphs">DMSO</text>
<text class="th" id="ad2" x="318.00" y="659.40" font-size="35" fill="#000" textLength="67.00" lengthAdjust="spacingAndGlyphs">Dox</text>
<text class="th" id="ad3" x="431.00" y="659.40" font-size="35" fill="#000" textLength="69.00" lengthAdjust="spacingAndGlyphs">Dox</text>
<text class="th" id="ap0" x="110.80" y="698.00" font-size="36" fill="#000" textLength="24.40" lengthAdjust="spacingAndGlyphs">+</text>
<text class="th" id="ap1" x="227.80" y="698.00" font-size="36" fill="#000" textLength="24.40" lengthAdjust="spacingAndGlyphs">+</text>
<text class="th" id="ap2" x="339.80" y="698.00" font-size="36" fill="#000" textLength="24.40" lengthAdjust="spacingAndGlyphs">+</text>
<text class="th" id="ap3" x="453.80" y="698.00" font-size="36" fill="#000" textLength="24.40" lengthAdjust="spacingAndGlyphs">+</text>
<text class="th" id="ae0" x="67.00" y="731.30" font-size="35" fill="#000" textLength="110.00" lengthAdjust="spacingAndGlyphs">DMSO</text>
<text class="th" id="ae1" x="218.00" y="731.30" font-size="35" fill="#000" textLength="44.00" lengthAdjust="spacingAndGlyphs">E2</text>
<text class="th" id="ae2" x="296.00" y="731.30" font-size="35" fill="#000" textLength="110.40" lengthAdjust="spacingAndGlyphs">DMSO</text>
<text class="th" id="ae3" x="444.00" y="731.30" font-size="35" fill="#000" textLength="43.00" lengthAdjust="spacingAndGlyphs">E2</text>
<text class="th" id="ab1" x="515.40" y="658.30" font-size="35" fill="#4a86ec" textLength="288.40" lengthAdjust="spacingAndGlyphs">48-hour induction</text>
<text class="th" id="ab2" x="536.40" y="731.00" font-size="35" fill="#4a86ec" textLength="294.60" lengthAdjust="spacingAndGlyphs">2-hour stimulation</text>
<text class="th" id="ar1" x="314.20" y="813.50" font-size="29" fill="#f3434c" textLength="121.80" lengthAdjust="spacingAndGlyphs">RNA-seq</text>
<text class="th" id="ar2" x="195.20" y="925.00" font-size="28.5" fill="#f3434c" textLength="222.80" lengthAdjust="spacingAndGlyphs">DESeq2 analysis</text>
<text class="thp" id="pb" x="-7.00" y="1185.00" font-size="73" fill="#000" textLength="51.00" lengthAdjust="spacingAndGlyphs">b</text>
<text class="th" id="bt1" x="90.00" y="1194.00" font-size="37.7" fill="#000" textLength="626.00" lengthAdjust="spacingAndGlyphs">819 differentially expressed genes,</text>
<text class="th" id="bt2" x="158.00" y="1241.30" font-size="37.7" fill="#000" textLength="490.00" lengthAdjust="spacingAndGlyphs">E2 vs. DMSO, non-induced</text>
<text class="th" id="bt3" x="327.00" y="1284.00" font-size="37.7" fill="#000" textLength="151.00" lengthAdjust="spacingAndGlyphs">(2. vs 1.)</text>
<text class="th" id="by1a" x="120.50" y="1343.30" font-size="34" fill="#000" textLength="54.50" lengthAdjust="spacingAndGlyphs">log</text>
<text class="th" id="by1b" x="172.40" y="1343.30" font-size="20" fill="#000" textLength="12.70" lengthAdjust="spacingAndGlyphs">2</text>
<text class="th" id="by1c" x="195.90" y="1343.30" font-size="34" fill="#000" textLength="199.70" lengthAdjust="spacingAndGlyphs">fold change,</text>
<text class="th" id="by2" x="201.80" y="1385.50" font-size="34" fill="#000" textLength="113.10" lengthAdjust="spacingAndGlyphs">4. vs 3.</text>
<text class="th" id="byx" x="611.40" y="1384.50" font-size="36" fill="#000" textLength="66.80" lengthAdjust="spacingAndGlyphs">y=x</text>
<text class="th" id="bx1a" x="511.20" y="1849.50" font-size="34" fill="#000" textLength="53.80" lengthAdjust="spacingAndGlyphs">log</text>
<text class="th" id="bx1b" x="562.40" y="1849.50" font-size="20" fill="#000" textLength="13.90" lengthAdjust="spacingAndGlyphs">2</text>
<text class="th" id="bx1c" x="585.80" y="1849.50" font-size="34" fill="#000" textLength="200.50" lengthAdjust="spacingAndGlyphs">fold change,</text>
<text class="th" id="bx2" x="591.50" y="1892.70" font-size="34" fill="#000" textLength="114.10" lengthAdjust="spacingAndGlyphs">2. vs 1.</text>
<text class="th" id="br1" x="246.80" y="1437.50" font-size="30" fill="#f3434c" textLength="240.20" lengthAdjust="spacingAndGlyphs">12.9% enhanced</text>
<text class="th" id="br2" x="277.00" y="1475.30" font-size="30" fill="#f3434c" textLength="176.60" lengthAdjust="spacingAndGlyphs">E2 response</text>
<text class="th" id="br3" x="257.00" y="1513.00" font-size="30" fill="#f3434c" textLength="220.20" lengthAdjust="spacingAndGlyphs">by A3B**-hUGI</text>
<text class="th" id="bb1" x="507.00" y="1651.90" font-size="30" fill="#4a86ec" textLength="253.80" lengthAdjust="spacingAndGlyphs">87.1% dampened</text>
<text class="th" id="bb2" x="546.00" y="1689.00" font-size="30" fill="#4a86ec" textLength="176.40" lengthAdjust="spacingAndGlyphs">E2 response</text>
<text class="th" id="bb3" x="525.00" y="1725.70" font-size="30" fill="#4a86ec" textLength="218.60" lengthAdjust="spacingAndGlyphs">by A3B**-hUGI</text>
<text class="th" id="bxt-3" x="69.0" y="1803.5" font-size="24.5" text-anchor="middle" fill="#000">-3</text>
<text class="" id="bxt-1" x="185.8" y="1803.5" font-size="24.5" text-anchor="middle" fill="#000">-1</text>
<text class="th" id="bxt1" x="305.0" y="1803.5" font-size="24.5" text-anchor="middle" fill="#000">1</text>
<text class="th" id="bxt3" x="423.0" y="1803.5" font-size="24.5" text-anchor="middle" fill="#000">3</text>
<text class="th" id="bxt5" x="540.2" y="1803.5" font-size="24.5" text-anchor="middle" fill="#000">5</text>
<text class="th" id="byt5" x="214.9" y="1466.8" font-size="27" text-anchor="middle" fill="#000">5</text>
<text class="th" id="byt3" x="214.7" y="1588.4" font-size="27" text-anchor="middle" fill="#000">3</text>
<text class="th" id="byt1" x="214.0" y="1710.0" font-size="27" text-anchor="middle" fill="#000">1</text>
<text class="" id="byt-1" x="210.8" y="1831.6" font-size="27" text-anchor="middle" fill="#000">-1</text>
<text class="th" id="byt-3" x="212.0" y="1953.1999999999998" font-size="27" text-anchor="middle" fill="#000">-3</text>
<text class="thp" id="pc" x="796.00" y="174.70" font-size="62" fill="#000" textLength="37.80" lengthAdjust="spacingAndGlyphs">c</text>
<text class="th" id="cn0" x="1123.00" y="186.80" font-size="36" fill="#000" textLength="36.00" lengthAdjust="spacingAndGlyphs">1.</text>
<text class="th" id="cn1" x="1213.00" y="186.80" font-size="36" fill="#000" textLength="36.60" lengthAdjust="spacingAndGlyphs">2.</text>
<text class="th" id="cn2" x="1304.40" y="186.80" font-size="36" fill="#000" textLength="35.40" lengthAdjust="spacingAndGlyphs">3.</text>
<text class="th" id="cn3" x="1399.80" y="186.80" font-size="36" fill="#000" textLength="35.60" lengthAdjust="spacingAndGlyphs">4.</text>
<text class="th" id="ce2" x="1002.20" y="228.00" font-size="36" fill="#000" textLength="47.40" lengthAdjust="spacingAndGlyphs">E2</text>
<text class="th" id="ca3" x="842.00" y="288.70" font-size="37" fill="#000" textLength="217.20" lengthAdjust="spacingAndGlyphs">A3B**-hUGI</text>
<text class="th" id="lg1" x="1029.40" y="2004.40" font-size="35" fill="#000" textLength="247.60" lengthAdjust="spacingAndGlyphs">RNA-seq signal</text>
<text class="th" id="lg2" x="1068.00" y="2042.00" font-size="35" fill="#000" textLength="169.00" lengthAdjust="spacingAndGlyphs">(logRPKM)</text>
<text class="th" id="lgm1" x="1072.60" y="2116.60" font-size="31.5" fill="#000" textLength="26.40" lengthAdjust="spacingAndGlyphs">-1</text>
<text class="th" id="lg0" x="1155.4" y="2117.6" font-size="31.5" text-anchor="middle" fill="#000">0</text>
<text class="th" id="lgp1" x="1217.9" y="2119.7" font-size="31.5" text-anchor="middle" fill="#000">1</text>
<text class="th" id="lu" x="1445.20" y="2003.10" font-size="33" fill="#f3434c" textLength="218.80" lengthAdjust="spacingAndGlyphs">up-regulation</text>
<text class="th" id="ln" x="1446.20" y="2039.00" font-size="33" fill="#000" textLength="169.80" lengthAdjust="spacingAndGlyphs">no change</text>
<text class="th" id="ld" x="1446.20" y="2073.00" font-size="33" fill="#4a86ec" textLength="264.80" lengthAdjust="spacingAndGlyphs">down-regulation</text>
<text class="thp" id="pd" x="288.40" y="2189.90" font-size="75" fill="#000" textLength="50.00" lengthAdjust="spacingAndGlyphs">d</text>
<text class="th" id="dt1" x="403.60" y="2201.00" font-size="34.3" fill="#000" textLength="896.00" lengthAdjust="spacingAndGlyphs">Enrichment analysis using 90 E2-responders modified by</text>
<text class="th" id="dt2" x="665.40" y="2242.50" font-size="34.3" fill="#000" textLength="374.60" lengthAdjust="spacingAndGlyphs">A3B**-hUGI expression</text>
<text class="th" id="dh1" x="502.40" y="2297.30" font-size="33.5" fill="#000" textLength="279.00" lengthAdjust="spacingAndGlyphs">Hallmark gene set</text>
<text class="th" id="dh2" x="869.20" y="2297.30" font-size="33.5" fill="#000" textLength="122.80" lengthAdjust="spacingAndGlyphs">hit/total</text>
<text class="th" id="dh3" x="1083.00" y="2297.30" font-size="33.5" fill="#000" textLength="66.60" lengthAdjust="spacingAndGlyphs">FDR</text>
<text class="th" id="dr0a" x="427.40" y="2344.50" font-size="33.5" fill="#000" textLength="370.80" lengthAdjust="spacingAndGlyphs">Estrogen response early</text>
<text class="th" id="dr0b" x="877.00" y="2344.50" font-size="33.5" fill="#000" textLength="111.00" lengthAdjust="spacingAndGlyphs">28/200</text>
<text class="th" id="dr0c" x="1047.00" y="2344.50" font-size="33.5" fill="#000" textLength="140.40" lengthAdjust="spacingAndGlyphs">4.00E-42</text>
<text class="th" id="dr1a" x="427.40" y="2390.40" font-size="33.5" fill="#000" textLength="355.00" lengthAdjust="spacingAndGlyphs">Estrogen response late</text>
<text class="th" id="dr1b" x="877.00" y="2390.40" font-size="33.5" fill="#000" textLength="111.00" lengthAdjust="spacingAndGlyphs">20/200</text>
<text class="th" id="dr1c" x="1046.00" y="2390.40" font-size="33.5" fill="#000" textLength="138.00" lengthAdjust="spacingAndGlyphs">8.42E-27</text>
<text class="th" id="dr2a" x="427.40" y="2437.00" font-size="33.5" fill="#000" textLength="264.00" lengthAdjust="spacingAndGlyphs">UV response (up)</text>
<text class="th" id="dr2b" x="886.00" y="2437.00" font-size="33.5" fill="#000" textLength="92.40" lengthAdjust="spacingAndGlyphs">6/158</text>
<text class="th" id="dr2c" x="1047.00" y="2437.00" font-size="33.5" fill="#000" textLength="139.00" lengthAdjust="spacingAndGlyphs">1.86E-05</text>
<text class="th" id="dr3a" x="428.40" y="2482.90" font-size="33.5" fill="#000" textLength="150.60" lengthAdjust="spacingAndGlyphs">Glycolysis</text>
<text class="th" id="dr3b" x="887.00" y="2482.90" font-size="33.5" fill="#000" textLength="90.40" lengthAdjust="spacingAndGlyphs">4/200</text>
<text class="th" id="dr3c" x="1048.00" y="2482.90" font-size="33.5" fill="#000" textLength="138.00" lengthAdjust="spacingAndGlyphs">8.70E-03</text>
</svg></body></html>
